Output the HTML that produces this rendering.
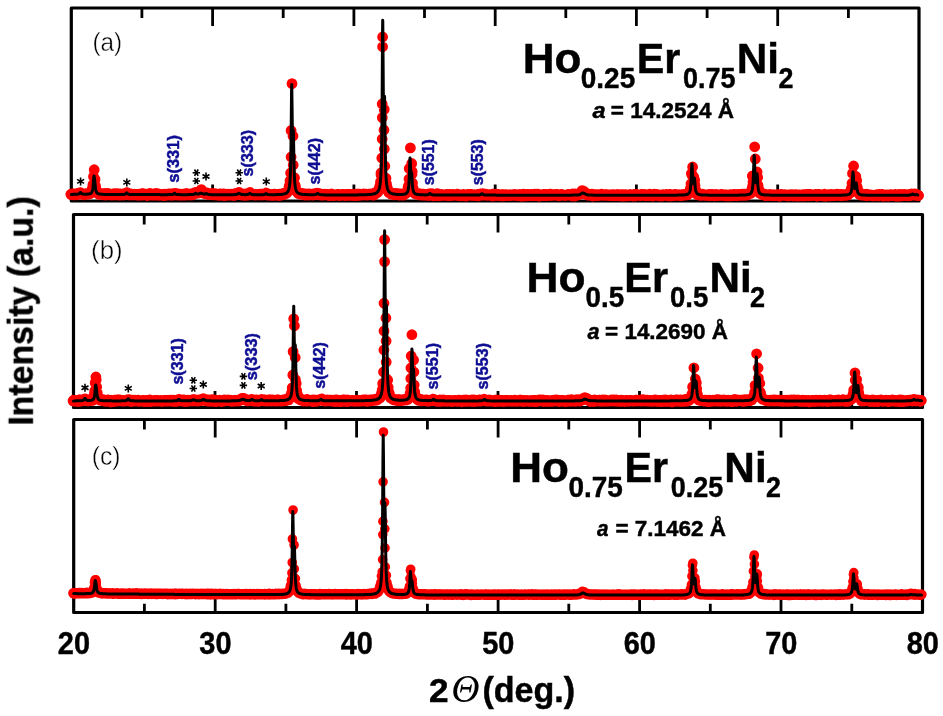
<!DOCTYPE html>
<html><head><meta charset="utf-8"><title>XRD patterns</title>
<style>html,body{margin:0;padding:0;background:#fff}svg{display:block}</style></head>
<body>
<svg width="943" height="716" viewBox="0 0 943 716">
<rect width="943" height="716" fill="#fff"/>
<path d="M141.9 9.1v9M141.9 199.9v-7.6M212.6 9.1v16.9M212.6 199.9v-15.5M283.2 9.1v9M283.2 199.9v-7.6M353.9 9.1v16.9M353.9 199.9v-15.5M424.5 9.1v9M424.5 199.9v-7.6M495.2 9.1v16.9M495.2 199.9v-15.5M565.8 9.1v9M565.8 199.9v-7.6M636.4 9.1v16.9M636.4 199.9v-15.5M707.1 9.1v9M707.1 199.9v-7.6M777.7 9.1v16.9M777.7 199.9v-15.5M848.4 9.1v9M848.4 199.9v-7.6" stroke="#000" stroke-width="2.8" fill="none"/>
<path d="M144.2 215.6v9M144.2 406.4v-7.6M215 215.6v16.9M215 406.4v-15.5M285.8 215.6v9M285.8 406.4v-7.6M356.5 215.6v16.9M356.5 406.4v-15.5M427.2 215.6v9M427.2 406.4v-7.6M498 215.6v16.9M498 406.4v-15.5M568.8 215.6v9M568.8 406.4v-7.6M639.5 215.6v16.9M639.5 406.4v-15.5M710.2 215.6v9M710.2 406.4v-7.6M781 215.6v16.9M781 406.4v-15.5M851.8 215.6v9M851.8 406.4v-7.6" stroke="#000" stroke-width="2.8" fill="none"/>
<path d="M144.4 420.6v9M144.4 611.4v-7.6M215.2 420.6v16.9M215.2 611.4v-15.5M285.9 420.6v9M285.9 611.4v-7.6M356.6 420.6v16.9M356.6 611.4v-15.5M427.4 420.6v9M427.4 611.4v-7.6M498.1 420.6v16.9M498.1 611.4v-15.5M568.8 420.6v9M568.8 611.4v-7.6M639.6 420.6v16.9M639.6 611.4v-15.5M710.3 420.6v9M710.3 611.4v-7.6M781 420.6v16.9M781 611.4v-15.5M851.8 420.6v9M851.8 611.4v-7.6" stroke="#000" stroke-width="2.8" fill="none"/>
<rect x="71.3" y="8" width="847.7" height="193" fill="none" stroke="#000" stroke-width="3.2" stroke-linejoin="round"/>
<rect x="73.5" y="214.5" width="849" height="193" fill="none" stroke="#000" stroke-width="3.2" stroke-linejoin="round"/>
<rect x="73.7" y="419.5" width="848.8" height="193" fill="none" stroke="#000" stroke-width="3.2" stroke-linejoin="round"/>
<path d="M71 194.2L71.5 194.4L72 194.2L72.5 194.1L73 193.9L73.5 194.2L74 194.6L74.5 194.4L75 194.6L75.5 194.3L76 194.4L76.5 194.3L77 193.6L77.5 194.5L78 194.3L78.5 194.2L79 193.3L79.5 193.1L80 192.9L80.5 192.8L81 193.3L81.5 193.6L82 194.1L82.5 193.8L83 194.2L83.5 194.2L84 193.9L84.5 194.7L85 194.3L85.5 194.5L86 193.8L86.5 193.8L87 193.9L87.5 193.9L88 194.1L88.5 193.9L89 193.5L89.5 193.2L90 193.2L90.5 193.5L91 192.4L91.5 192.1L92 191.1L92.5 188.3M96 189.7L96.5 191.3L97 191.7L97.5 193.1L98 193.4L98.5 193.8L99 194.2L99.5 193.9L100 193.9L100.5 193.5L101 194.2L101.5 193.9L102 194L102.5 193.7L103 193.8L103.5 194L104 194.7L104.5 193.5L105 193.7L105.5 194.4L106 194.8L106.5 194.5L107 193.6L107.5 193.4L108 194.4L108.5 194.1L109 193.9L109.5 194.7L110 194.7L110.5 194.4L111 194.4L111.5 194.5L112 194.9L112.5 194.6L113 194.6L113.5 194.6L114 193.8L114.5 194.8L115 194.7L115.5 194.6L116 193.7L116.5 194.2L117 194.7L117.5 193.8L118 194.3L118.5 194.8L119 193.9L119.5 195L120 194.6L120.5 194.3L121 194.5L121.5 194.6L122 194.4L122.5 194.8L123 194.1L123.5 194.2L124 194.7L124.5 194.3L125 193.9L125.5 194.4L126 194.3L126.5 193.2L127 192.8L127.5 193.7L128 194L128.5 194.1L129 194.8L129.5 194L130 194.8L130.5 194L131 194.1L131.5 194.6L132 194.8L132.5 194.7L133 194.6L133.5 194.5L134 194.5L134.5 194.7L135 194.4L135.5 194.6L136 194.7L136.5 194.5L137 194.7L137.5 194.7L138 195.2L138.5 194.6L139 194.3L139.5 194.4L140 194.5L140.5 194.8L141 194.4L141.5 194.6L142 195.1L142.5 193.6L143 194.1L143.5 194.6L144 194.6L144.5 194.6L145 194.4L145.5 194.7L146 194.6L146.5 194.3L147 195.4L147.5 194.6L148 194.3L148.5 194.5L149 194.4L149.5 194.5L150 193.6L150.5 194.4L151 194.9L151.5 194.1L152 194.5L152.5 194.9L153 194.8L153.5 195.1L154 193.9L154.5 194.4L155 194.4L155.5 194.8L156 194.9L156.5 193.6L157 194.9L157.5 194L158 194.8L158.5 194L159 194.6L159.5 195L160 194.5L160.5 194.6L161 194.8L161.5 194.6L162 194.5L162.5 195.1L163 194.9L163.5 194.5L164 195.5L164.5 194.2L165 194.9L165.5 194.5L166 194.6L166.5 194.8L167 194.6L167.5 194.8L168 194L168.5 194L169 194.8L169.5 194.2L170 194.2L170.5 194L171 195L171.5 194.8L172 195L172.5 194.1L173 194.3L173.5 193.7L174 194.1L174.5 194.1L175 193.5L175.5 194.7L176 194.7L176.5 194.3L177 193.8L177.5 195L178 194.5L178.5 194.3L179 194.7L179.5 194.7L180 195L180.5 194.2L181 194.9L181.5 195L182 195L182.5 194.5L183 194.3L183.5 194.9L184 194.6L184.5 194.6L185 195L185.5 194.4L186 193.7L186.5 194.4L187 193.8L187.5 194.8L188 194.6L188.5 194.2L189 194.4L189.5 194.7L190 194.4L190.5 194.9L191 194.3L191.5 194.7L192 194.8L192.5 194.8L193 193.9L193.5 194.4L194 193.3L194.5 193.3L195 192.6L195.5 193.4L196 192.7L196.5 193.2L197 193.2L197.5 193.1L198 192.7L198.5 192.6L199 192.7L199.5 191.5L200 191L200.5 190.6L201 189.9L201.5 189.8L202 190.6L202.5 191.8L203 191.5L203.5 192.4L204 193.3L204.5 193.5L205 193.4L205.5 193.7L206 193.4L206.5 192.8L207 193L207.5 193.6L208 194.4L208.5 194L209 193.9L209.5 194L210 193.8L210.5 194.4L211 194L211.5 194.6L212 193.6L212.5 194.6L213 194.3L213.5 193.8L214 194.8L214.5 194.4L215 193.8L215.5 194.3L216 194.7L216.5 194.4L217 194.9L217.5 194.9L218 194.8L218.5 194.7L219 195.1L219.5 194.8L220 194.8L220.5 193.9L221 194.9L221.5 195.1L222 194.5L222.5 194.5L223 195.3L223.5 194L224 194.8L224.5 195.5L225 194.3L225.5 194.9L226 195.3L226.5 194.6L227 194.9L227.5 195L228 194.4L228.5 194.6L229 194.8L229.5 195L230 194.7L230.5 194.6L231 194.3L231.5 194.5L232 194.9L232.5 194.6L233 194.3L233.5 194.3L234 195.5L234.5 194.9L235 194.7L235.5 193.5L236 194.6L236.5 194.4L237 194.7L237.5 194L238 193.6L238.5 193.4L239 192.4L239.5 193.6L240 193.7L240.5 193.6L241 194.6L241.5 194.9L242 193.9L242.5 194.2L243 194.6L243.5 194.6L244 194.4L244.5 194.2L245 195.3L245.5 194.9L246 194.1L246.5 194.1L247 195.1L247.5 194.8L248 195L248.5 194.4L249 193.5L249.5 193.5L250 192.6L250.5 193.5L251 194.1L251.5 194.5L252 194.2L252.5 194.5L253 194.7L253.5 194.7L254 194.8L254.5 194.7L255 194.5L255.5 194.9L256 194.7L256.5 194.4L257 194.4L257.5 194.7L258 194.6L258.5 194.7L259 194.7L259.5 194.7L260 194.6L260.5 194.2L261 194.8L261.5 195L262 194.8L262.5 194.6L263 194.8L263.5 194.3L264 193.9L264.5 194.5L265 194L265.5 194.3L266 193.5L266.5 193.1L267 194L267.5 195L268 194.4L268.5 194.1L269 194.3L269.5 194.8L270 194.8L270.5 194.7L271 195.1L271.5 194.9L272 194.6L272.5 194.8L273 195.2L273.5 194.9L274 195L274.5 194.2L275 194.5L275.5 194.8L276 194.5L276.5 194.9L277 194.7L277.5 194.8L278 194.4L278.5 195.4L279 194.9L279.5 194.3L280 194.4L280.5 195.3L281 194.2L281.5 194.6L282 194.6L282.5 194.2L283 193.7L283.5 194.1L284 194L284.5 194.2L285 193.9L285.5 193.4L286 193.5L286.5 193.1L287 192.6L287.5 192L288 191.1L288.5 190.4L289 188.1L289.5 185.5M295 185.3L295.5 188.2L296 190.3L296.5 190.8L297 191.8L297.5 191.8L298 193.1L298.5 193.5L299 192.8L299.5 193.6L300 194L300.5 193.3L301 193.4L301.5 193.7L302 194L302.5 193.7L303 194.3L303.5 194.4L304 194.6L304.5 194.7L305 195L305.5 194.9L306 194L306.5 194.4L307 194.2L307.5 194.2L308 194.6L308.5 194.6L309 194.8L309.5 194.1L310 194.2L310.5 194.6L311 194.6L311.5 194.5L312 194.6L312.5 194.4L313 194.9L313.5 194.8L314 194.6L314.5 194.4L315 194.5L315.5 193.5L316 194L316.5 194.2L317 193.3L317.5 193.6L318 193.9L318.5 193.7L319 194.3L319.5 194.4L320 194.8L320.5 194.9L321 194.7L321.5 194.4L322 194.7L322.5 194.7L323 195L323.5 194.9L324 194.5L324.5 194.3L325 194.6L325.5 194.5L326 194.4L326.5 194.7L327 194.6L327.5 194.8L328 195L328.5 194.6L329 195.6L329.5 194.7L330 195.2L330.5 194.8L331 195.2L331.5 194L332 194.5L332.5 194.9L333 195L333.5 195.6L334 194.9L334.5 195.3L335 195.1L335.5 195.1L336 195L336.5 194.8L337 195L337.5 194.4L338 195.2L338.5 194.5L339 194.9L339.5 195.6L340 194.7L340.5 194.8L341 195.2L341.5 194.8L342 194.5L342.5 194.9L343 195L343.5 195.1L344 194.5L344.5 195.4L345 195.4L345.5 194.8L346 194.9L346.5 194.7L347 195.3L347.5 194.6L348 195L348.5 194.6L349 194.6L349.5 195.1L350 195.3L350.5 194.8L351 194.6L351.5 195.1L352 194.8L352.5 194.9L353 195.3L353.5 195.2L354 194.6L354.5 195.6L355 194.8L355.5 195.1L356 194.6L356.5 194.8L357 194.2L357.5 195.4L358 195.2L358.5 194.3L359 194.2L359.5 194.2L360 195.2L360.5 194.6L361 194.7L361.5 194.6L362 194.7L362.5 194.3L363 194.7L363.5 194.2L364 194.6L364.5 194.8L365 194.8L365.5 194.5L366 194.3L366.5 194.7L367 194.4L367.5 195.1L368 194.8L368.5 194.5L369 194.3L369.5 194.2L370 194.1L370.5 194.2L371 194.4L371.5 194.5L372 194.4L372.5 194.9L373 193.8L373.5 194L374 194.9L374.5 193.1L375 193.4L375.5 193.5L376 193.3L376.5 193.1L377 192.5L377.5 192.3L378 191.6L378.5 191.1L379 189.2L379.5 188L380 185.9M387 187.1L387.5 189.4L388 190.1L388.5 191.5L389 192.6L389.5 192.2L390 192.8L390.5 193L391 193.8L391.5 193.6L392 194L392.5 193.5L393 193.9L393.5 194L394 193.4L394.5 194.6L395 194.5L395.5 193.6L396 194.5L396.5 194.2L397 194.5L397.5 194.5L398 193.8L398.5 194.3L399 194.9L399.5 194.2L400 194L400.5 193.9L401 193.9L401.5 194.4L402 194.9L402.5 194.4L403 194.2L403.5 194.9L404 193.8L404.5 193.6L405 193.9L405.5 193.7L406 192.8L406.5 192.3L407 192.2L407.5 191.1L408 188.9L408.5 186M413 188.4L413.5 190.2L414 191.8L414.5 192.9L415 193.6L415.5 193.3L416 193.7L416.5 194L417 193.6L417.5 194.2L418 194.1L418.5 194.5L419 194L419.5 193.8L420 194.6L420.5 194.7L421 194.4L421.5 195L422 194.6L422.5 194.5L423 194.9L423.5 194.2L424 194.5L424.5 194.7L425 195L425.5 194.7L426 194.9L426.5 194.5L427 194.8L427.5 195.3L428 194.4L428.5 195.4L429 194.1L429.5 194.1L430 193.9L430.5 194.4L431 193.9L431.5 193.8L432 194.9L432.5 195L433 195L433.5 195.7L434 194.9L434.5 195L435 195.2L435.5 195L436 195.5L436.5 194.5L437 194.8L437.5 193.7L438 195.2L438.5 194.8L439 195.2L439.5 195.7L440 194.9L440.5 194.8L441 194.8L441.5 194.6L442 194.7L442.5 195.2L443 195L443.5 195L444 194.9L444.5 195.3L445 195.2L445.5 194.9L446 195.2L446.5 194.9L447 194.6L447.5 195.5L448 195.2L448.5 194.7L449 195.4L449.5 195.1L450 194.4L450.5 195.6L451 195.1L451.5 195.3L452 195.1L452.5 194.9L453 194.5L453.5 195.3L454 195L454.5 194.9L455 195.1L455.5 195L456 195.2L456.5 194.9L457 195L457.5 194.3L458 194.9L458.5 195.2L459 195.5L459.5 194.9L460 195L460.5 195.6L461 194.9L461.5 195.3L462 195.6L462.5 195L463 195.4L463.5 194.8L464 195.1L464.5 195L465 195.1L465.5 195.4L466 195.9L466.5 194.8L467 194.8L467.5 195.2L468 194.6L468.5 195.2L469 195.2L469.5 194.9L470 195.2L470.5 194.5L471 195.3L471.5 194.5L472 194.8L472.5 194.8L473 194.9L473.5 195.3L474 195.1L474.5 194.9L475 195.2L475.5 195.6L476 195L476.5 195.1L477 195.4L477.5 195.1L478 194.5L478.5 195.8L479 195.7L479.5 194.2L480 194.8L480.5 194.9L481 194.9L481.5 194.5L482 194L482.5 193.9L483 194.6L483.5 195.1L484 194.5L484.5 194.6L485 194.9L485.5 194.3L486 194.9L486.5 194.8L487 195.2L487.5 194.8L488 194.7L488.5 194.9L489 195L489.5 194.8L490 195L490.5 195.3L491 195.5L491.5 195.6L492 194.8L492.5 194.9L493 194.2L493.5 195.7L494 194.8L494.5 195L495 195.2L495.5 194.6L496 195.2L496.5 195L497 194.4L497.5 195.2L498 195.5L498.5 194.4L499 195.3L499.5 195.1L500 195.2L500.5 195.2L501 195.5L501.5 195L502 195.4L502.5 194.9L503 195.3L503.5 194.8L504 195L504.5 195.7L505 195.2L505.5 195L506 194.7L506.5 194.8L507 195.1L507.5 195.4L508 195.2L508.5 195.3L509 195.1L509.5 195.5L510 194.9L510.5 194.9L511 195.4L511.5 195.1L512 195L512.5 194.9L513 195L513.5 195.3L514 195.2L514.5 194.6L515 195.2L515.5 195.1L516 194.7L516.5 195.3L517 195L517.5 195L518 195.4L518.5 195.5L519 194.8L519.5 195.2L520 194.8L520.5 195.9L521 194.9L521.5 195.5L522 194.9L522.5 195.4L523 195.9L523.5 194.2L524 194.9L524.5 195.3L525 195L525.5 194.8L526 195.8L526.5 195.1L527 194.5L527.5 195.4L528 194.5L528.5 195.5L529 194.9L529.5 195.1L530 195.5L530.5 195.1L531 194.6L531.5 194.5L532 195.5L532.5 195.3L533 194.8L533.5 195.4L534 195.3L534.5 195.3L535 194.3L535.5 195L536 195.4L536.5 195.3L537 195.4L537.5 194.2L538 195.1L538.5 195.3L539 196L539.5 194.7L540 195L540.5 195.1L541 195.4L541.5 194.9L542 195.5L542.5 194.8L543 195.2L543.5 194.9L544 195.1L544.5 194.8L545 194.5L545.5 195.5L546 195.2L546.5 194.9L547 195.2L547.5 195.4L548 194.7L548.5 195L549 195.3L549.5 195.3L550 195L550.5 194.3L551 195.5L551.5 195.2L552 195.1L552.5 195L553 195.2L553.5 194.9L554 194.7L554.5 194.8L555 194.9L555.5 194.9L556 194.7L556.5 195.3L557 194.6L557.5 195.3L558 194.7L558.5 195.2L559 195.6L559.5 195.2L560 194.8L560.5 195.1L561 195.1L561.5 194.5L562 194.9L562.5 195.1L563 194.9L563.5 195.1L564 195.3L564.5 195.3L565 195.4L565.5 195.3L566 195L566.5 195.1L567 195L567.5 194.9L568 195L568.5 194.4L569 194.9L569.5 195L570 194.7L570.5 195L571 195.2L571.5 195L572 195.7L572.5 194.1L573 194.9L573.5 194.3L574 195.3L574.5 195.9L575 194L575.5 194.9L576 195L576.5 194.7L577 195L577.5 193.9L578 194.9L578.5 194.6L579 194.4L579.5 194L580 194.1L580.5 193.3L581 193L581.5 192L582 190.7L582.5 191.1L583 191.3L583.5 191.8L584 191.6L584.5 192.2L585 193L585.5 193.3L586 194.1L586.5 194.7L587 194L587.5 193.8L588 194.9L588.5 195.2L589 195.1L589.5 195.1L590 194.6L590.5 194.6L591 195.2L591.5 194.6L592 194.3L592.5 194.6L593 195.9L593.5 195.7L594 194.8L594.5 194.8L595 195.1L595.5 194.8L596 195.5L596.5 195L597 194.7L597.5 195.5L598 194.9L598.5 195.1L599 195.1L599.5 195L600 195.2L600.5 194.8L601 194.4L601.5 194.3L602 194.6L602.5 194.8L603 195.1L603.5 195.1L604 195.3L604.5 195.1L605 194.8L605.5 194.9L606 194.4L606.5 195L607 195.3L607.5 195.3L608 195.1L608.5 195.1L609 195.4L609.5 195.1L610 195.4L610.5 195.3L611 195.2L611.5 195.6L612 194.9L612.5 195L613 194.8L613.5 194.8L614 195.7L614.5 195.7L615 195.1L615.5 195.3L616 195.5L616.5 195.4L617 195.5L617.5 194.7L618 194.9L618.5 195.3L619 195.6L619.5 195.2L620 194.8L620.5 195L621 194.9L621.5 194.8L622 195.7L622.5 194.9L623 195.1L623.5 195.9L624 195.5L624.5 195.3L625 194.9L625.5 195.3L626 195.7L626.5 195.4L627 195.6L627.5 195.2L628 195.3L628.5 195.1L629 195.3L629.5 195.6L630 194.6L630.5 195.1L631 195.2L631.5 194.9L632 195L632.5 195.4L633 195.8L633.5 195.4L634 195.2L634.5 194.6L635 195.8L635.5 195.2L636 195.1L636.5 194.7L637 195.1L637.5 194.8L638 195.2L638.5 195.3L639 195.1L639.5 195.2L640 194.8L640.5 195.6L641 194.9L641.5 194.5L642 195.1L642.5 194.9L643 194.8L643.5 195L644 195.2L644.5 194.7L645 195.1L645.5 195.6L646 195.4L646.5 195.1L647 195.2L647.5 195.1L648 195.1L648.5 195.4L649 195.1L649.5 194.3L650 195.1L650.5 194.8L651 195.4L651.5 194.9L652 195.2L652.5 195.9L653 194.8L653.5 194.7L654 194.6L654.5 194.3L655 194.5L655.5 195.3L656 194.9L656.5 194.5L657 194.6L657.5 195.4L658 194.9L658.5 195L659 195.3L659.5 195.6L660 195.8L660.5 195.5L661 195.2L661.5 195.2L662 195.8L662.5 195.6L663 195L663.5 195.3L664 195.2L664.5 195.2L665 195L665.5 194.7L666 194.9L666.5 194.6L667 195.6L667.5 195.3L668 194.7L668.5 195.6L669 195.4L669.5 194.5L670 195.8L670.5 195.4L671 195.8L671.5 194.7L672 195.3L672.5 195.3L673 195.2L673.5 195.2L674 195.5L674.5 194.6L675 194.7L675.5 194.6L676 194.9L676.5 194.9L677 195.2L677.5 195.2L678 195.1L678.5 194.8L679 194.9L679.5 195.4L680 195.3L680.5 195L681 194.9L681.5 195.5L682 194.8L682.5 195.2L683 195.3L683.5 194.8L684 195.1L684.5 194.4L685 195.1L685.5 194.8L686 194.1L686.5 194.8L687 194.1L687.5 194.7L688 193.8L688.5 193.6L689 193.3L689.5 192.4L690 191.3L690.5 188.5M691.5 173.6L692.5 176M693 183.9L693.5 184.6M694 181L694.5 180.1M695.5 189.9L696 191.3L696.5 193.4L697 193.4L697.5 194.7L698 194.1L698.5 194.6L699 194.4L699.5 194.2L700 195.1L700.5 195.1L701 195.3L701.5 195.1L702 194.7L702.5 194.3L703 194.7L703.5 194.7L704 194.7L704.5 195.2L705 195.1L705.5 194.9L706 195.1L706.5 195L707 195.1L707.5 195.3L708 195.4L708.5 194.8L709 194.5L709.5 195.6L710 195.1L710.5 195.5L711 194.5L711.5 195L712 195.1L712.5 194.6L713 194.9L713.5 195.4L714 195.5L714.5 195.7L715 194.8L715.5 194.6L716 195.3L716.5 195.4L717 195.2L717.5 194.7L718 195.4L718.5 195.4L719 195.3L719.5 195L720 195.2L720.5 195.4L721 194.9L721.5 194.5L722 195.2L722.5 195.3L723 195.1L723.5 195.4L724 194.9L724.5 195.1L725 195L725.5 195.3L726 195.7L726.5 195L727 195.8L727.5 195.7L728 195.4L728.5 195.3L729 195.7L729.5 195L730 195.1L730.5 194.7L731 195.3L731.5 195.6L732 195.3L732.5 195.2L733 195L733.5 195.2L734 194.6L734.5 195.5L735 194.9L735.5 194.7L736 194.8L736.5 194.8L737 195.4L737.5 195.4L738 194.6L738.5 195.4L739 195.3L739.5 194.8L740 194.5L740.5 194.7L741 194.8L741.5 195.1L742 194.8L742.5 194.2L743 195L743.5 194.4L744 195.2L744.5 194.4L745 194.5L745.5 194.4L746 194.5L746.5 195.1L747 194.9L747.5 194.7L748 194.5L748.5 193.7L749 193.9L749.5 193.6L750 193.2L750.5 193.3L751 192.2L751.5 191.3L752 189.6M755.5 179.1L756 180.3M756.5 174.9L757.5 177.5M758.5 188.8L759 191.5L759.5 192.6L760 192.5L760.5 193.3L761 193.3L761.5 194L762 194.4L762.5 194L763 193.8L763.5 195L764 194.8L764.5 195.2L765 194.3L765.5 195.2L766 195.6L766.5 195.6L767 194.8L767.5 195L768 194.9L768.5 195.3L769 195.4L769.5 195L770 194.5L770.5 195.3L771 194.9L771.5 195.3L772 195.2L772.5 195.6L773 195.5L773.5 194.9L774 195.2L774.5 195.7L775 194.9L775.5 195.3L776 195.5L776.5 195.6L777 195.3L777.5 194.7L778 194.7L778.5 195.2L779 195.3L779.5 196L780 194.8L780.5 195.5L781 195.4L781.5 194.6L782 194.9L782.5 195.2L783 195L783.5 195.1L784 195.3L784.5 194.9L785 195.3L785.5 194.9L786 195L786.5 195.4L787 195L787.5 195.3L788 195.7L788.5 195.2L789 195.1L789.5 195.4L790 195L790.5 195.6L791 194.7L791.5 195.4L792 195L792.5 194.9L793 195.8L793.5 194.9L794 195.8L794.5 195.4L795 195.7L795.5 194.8L796 195.6L796.5 195.7L797 195.1L797.5 195.1L798 196L798.5 195.2L799 195L799.5 195L800 195.3L800.5 195.3L801 195.2L801.5 195.8L802 195.1L802.5 195.3L803 195.7L803.5 194.8L804 195.5L804.5 195.8L805 194.7L805.5 194.8L806 194.8L806.5 194.5L807 195.3L807.5 194.5L808 195.4L808.5 195.7L809 194.6L809.5 195.1L810 194.5L810.5 195.5L811 194.9L811.5 195.1L812 195.2L812.5 195.4L813 195.1L813.5 195.2L814 195L814.5 195.2L815 194.8L815.5 195.2L816 194.5L816.5 195L817 195.9L817.5 195.2L818 194.8L818.5 195.3L819 194.9L819.5 194.6L820 194.9L820.5 195.5L821 195.3L821.5 195.2L822 194.9L822.5 194.8L823 195.7L823.5 195.3L824 194.9L824.5 194.4L825 194.7L825.5 196.1L826 194.8L826.5 195.2L827 195.3L827.5 195.1L828 195.1L828.5 194.7L829 194.8L829.5 195.8L830 194.9L830.5 195.5L831 194.6L831.5 195.1L832 195.3L832.5 195.5L833 194.8L833.5 195.4L834 195.3L834.5 194.9L835 195.3L835.5 194.8L836 194.9L836.5 195.1L837 194.2L837.5 195.1L838 194.8L838.5 194.6L839 194.9L839.5 195.4L840 194.9L840.5 195.5L841 194.6L841.5 194.6L842 195.6L842.5 195.1L843 195.3L843.5 194.7L844 195.2L844.5 195L845 195.1L845.5 194.8L846 195.2L846.5 194.5L847 194.3L847.5 194L848 194.8L848.5 193.9L849 193.6L849.5 193.2L850 192.9L850.5 191.8L851 190.8L851.5 188.2M854.5 186.1L855 186.6M856 179.5L856.5 180.7M857 186.8L857.5 189.5L858 191.7L858.5 192.8L859 193.4L859.5 194.3L860 194L860.5 194.7L861 194L861.5 194L862 195.1L862.5 194.9L863 195L863.5 194.9L864 195.1L864.5 194.5L865 195.3L865.5 194.8L866 195.4L866.5 195.1L867 194.4L867.5 194.6L868 195.5L868.5 195L869 195L869.5 195.2L870 195L870.5 194.9L871 195.2L871.5 195.2L872 195.7L872.5 195.2L873 195.8L873.5 195.8L874 195.8L874.5 195.5L875 195.2L875.5 195.2L876 195.1L876.5 194.9L877 195.2L877.5 195L878 195.8L878.5 195.4L879 195L879.5 194.5L880 195.2L880.5 195L881 194.8L881.5 194.8L882 194.4L882.5 195.4L883 195.2L883.5 196.1L884 195.2L884.5 195.1L885 195.7L885.5 195.2L886 195.3L886.5 195.1L887 195L887.5 195.7L888 195.6L888.5 195.8L889 195.1L889.5 195.2L890 194.9L890.5 195.5L891 194.7L891.5 195.4L892 195.6L892.5 195.7L893 194.9L893.5 195.6L894 195L894.5 194.9L895 194.7L895.5 195.6L896 195.8L896.5 195L897 194.9L897.5 195.1L898 196.1L898.5 195.6L899 195L899.5 194.6L900 195L900.5 195.6L901 195.9L901.5 195.1L902 195L902.5 195L903 194.5L903.5 195.5L904 194.8L904.5 195.6L905 194.6L905.5 194.8L906 195.3L906.5 194.9L907 195.5L907.5 195.2L908 194.7L908.5 195.4L909 195.4L909.5 194.4L910 195.7L910.5 195.2L911 195.1L911.5 194.1L912 194.3L912.5 194.3L913 194.9L913.5 194.2L914 194.5L914.5 194.2L915 194.8L915.5 195L916 194.2L916.5 194.6L917 195L917.5 195.5L918 195.3" stroke="#f00" stroke-width="11.0" fill="none" stroke-linecap="round" stroke-linejoin="round"/>
<path d="M93 184.5h0M93.5 176.5h0M95 179.4h0M95.5 185.7h0M290 180.7h0M294.5 177.7h0M380.5 181.7h0M381 174.6h0M386 178.2h0M386.5 183.7h0M409 179.1h0M412 174.3h0M412.5 183.1h0M691 183.8h0M695 185.4h0M752.5 186.5h0M753 181.9h0M758 185.3h0M852 183.2h0M852.5 173.4h0M854 182.2h0M855.5 183.3h0M382.6 37h0M382.6 46.8h0M382.2 104h0M384.2 109.4h0M382.3 117.6h0M384 130h0M382.2 139h0M384.3 149h0M381.8 158h0M384.8 166h0M381 173h0M292 83.6h0M291.1 130.5h0M293 136h0M291.1 157h0M293.2 165h0M290.6 173h0M410.4 147.9h0M411.7 163.5h0M409.2 168.5h0M412.2 171.5h0M94.2 169.7h0M692.6 167h0M693.8 177h0M754.7 146.8h0M755.3 159h0M757.1 172h0M752.3 176h0M853.6 166h0M855.9 176.5h0M71.3 194.7h0M918.5 195.5h0" stroke="#f00" stroke-width="10.8" fill="none" stroke-linecap="round"/>
<path d="M71.30 194.4L71.55 194.4L71.80 194.4L72.05 194.4L72.30 194.4L72.55 194.4L72.80 194.4L73.05 194.3L73.30 194.3L73.55 194.3L73.80 194.3L74.05 194.3L74.30 194.3L74.55 194.3L74.80 194.3L75.05 194.3L75.30 194.3L75.55 194.3L75.80 194.3L76.05 194.3L76.30 194.3L76.55 194.3L76.80 194.3L77.05 194.2L77.30 194.2L77.55 194.2L77.80 194.2L78.05 194.1L78.30 194.1L78.55 194L78.80 193.9L79.05 193.8L79.30 193.6L79.55 193.4L79.80 193.1L80.05 192.8L80.30 192.5L80.55 192.4L80.80 192.6L81.05 192.9L81.30 193.2L81.55 193.5L81.80 193.7L82.05 193.8L82.30 193.9L82.55 194L82.80 194.1L83.05 194.1L83.30 194.1L83.55 194.2L83.80 194.2L84.05 194.2L84.30 194.2L84.55 194.2L84.80 194.2L85.05 194.2L85.30 194.2L85.55 194.2L85.80 194.2L86.05 194.2L86.30 194.2L86.55 194.2L86.80 194.2L87.05 194.2L87.30 194.1L87.55 194.1L87.80 194.1L88.05 194.1L88.30 194.1L88.55 194L88.80 194L89.05 194L89.30 193.9L89.55 193.8L89.80 193.8L90.05 193.7L90.30 193.6L90.55 193.5L90.80 193.3L91.05 193.2L91.30 192.9L91.55 192.7L91.80 192.3L92.05 191.8L92.30 191.1L92.55 190.1L92.80 188.7L93.05 186.7L93.30 183.7L93.55 180.1L93.80 176.8L94.00 175.9L94.05 176L94.30 177.2L94.55 179L94.80 181.2L95.05 184L95.30 186.5L95.55 188.6L95.80 190L96.05 191L96.30 191.7L96.55 192.3L96.80 192.6L97.05 192.9L97.30 193.2L97.55 193.4L97.80 193.5L98.05 193.6L98.30 193.7L98.55 193.8L98.80 193.9L99.05 193.9L99.30 194L99.55 194L99.80 194.1L100.05 194.1L100.30 194.1L100.55 194.2L100.80 194.2L101.05 194.2L101.30 194.2L101.55 194.3L101.80 194.3L102.05 194.3L102.30 194.3L102.55 194.3L102.80 194.3L103.05 194.3L103.30 194.3L103.55 194.4L103.80 194.4L104.05 194.4L104.30 194.4L104.55 194.4L104.80 194.4L105.05 194.4L105.30 194.4L105.55 194.4L105.80 194.4L106.05 194.4L106.30 194.4L106.55 194.4L106.80 194.4L107.05 194.4L107.30 194.4L107.55 194.4L107.80 194.4L108.05 194.4L108.30 194.4L108.55 194.5L108.80 194.5L109.05 194.5L109.30 194.5L109.55 194.5L109.80 194.5L110.05 194.5L110.30 194.5L110.55 194.5L110.80 194.5L111.05 194.5L111.30 194.5L111.55 194.5L111.80 194.5L112.05 194.5L112.30 194.5L112.55 194.5L112.80 194.5L113.05 194.5L113.30 194.5L113.55 194.5L113.80 194.5L114.05 194.5L114.30 194.5L114.55 194.5L114.80 194.5L115.05 194.5L115.30 194.5L115.55 194.5L115.80 194.5L116.05 194.5L116.30 194.5L116.55 194.5L116.80 194.5L117.05 194.5L117.30 194.5L117.55 194.5L117.80 194.5L118.05 194.5L118.30 194.5L118.55 194.5L118.80 194.5L119.05 194.5L119.30 194.5L119.55 194.5L119.80 194.5L120.05 194.5L120.30 194.5L120.55 194.5L120.80 194.5L121.05 194.5L121.30 194.5L121.55 194.5L121.80 194.5L122.05 194.5L122.30 194.5L122.55 194.5L122.80 194.5L123.05 194.4L123.30 194.4L123.55 194.4L123.80 194.4L124.05 194.4L124.30 194.3L124.55 194.3L124.80 194.2L125.05 194.2L125.30 194.1L125.55 193.9L125.80 193.7L126.05 193.5L126.30 193.2L126.55 192.9L126.80 192.8L127.05 192.9L127.30 193.2L127.55 193.5L127.80 193.8L128.05 193.9L128.30 194.1L128.55 194.2L128.80 194.3L129.05 194.3L129.30 194.4L129.55 194.4L129.80 194.4L130.05 194.4L130.30 194.5L130.55 194.5L130.80 194.5L131.05 194.5L131.30 194.5L131.55 194.5L131.80 194.5L132.05 194.5L132.30 194.5L132.55 194.5L132.80 194.5L133.05 194.5L133.30 194.5L133.55 194.5L133.80 194.6L134.05 194.6L134.30 194.6L134.55 194.6L134.80 194.6L135.05 194.6L135.30 194.6L135.55 194.6L135.80 194.6L136.05 194.6L136.30 194.6L136.55 194.6L136.80 194.6L137.05 194.6L137.30 194.6L137.55 194.6L137.80 194.6L138.05 194.6L138.30 194.6L138.55 194.6L138.80 194.6L139.05 194.6L139.30 194.6L139.55 194.6L139.80 194.6L140.05 194.6L140.30 194.6L140.55 194.6L140.80 194.6L141.05 194.6L141.30 194.6L141.55 194.6L141.80 194.6L142.05 194.6L142.30 194.6L142.55 194.6L142.80 194.6L143.05 194.6L143.30 194.6L143.55 194.6L143.80 194.6L144.05 194.6L144.30 194.6L144.55 194.6L144.80 194.6L145.05 194.6L145.30 194.6L145.55 194.6L145.80 194.6L146.05 194.6L146.30 194.6L146.55 194.6L146.80 194.6L147.05 194.6L147.30 194.6L147.55 194.6L147.80 194.6L148.05 194.6L148.30 194.6L148.55 194.6L148.80 194.6L149.05 194.6L149.30 194.6L149.55 194.6L149.80 194.6L150.05 194.6L150.30 194.6L150.55 194.6L150.80 194.6L151.05 194.6L151.30 194.6L151.55 194.6L151.80 194.6L152.05 194.6L152.30 194.6L152.55 194.6L152.80 194.6L153.05 194.6L153.30 194.6L153.55 194.6L153.80 194.6L154.05 194.6L154.30 194.6L154.55 194.6L154.80 194.6L155.05 194.6L155.30 194.6L155.55 194.6L155.80 194.6L156.05 194.6L156.30 194.6L156.55 194.6L156.80 194.6L157.05 194.6L157.30 194.6L157.55 194.6L157.80 194.6L158.05 194.6L158.30 194.6L158.55 194.6L158.80 194.6L159.05 194.6L159.30 194.6L159.55 194.6L159.80 194.6L160.05 194.7L160.30 194.7L160.55 194.7L160.80 194.7L161.05 194.7L161.30 194.7L161.55 194.7L161.80 194.7L162.05 194.7L162.30 194.7L162.55 194.7L162.80 194.7L163.05 194.7L163.30 194.7L163.55 194.7L163.80 194.7L164.05 194.7L164.30 194.7L164.55 194.7L164.80 194.7L165.05 194.7L165.30 194.7L165.55 194.7L165.80 194.7L166.05 194.7L166.30 194.7L166.55 194.7L166.80 194.7L167.05 194.7L167.30 194.7L167.55 194.6L167.80 194.6L168.05 194.6L168.30 194.6L168.55 194.6L168.80 194.6L169.05 194.6L169.30 194.6L169.55 194.6L169.80 194.6L170.05 194.6L170.30 194.6L170.55 194.6L170.80 194.6L171.05 194.6L171.30 194.6L171.55 194.6L171.80 194.5L172.05 194.5L172.30 194.5L172.55 194.4L172.80 194.4L173.05 194.3L173.30 194.1L173.55 194L173.80 193.8L174.05 193.5L174.30 193.3L174.55 193.2L174.80 193.3L175.05 193.6L175.30 193.9L175.55 194.1L175.80 194.2L176.05 194.3L176.30 194.4L176.55 194.4L176.80 194.5L177.05 194.5L177.30 194.5L177.55 194.6L177.80 194.6L178.05 194.6L178.30 194.6L178.55 194.6L178.80 194.6L179.05 194.6L179.30 194.6L179.55 194.6L179.80 194.6L180.05 194.6L180.30 194.6L180.55 194.7L180.80 194.7L181.05 194.7L181.30 194.7L181.55 194.7L181.80 194.7L182.05 194.7L182.30 194.7L182.55 194.7L182.80 194.7L183.05 194.7L183.30 194.7L183.55 194.7L183.80 194.7L184.05 194.7L184.30 194.7L184.55 194.7L184.80 194.7L185.05 194.7L185.30 194.7L185.55 194.7L185.80 194.7L186.05 194.7L186.30 194.7L186.55 194.7L186.80 194.7L187.05 194.7L187.30 194.7L187.55 194.7L187.80 194.7L188.05 194.7L188.30 194.6L188.55 194.6L188.80 194.6L189.05 194.6L189.30 194.6L189.55 194.6L189.80 194.6L190.05 194.6L190.30 194.6L190.55 194.6L190.80 194.6L191.05 194.6L191.30 194.6L191.55 194.6L191.80 194.6L192.05 194.5L192.30 194.5L192.55 194.5L192.80 194.5L193.05 194.4L193.30 194.4L193.55 194.4L193.80 194.3L194.05 194.2L194.30 194.1L194.55 193.9L194.80 193.8L195.05 193.6L195.30 193.4L195.55 193.3L195.80 193.4L196.05 193.6L196.30 193.7L196.55 193.9L196.80 194L197.05 194L197.30 194.1L197.55 194.1L197.80 194.1L198.05 194L198.30 194L198.55 193.9L198.80 193.9L199.05 193.8L199.30 193.7L199.55 193.6L199.80 193.5L200.05 193.4L200.30 193.3L200.55 193.2L200.80 193.2L201.05 193.2L201.30 193.2L201.55 193.3L201.80 193.4L202.05 193.5L202.30 193.6L202.55 193.7L202.80 193.8L203.05 193.9L203.30 193.9L203.55 194L203.80 194.1L204.05 194.1L204.30 194.1L204.55 194.2L204.80 194.1L205.05 194.1L205.30 194.1L205.55 194L205.80 193.9L206.05 193.7L206.30 193.6L206.55 193.6L206.80 193.7L207.05 193.9L207.30 194L207.55 194.2L207.80 194.3L208.05 194.4L208.30 194.4L208.55 194.5L208.80 194.5L209.05 194.5L209.30 194.6L209.55 194.6L209.80 194.6L210.05 194.6L210.30 194.6L210.55 194.6L210.80 194.7L211.05 194.7L211.30 194.7L211.55 194.7L211.80 194.7L212.05 194.7L212.30 194.7L212.55 194.7L212.80 194.7L213.05 194.7L213.30 194.7L213.55 194.7L213.80 194.7L214.05 194.7L214.30 194.7L214.55 194.7L214.80 194.7L215.05 194.7L215.30 194.7L215.55 194.7L215.80 194.7L216.05 194.7L216.30 194.7L216.55 194.7L216.80 194.7L217.05 194.7L217.30 194.7L217.55 194.7L217.80 194.7L218.05 194.7L218.30 194.7L218.55 194.7L218.80 194.8L219.05 194.8L219.30 194.8L219.55 194.8L219.80 194.8L220.05 194.8L220.30 194.8L220.55 194.8L220.80 194.8L221.05 194.8L221.30 194.8L221.55 194.8L221.80 194.8L222.05 194.8L222.30 194.8L222.55 194.8L222.80 194.8L223.05 194.8L223.30 194.8L223.55 194.8L223.80 194.8L224.05 194.8L224.30 194.8L224.55 194.8L224.80 194.8L225.05 194.8L225.30 194.8L225.55 194.8L225.80 194.8L226.05 194.8L226.30 194.8L226.55 194.8L226.80 194.8L227.05 194.8L227.30 194.8L227.55 194.8L227.80 194.8L228.05 194.8L228.30 194.8L228.55 194.8L228.80 194.8L229.05 194.8L229.30 194.8L229.55 194.8L229.80 194.8L230.05 194.8L230.30 194.8L230.55 194.8L230.80 194.8L231.05 194.8L231.30 194.8L231.55 194.8L231.80 194.7L232.05 194.7L232.30 194.7L232.55 194.7L232.80 194.7L233.05 194.7L233.30 194.7L233.55 194.7L233.80 194.7L234.05 194.7L234.30 194.7L234.55 194.6L234.80 194.6L235.05 194.6L235.30 194.6L235.55 194.6L235.80 194.5L236.05 194.5L236.30 194.4L236.55 194.4L236.80 194.3L237.05 194.2L237.30 194.1L237.55 194L237.80 193.9L238.05 193.7L238.30 193.6L238.55 193.4L238.80 193.3L239.05 193.3L239.30 193.4L239.55 193.5L239.80 193.6L240.05 193.8L240.30 193.9L240.55 194.1L240.80 194.2L241.05 194.3L241.30 194.3L241.55 194.4L241.80 194.5L242.05 194.5L242.30 194.5L242.55 194.6L242.80 194.6L243.05 194.6L243.30 194.6L243.55 194.6L243.80 194.6L244.05 194.6L244.30 194.7L244.55 194.7L244.80 194.7L245.05 194.7L245.30 194.7L245.55 194.7L245.80 194.7L246.05 194.6L246.30 194.6L246.55 194.6L246.80 194.6L247.05 194.6L247.30 194.6L247.55 194.5L247.80 194.5L248.05 194.4L248.30 194.3L248.55 194.2L248.80 194L249.05 193.8L249.30 193.6L249.55 193.4L249.80 193.3L250.05 193.4L250.30 193.6L250.55 193.8L250.80 194L251.05 194.2L251.30 194.3L251.55 194.4L251.80 194.5L252.05 194.5L252.30 194.6L252.55 194.6L252.80 194.6L253.05 194.7L253.30 194.7L253.55 194.7L253.80 194.7L254.05 194.7L254.30 194.7L254.55 194.7L254.80 194.7L255.05 194.7L255.30 194.7L255.55 194.7L255.80 194.8L256.05 194.8L256.30 194.8L256.55 194.8L256.80 194.8L257.05 194.8L257.30 194.8L257.55 194.8L257.80 194.8L258.05 194.8L258.30 194.8L258.55 194.8L258.80 194.8L259.05 194.8L259.30 194.8L259.55 194.8L259.80 194.8L260.05 194.8L260.30 194.8L260.55 194.8L260.80 194.8L261.05 194.7L261.30 194.7L261.55 194.7L261.80 194.7L262.05 194.7L262.30 194.7L262.55 194.7L262.80 194.7L263.05 194.7L263.30 194.7L263.55 194.6L263.80 194.6L264.05 194.6L264.30 194.5L264.55 194.5L264.80 194.4L265.05 194.2L265.30 194L265.55 193.8L265.80 193.6L266.05 193.6L266.30 193.7L266.55 193.9L266.80 194.1L267.05 194.3L267.30 194.4L267.55 194.5L267.80 194.5L268.05 194.6L268.30 194.6L268.55 194.6L268.80 194.7L269.05 194.7L269.30 194.7L269.55 194.7L269.80 194.7L270.05 194.7L270.30 194.7L270.55 194.7L270.80 194.7L271.05 194.7L271.30 194.7L271.55 194.7L271.80 194.7L272.05 194.7L272.30 194.7L272.55 194.7L272.80 194.7L273.05 194.7L273.30 194.7L273.55 194.7L273.80 194.7L274.05 194.7L274.30 194.7L274.55 194.7L274.80 194.7L275.05 194.7L275.30 194.7L275.55 194.7L275.80 194.7L276.05 194.7L276.30 194.6L276.55 194.6L276.80 194.6L277.05 194.6L277.30 194.6L277.55 194.6L277.80 194.6L278.05 194.6L278.30 194.6L278.55 194.6L278.80 194.6L279.05 194.5L279.30 194.5L279.55 194.5L279.80 194.5L280.05 194.5L280.30 194.5L280.55 194.4L280.80 194.4L281.05 194.4L281.30 194.4L281.55 194.4L281.80 194.3L282.05 194.3L282.30 194.3L282.55 194.2L282.80 194.2L283.05 194.2L283.30 194.1L283.55 194.1L283.80 194L284.05 194L284.30 193.9L284.55 193.9L284.80 193.8L285.05 193.7L285.30 193.6L285.55 193.5L285.80 193.4L286.05 193.3L286.30 193.1L286.55 193L286.80 192.8L287.05 192.6L287.30 192.3L287.55 192L287.80 191.7L288.05 191.2L288.30 190.7L288.55 190.1L288.80 189.4L289.05 188.4L289.30 187.1L289.55 185.5L289.80 183.3L290.05 180.2L290.30 175.7L290.55 169L290.80 158.5L291.05 141.9L291.30 117.3L291.55 91.4L291.72 84.6L291.80 86.4L292.05 105.8L292.30 126.4L292.55 137L292.80 137.7L293.05 132.1L293.30 130L293.55 139.6L293.80 154.3L294.05 166.1L294.30 174.1L294.55 179.3L294.80 182.8L295.05 185.3L295.30 187L295.55 188.3L295.80 189.4L296.05 190.1L296.30 190.8L296.55 191.3L296.80 191.7L297.05 192.1L297.30 192.3L297.55 192.6L297.80 192.8L298.05 193L298.30 193.2L298.55 193.3L298.80 193.4L299.05 193.5L299.30 193.6L299.55 193.7L299.80 193.8L300.05 193.9L300.30 194L300.55 194L300.80 194.1L301.05 194.1L301.30 194.2L301.55 194.2L301.80 194.2L302.05 194.3L302.30 194.3L302.55 194.3L302.80 194.4L303.05 194.4L303.30 194.4L303.55 194.4L303.80 194.5L304.05 194.5L304.30 194.5L304.55 194.5L304.80 194.5L305.05 194.6L305.30 194.6L305.55 194.6L305.80 194.6L306.05 194.6L306.30 194.6L306.55 194.6L306.80 194.6L307.05 194.6L307.30 194.7L307.55 194.7L307.80 194.7L308.05 194.7L308.30 194.7L308.55 194.7L308.80 194.7L309.05 194.7L309.30 194.7L309.55 194.7L309.80 194.7L310.05 194.7L310.30 194.7L310.55 194.7L310.80 194.7L311.05 194.7L311.30 194.7L311.55 194.7L311.80 194.7L312.05 194.7L312.30 194.7L312.55 194.7L312.80 194.7L313.05 194.7L313.30 194.7L313.55 194.7L313.80 194.7L314.05 194.7L314.30 194.7L314.55 194.7L314.80 194.7L315.05 194.6L315.30 194.6L315.55 194.5L315.80 194.5L316.05 194.4L316.30 194.2L316.55 194.1L316.80 193.8L317.05 193.6L317.30 193.4L317.55 193.4L317.80 193.5L318.05 193.7L318.30 194L318.55 194.2L318.80 194.3L319.05 194.4L319.30 194.5L319.55 194.6L319.80 194.6L320.05 194.7L320.30 194.7L320.55 194.7L320.80 194.8L321.05 194.8L321.30 194.8L321.55 194.8L321.80 194.8L322.05 194.8L322.30 194.8L322.55 194.8L322.80 194.8L323.05 194.8L323.30 194.8L323.55 194.8L323.80 194.8L324.05 194.8L324.30 194.8L324.55 194.9L324.80 194.9L325.05 194.9L325.30 194.9L325.55 194.9L325.80 194.9L326.05 194.9L326.30 194.9L326.55 194.9L326.80 194.9L327.05 194.9L327.30 194.9L327.55 194.9L327.80 194.9L328.05 194.9L328.30 194.9L328.55 194.9L328.80 194.9L329.05 194.9L329.30 194.9L329.55 194.9L329.80 194.9L330.05 194.9L330.30 194.9L330.55 194.9L330.80 194.9L331.05 194.9L331.30 194.9L331.55 194.9L331.80 194.9L332.05 194.9L332.30 194.9L332.55 194.9L332.80 194.9L333.05 194.9L333.30 194.9L333.55 194.9L333.80 194.9L334.05 194.9L334.30 194.9L334.55 194.9L334.80 194.9L335.05 194.9L335.30 194.9L335.55 194.9L335.80 194.9L336.05 194.9L336.30 194.9L336.55 194.9L336.80 194.9L337.05 194.9L337.30 194.9L337.55 194.9L337.80 194.9L338.05 194.9L338.30 194.9L338.55 194.9L338.80 194.9L339.05 194.9L339.30 194.9L339.55 194.9L339.80 194.9L340.05 194.9L340.30 194.9L340.55 194.9L340.80 194.9L341.05 194.9L341.30 194.9L341.55 194.9L341.80 194.9L342.05 194.9L342.30 194.9L342.55 194.9L342.80 194.9L343.05 194.9L343.30 194.9L343.55 194.9L343.80 194.9L344.05 194.9L344.30 194.9L344.55 194.9L344.80 194.9L345.05 194.9L345.30 194.9L345.55 194.9L345.80 194.9L346.05 194.9L346.30 194.9L346.55 194.9L346.80 194.9L347.05 194.9L347.30 194.9L347.55 194.9L347.80 194.9L348.05 194.9L348.30 194.9L348.55 194.9L348.80 194.9L349.05 194.9L349.30 194.9L349.55 194.9L349.80 194.9L350.05 194.9L350.30 194.9L350.55 194.9L350.80 194.9L351.05 194.9L351.30 194.9L351.55 194.9L351.80 194.9L352.05 194.9L352.30 194.9L352.55 194.9L352.80 194.9L353.05 194.9L353.30 194.9L353.55 194.9L353.80 194.9L354.05 194.9L354.30 194.9L354.55 194.9L354.80 194.9L355.05 194.9L355.30 194.9L355.55 194.9L355.80 194.9L356.05 194.9L356.30 194.9L356.55 194.9L356.80 194.9L357.05 194.9L357.30 194.9L357.55 194.9L357.80 194.9L358.05 194.9L358.30 194.8L358.55 194.8L358.80 194.8L359.05 194.8L359.30 194.8L359.55 194.8L359.80 194.8L360.05 194.8L360.30 194.8L360.55 194.8L360.80 194.8L361.05 194.8L361.30 194.8L361.55 194.8L361.80 194.8L362.05 194.8L362.30 194.8L362.55 194.8L362.80 194.8L363.05 194.8L363.30 194.8L363.55 194.8L363.80 194.8L364.05 194.7L364.30 194.7L364.55 194.7L364.80 194.7L365.05 194.7L365.30 194.7L365.55 194.7L365.80 194.7L366.05 194.7L366.30 194.7L366.55 194.7L366.80 194.7L367.05 194.6L367.30 194.6L367.55 194.6L367.80 194.6L368.05 194.6L368.30 194.6L368.55 194.6L368.80 194.5L369.05 194.5L369.30 194.5L369.55 194.5L369.80 194.5L370.05 194.5L370.30 194.4L370.55 194.4L370.80 194.4L371.05 194.4L371.30 194.3L371.55 194.3L371.80 194.3L372.05 194.2L372.30 194.2L372.55 194.2L372.80 194.1L373.05 194.1L373.30 194L373.55 194L373.80 193.9L374.05 193.9L374.30 193.8L374.55 193.7L374.80 193.6L375.05 193.5L375.30 193.5L375.55 193.3L375.80 193.2L376.05 193.1L376.30 193L376.55 192.8L376.80 192.6L377.05 192.4L377.30 192.2L377.55 191.9L377.80 191.6L378.05 191.3L378.30 190.9L378.55 190.4L378.80 189.9L379.05 189.2L379.30 188.4L379.55 187.4L379.80 186.2L380.05 184.7L380.30 182.7L380.55 180.1L380.80 176.6L381.05 171.7L381.30 164.6L381.55 154L381.80 137.3L382.05 110.8L382.30 71.7L382.55 30.6L382.72 20.2L382.80 23.4L383.05 55.8L383.30 90.9L383.55 111.2L383.80 116.9L384.05 110.3L384.30 97.9L384.55 96.2L384.80 113.6L385.05 136L385.30 153.2L385.55 164.6L385.80 172.1L386.05 177.1L386.30 180.7L386.55 183.3L386.80 185.2L387.05 186.7L387.30 187.8L387.55 188.7L387.80 189.5L388.05 190.1L388.30 190.6L388.55 191.1L388.80 191.5L389.05 191.8L389.30 192.1L389.55 192.3L389.80 192.5L390.05 192.7L390.30 192.9L390.55 193L390.80 193.2L391.05 193.3L391.30 193.4L391.55 193.5L391.80 193.6L392.05 193.6L392.30 193.7L392.55 193.8L392.80 193.9L393.05 193.9L393.30 194L393.55 194L393.80 194.1L394.05 194.1L394.30 194.1L394.55 194.2L394.80 194.2L395.05 194.2L395.30 194.3L395.55 194.3L395.80 194.3L396.05 194.3L396.30 194.3L396.55 194.4L396.80 194.4L397.05 194.4L397.30 194.4L397.55 194.4L397.80 194.4L398.05 194.4L398.30 194.4L398.55 194.5L398.80 194.5L399.05 194.5L399.30 194.5L399.55 194.5L399.80 194.5L400.05 194.5L400.30 194.5L400.55 194.5L400.80 194.5L401.05 194.5L401.30 194.5L401.55 194.4L401.80 194.4L402.05 194.4L402.30 194.4L402.55 194.4L402.80 194.4L403.05 194.4L403.30 194.3L403.55 194.3L403.80 194.3L404.05 194.2L404.30 194.2L404.55 194.1L404.80 194.1L405.05 194L405.30 193.9L405.55 193.8L405.80 193.7L406.05 193.6L406.30 193.4L406.55 193.2L406.80 193L407.05 192.7L407.30 192.3L407.55 191.8L407.80 191.2L408.05 190.3L408.30 189.2L408.55 187.6L408.80 185.2L409.05 181.7L409.30 176.4L409.55 169L409.80 161.2L410.02 158.1L410.05 158.1L410.30 162.2L410.55 168.4L410.80 172.5L411.05 173.7L411.30 172.8L411.55 172.4L411.80 174.7L412.05 179.1L412.30 183.2L412.55 186.2L412.80 188.4L413.05 189.8L413.30 190.8L413.55 191.6L413.80 192.2L414.05 192.6L414.30 192.9L414.55 193.2L414.80 193.4L415.05 193.6L415.30 193.8L415.55 193.9L415.80 194L416.05 194.1L416.30 194.2L416.55 194.2L416.80 194.3L417.05 194.4L417.30 194.4L417.55 194.4L417.80 194.5L418.05 194.5L418.30 194.6L418.55 194.6L418.80 194.6L419.05 194.6L419.30 194.7L419.55 194.7L419.80 194.7L420.05 194.7L420.30 194.7L420.55 194.7L420.80 194.8L421.05 194.8L421.30 194.8L421.55 194.8L421.80 194.8L422.05 194.8L422.30 194.8L422.55 194.8L422.80 194.8L423.05 194.8L423.30 194.8L423.55 194.8L423.80 194.8L424.05 194.8L424.30 194.9L424.55 194.9L424.80 194.9L425.05 194.9L425.30 194.9L425.55 194.9L425.80 194.8L426.05 194.8L426.30 194.8L426.55 194.8L426.80 194.8L427.05 194.8L427.30 194.8L427.55 194.7L427.80 194.7L428.05 194.6L428.30 194.6L428.55 194.5L428.80 194.4L429.05 194.2L429.30 194L429.55 193.7L429.80 193.5L430.05 193.5L430.30 193.6L430.55 193.8L430.80 194.1L431.05 194.3L431.30 194.4L431.55 194.6L431.80 194.6L432.05 194.7L432.30 194.8L432.55 194.8L432.80 194.8L433.05 194.9L433.30 194.9L433.55 194.9L433.80 194.9L434.05 194.9L434.30 194.9L434.55 195L434.80 195L435.05 195L435.30 195L435.55 195L435.80 195L436.05 195L436.30 195L436.55 195L436.80 195L437.05 195L437.30 195L437.55 195L437.80 195L438.05 195L438.30 195L438.55 195L438.80 195L439.05 195L439.30 195L439.55 195L439.80 195L440.05 195L440.30 195L440.55 195L440.80 195L441.05 195L441.30 195L441.55 195L441.80 195L442.05 195L442.30 195L442.55 195L442.80 195.1L443.05 195.1L443.30 195.1L443.55 195.1L443.80 195.1L444.05 195.1L444.30 195.1L444.55 195.1L444.80 195.1L445.05 195.1L445.30 195.1L445.55 195.1L445.80 195.1L446.05 195.1L446.30 195.1L446.55 195.1L446.80 195.1L447.05 195.1L447.30 195.1L447.55 195.1L447.80 195.1L448.05 195.1L448.30 195.1L448.55 195.1L448.80 195.1L449.05 195.1L449.30 195.1L449.55 195.1L449.80 195.1L450.05 195.1L450.30 195.1L450.55 195.1L450.80 195.1L451.05 195.1L451.30 195.1L451.55 195.1L451.80 195.1L452.05 195.1L452.30 195.1L452.55 195.1L452.80 195.1L453.05 195.1L453.30 195.1L453.55 195.1L453.80 195.1L454.05 195.1L454.30 195.1L454.55 195.1L454.80 195.1L455.05 195.1L455.30 195.1L455.55 195.1L455.80 195.1L456.05 195.1L456.30 195.1L456.55 195.1L456.80 195.1L457.05 195.1L457.30 195.1L457.55 195.1L457.80 195.1L458.05 195.1L458.30 195.1L458.55 195.1L458.80 195.1L459.05 195.1L459.30 195.1L459.55 195.1L459.80 195.1L460.05 195.1L460.30 195.1L460.55 195.1L460.80 195.1L461.05 195.1L461.30 195.1L461.55 195.1L461.80 195.1L462.05 195.1L462.30 195.1L462.55 195.1L462.80 195.1L463.05 195.1L463.30 195.1L463.55 195.1L463.80 195.1L464.05 195.1L464.30 195.1L464.55 195.1L464.80 195.1L465.05 195.1L465.30 195.1L465.55 195.1L465.80 195.1L466.05 195.1L466.30 195.1L466.55 195.1L466.80 195.1L467.05 195.1L467.30 195.1L467.55 195.1L467.80 195.1L468.05 195.1L468.30 195.1L468.55 195.1L468.80 195.1L469.05 195.1L469.30 195.1L469.55 195.1L469.80 195.1L470.05 195.1L470.30 195.1L470.55 195.1L470.80 195.1L471.05 195.1L471.30 195.1L471.55 195.1L471.80 195.1L472.05 195.1L472.30 195.1L472.55 195.1L472.80 195.1L473.05 195.1L473.30 195.1L473.55 195.1L473.80 195.1L474.05 195.1L474.30 195.1L474.55 195.1L474.80 195.1L475.05 195.1L475.30 195.1L475.55 195.1L475.80 195.1L476.05 195.1L476.30 195.1L476.55 195.1L476.80 195.1L477.05 195.1L477.30 195.1L477.55 195.1L477.80 195.1L478.05 195.1L478.30 195L478.55 195L478.80 195L479.05 195L479.30 195L479.55 194.9L479.80 194.9L480.05 194.8L480.30 194.8L480.55 194.7L480.80 194.5L481.05 194.4L481.30 194.1L481.55 193.9L481.80 193.7L482.05 193.6L482.30 193.8L482.55 194L482.80 194.2L483.05 194.4L483.30 194.6L483.55 194.7L483.80 194.8L484.05 194.9L484.30 194.9L484.55 194.9L484.80 195L485.05 195L485.30 195L485.55 195L485.80 195.1L486.05 195.1L486.30 195.1L486.55 195.1L486.80 195.1L487.05 195.1L487.30 195.1L487.55 195.1L487.80 195.1L488.05 195.1L488.30 195.1L488.55 195.1L488.80 195.1L489.05 195.1L489.30 195.1L489.55 195.1L489.80 195.1L490.05 195.1L490.30 195.1L490.55 195.1L490.80 195.1L491.05 195.1L491.30 195.1L491.55 195.1L491.80 195.1L492.05 195.1L492.30 195.1L492.55 195.1L492.80 195.1L493.05 195.1L493.30 195.1L493.55 195.1L493.80 195.1L494.05 195.1L494.30 195.1L494.55 195.1L494.80 195.1L495.05 195.1L495.30 195.1L495.55 195.1L495.80 195.1L496.05 195.1L496.30 195.2L496.55 195.2L496.80 195.2L497.05 195.2L497.30 195.2L497.55 195.2L497.80 195.2L498.05 195.2L498.30 195.2L498.55 195.2L498.80 195.2L499.05 195.2L499.30 195.2L499.55 195.2L499.80 195.2L500.05 195.2L500.30 195.2L500.55 195.2L500.80 195.2L501.05 195.2L501.30 195.2L501.55 195.2L501.80 195.2L502.05 195.2L502.30 195.2L502.55 195.2L502.80 195.2L503.05 195.2L503.30 195.2L503.55 195.2L503.80 195.2L504.05 195.2L504.30 195.2L504.55 195.2L504.80 195.2L505.05 195.2L505.30 195.2L505.55 195.2L505.80 195.2L506.05 195.2L506.30 195.2L506.55 195.2L506.80 195.2L507.05 195.2L507.30 195.2L507.55 195.2L507.80 195.2L508.05 195.2L508.30 195.2L508.55 195.2L508.80 195.2L509.05 195.2L509.30 195.2L509.55 195.2L509.80 195.2L510.05 195.2L510.30 195.2L510.55 195.2L510.80 195.2L511.05 195.2L511.30 195.2L511.55 195.2L511.80 195.2L512.05 195.2L512.30 195.2L512.55 195.2L512.80 195.2L513.05 195.2L513.30 195.2L513.55 195.2L513.80 195.2L514.05 195.2L514.30 195.2L514.55 195.2L514.80 195.2L515.05 195.2L515.30 195.2L515.55 195.2L515.80 195.2L516.05 195.2L516.30 195.2L516.55 195.2L516.80 195.2L517.05 195.2L517.30 195.2L517.55 195.2L517.80 195.2L518.05 195.2L518.30 195.2L518.55 195.2L518.80 195.2L519.05 195.2L519.30 195.2L519.55 195.2L519.80 195.2L520.05 195.2L520.30 195.2L520.55 195.2L520.80 195.2L521.05 195.2L521.30 195.2L521.55 195.2L521.80 195.2L522.05 195.2L522.30 195.2L522.55 195.2L522.80 195.2L523.05 195.2L523.30 195.2L523.55 195.2L523.80 195.2L524.05 195.2L524.30 195.2L524.55 195.2L524.80 195.2L525.05 195.2L525.30 195.2L525.55 195.2L525.80 195.2L526.05 195.2L526.30 195.2L526.55 195.2L526.80 195.2L527.05 195.2L527.30 195.2L527.55 195.2L527.80 195.2L528.05 195.2L528.30 195.2L528.55 195.2L528.80 195.2L529.05 195.2L529.30 195.2L529.55 195.2L529.80 195.2L530.05 195.2L530.30 195.2L530.55 195.2L530.80 195.2L531.05 195.2L531.30 195.2L531.55 195.2L531.80 195.2L532.05 195.2L532.30 195.2L532.55 195.2L532.80 195.2L533.05 195.2L533.30 195.2L533.55 195.2L533.80 195.2L534.05 195.2L534.30 195.2L534.55 195.2L534.80 195.2L535.05 195.2L535.30 195.2L535.55 195.2L535.80 195.2L536.05 195.2L536.30 195.2L536.55 195.2L536.80 195.2L537.05 195.2L537.30 195.2L537.55 195.2L537.80 195.2L538.05 195.2L538.30 195.2L538.55 195.2L538.80 195.2L539.05 195.2L539.30 195.2L539.55 195.2L539.80 195.2L540.05 195.2L540.30 195.2L540.55 195.2L540.80 195.2L541.05 195.2L541.30 195.2L541.55 195.2L541.80 195.2L542.05 195.2L542.30 195.2L542.55 195.2L542.80 195.2L543.05 195.2L543.30 195.2L543.55 195.2L543.80 195.2L544.05 195.2L544.30 195.2L544.55 195.2L544.80 195.2L545.05 195.2L545.30 195.2L545.55 195.2L545.80 195.2L546.05 195.2L546.30 195.2L546.55 195.2L546.80 195.2L547.05 195.2L547.30 195.2L547.55 195.2L547.80 195.2L548.05 195.2L548.30 195.2L548.55 195.2L548.80 195.2L549.05 195.2L549.30 195.2L549.55 195.2L549.80 195.2L550.05 195.2L550.30 195.2L550.55 195.2L550.80 195.2L551.05 195.2L551.30 195.2L551.55 195.2L551.80 195.2L552.05 195.2L552.30 195.2L552.55 195.2L552.80 195.2L553.05 195.2L553.30 195.2L553.55 195.2L553.80 195.2L554.05 195.2L554.30 195.2L554.55 195.2L554.80 195.2L555.05 195.2L555.30 195.2L555.55 195.2L555.80 195.2L556.05 195.2L556.30 195.2L556.55 195.2L556.80 195.2L557.05 195.2L557.30 195.2L557.55 195.2L557.80 195.2L558.05 195.2L558.30 195.2L558.55 195.2L558.80 195.2L559.05 195.2L559.30 195.2L559.55 195.2L559.80 195.2L560.05 195.2L560.30 195.2L560.55 195.2L560.80 195.2L561.05 195.2L561.30 195.2L561.55 195.2L561.80 195.2L562.05 195.2L562.30 195.2L562.55 195.2L562.80 195.2L563.05 195.2L563.30 195.2L563.55 195.2L563.80 195.2L564.05 195.2L564.30 195.2L564.55 195.2L564.80 195.2L565.05 195.2L565.30 195.2L565.55 195.2L565.80 195.2L566.05 195.2L566.30 195.2L566.55 195.2L566.80 195.2L567.05 195.2L567.30 195.2L567.55 195.2L567.80 195.2L568.05 195.2L568.30 195.2L568.55 195.2L568.80 195.2L569.05 195.2L569.30 195.2L569.55 195.2L569.80 195.2L570.05 195.2L570.30 195.2L570.55 195.2L570.80 195.2L571.05 195.2L571.30 195.2L571.55 195.2L571.80 195.2L572.05 195.1L572.30 195.1L572.55 195.1L572.80 195.1L573.05 195.1L573.30 195.1L573.55 195.1L573.80 195.1L574.05 195.1L574.30 195.1L574.55 195.1L574.80 195.1L575.05 195.1L575.30 195.1L575.55 195.1L575.80 195.1L576.05 195.1L576.30 195.1L576.55 195L576.80 195L577.05 195L577.30 195L577.55 195L577.80 195L578.05 194.9L578.30 194.9L578.55 194.9L578.80 194.8L579.05 194.8L579.30 194.7L579.55 194.7L579.80 194.6L580.05 194.5L580.30 194.4L580.55 194.2L580.80 194.1L581.05 193.9L581.30 193.7L581.55 193.5L581.80 193.3L582.05 193.1L582.30 192.9L582.55 192.9L582.58 192.9L582.80 192.9L583.05 193L583.30 193.1L583.55 193.2L583.80 193.3L584.05 193.4L584.30 193.5L584.55 193.6L584.80 193.7L585.05 193.9L585.30 194L585.55 194.2L585.80 194.3L586.05 194.4L586.30 194.5L586.55 194.6L586.80 194.7L587.05 194.7L587.30 194.8L587.55 194.8L587.80 194.9L588.05 194.9L588.30 194.9L588.55 195L588.80 195L589.05 195L589.30 195L589.55 195L589.80 195.1L590.05 195.1L590.30 195.1L590.55 195.1L590.80 195.1L591.05 195.1L591.30 195.1L591.55 195.1L591.80 195.1L592.05 195.1L592.30 195.1L592.55 195.1L592.80 195.1L593.05 195.1L593.30 195.2L593.55 195.2L593.80 195.2L594.05 195.2L594.30 195.2L594.55 195.2L594.80 195.2L595.05 195.2L595.30 195.2L595.55 195.2L595.80 195.2L596.05 195.2L596.30 195.2L596.55 195.2L596.80 195.2L597.05 195.2L597.30 195.2L597.55 195.2L597.80 195.2L598.05 195.2L598.30 195.2L598.55 195.2L598.80 195.2L599.05 195.2L599.30 195.2L599.55 195.2L599.80 195.2L600.05 195.2L600.30 195.2L600.55 195.2L600.80 195.2L601.05 195.2L601.30 195.2L601.55 195.2L601.80 195.2L602.05 195.2L602.30 195.2L602.55 195.2L602.80 195.2L603.05 195.2L603.30 195.2L603.55 195.2L603.80 195.2L604.05 195.2L604.30 195.2L604.55 195.2L604.80 195.2L605.05 195.2L605.30 195.2L605.55 195.2L605.80 195.2L606.05 195.2L606.30 195.2L606.55 195.2L606.80 195.2L607.05 195.2L607.30 195.2L607.55 195.2L607.80 195.2L608.05 195.2L608.30 195.2L608.55 195.2L608.80 195.2L609.05 195.2L609.30 195.2L609.55 195.2L609.80 195.2L610.05 195.2L610.30 195.2L610.55 195.2L610.80 195.2L611.05 195.2L611.30 195.2L611.55 195.2L611.80 195.2L612.05 195.2L612.30 195.2L612.55 195.2L612.80 195.2L613.05 195.2L613.30 195.2L613.55 195.2L613.80 195.2L614.05 195.2L614.30 195.2L614.55 195.2L614.80 195.2L615.05 195.2L615.30 195.2L615.55 195.2L615.80 195.2L616.05 195.2L616.30 195.2L616.55 195.2L616.80 195.2L617.05 195.2L617.30 195.2L617.55 195.2L617.80 195.2L618.05 195.2L618.30 195.2L618.55 195.2L618.80 195.2L619.05 195.2L619.30 195.2L619.55 195.2L619.80 195.2L620.05 195.2L620.30 195.2L620.55 195.2L620.80 195.2L621.05 195.2L621.30 195.2L621.55 195.2L621.80 195.2L622.05 195.2L622.30 195.2L622.55 195.2L622.80 195.2L623.05 195.2L623.30 195.2L623.55 195.2L623.80 195.2L624.05 195.2L624.30 195.2L624.55 195.2L624.80 195.2L625.05 195.2L625.30 195.2L625.55 195.2L625.80 195.2L626.05 195.2L626.30 195.2L626.55 195.2L626.80 195.2L627.05 195.2L627.30 195.2L627.55 195.2L627.80 195.2L628.05 195.2L628.30 195.2L628.55 195.2L628.80 195.2L629.05 195.2L629.30 195.2L629.55 195.2L629.80 195.2L630.05 195.2L630.30 195.2L630.55 195.2L630.80 195.2L631.05 195.2L631.30 195.2L631.55 195.2L631.80 195.2L632.05 195.2L632.30 195.2L632.55 195.2L632.80 195.2L633.05 195.2L633.30 195.2L633.55 195.2L633.80 195.2L634.05 195.2L634.30 195.2L634.55 195.2L634.80 195.2L635.05 195.2L635.30 195.2L635.55 195.2L635.80 195.2L636.05 195.2L636.30 195.2L636.55 195.2L636.80 195.2L637.05 195.2L637.30 195.2L637.55 195.2L637.80 195.2L638.05 195.2L638.30 195.2L638.55 195.2L638.80 195.2L639.05 195.2L639.30 195.2L639.55 195.2L639.80 195.2L640.05 195.2L640.30 195.2L640.55 195.2L640.80 195.2L641.05 195.2L641.30 195.2L641.55 195.2L641.80 195.2L642.05 195.2L642.30 195.2L642.55 195.2L642.80 195.2L643.05 195.2L643.30 195.2L643.55 195.2L643.80 195.2L644.05 195.2L644.30 195.2L644.55 195.2L644.80 195.2L645.05 195.2L645.30 195.2L645.55 195.2L645.80 195.2L646.05 195.2L646.30 195.2L646.55 195.2L646.80 195.2L647.05 195.2L647.30 195.2L647.55 195.2L647.80 195.2L648.05 195.2L648.30 195.2L648.55 195.2L648.80 195.2L649.05 195.2L649.30 195.2L649.55 195.2L649.80 195.2L650.05 195.2L650.30 195.2L650.55 195.2L650.80 195.2L651.05 195.2L651.30 195.2L651.55 195.2L651.80 195.2L652.05 195.2L652.30 195.2L652.55 195.2L652.80 195.2L653.05 195.2L653.30 195.2L653.55 195.2L653.80 195.2L654.05 195.2L654.30 195.2L654.55 195.2L654.80 195.2L655.05 195.2L655.30 195.2L655.55 195.2L655.80 195.2L656.05 195.2L656.30 195.2L656.55 195.2L656.80 195.2L657.05 195.2L657.30 195.2L657.55 195.2L657.80 195.2L658.05 195.2L658.30 195.2L658.55 195.2L658.80 195.2L659.05 195.2L659.30 195.2L659.55 195.2L659.80 195.2L660.05 195.2L660.30 195.2L660.55 195.2L660.80 195.2L661.05 195.2L661.30 195.2L661.55 195.2L661.80 195.2L662.05 195.2L662.30 195.2L662.55 195.2L662.80 195.2L663.05 195.2L663.30 195.2L663.55 195.2L663.80 195.2L664.05 195.2L664.30 195.2L664.55 195.2L664.80 195.2L665.05 195.2L665.30 195.2L665.55 195.2L665.80 195.2L666.05 195.2L666.30 195.2L666.55 195.2L666.80 195.2L667.05 195.2L667.30 195.2L667.55 195.2L667.80 195.2L668.05 195.2L668.30 195.2L668.55 195.2L668.80 195.2L669.05 195.2L669.30 195.2L669.55 195.2L669.80 195.2L670.05 195.2L670.30 195.2L670.55 195.2L670.80 195.2L671.05 195.2L671.30 195.2L671.55 195.2L671.80 195.2L672.05 195.2L672.30 195.2L672.55 195.2L672.80 195.2L673.05 195.2L673.30 195.2L673.55 195.2L673.80 195.2L674.05 195.2L674.30 195.2L674.55 195.2L674.80 195.2L675.05 195.2L675.30 195.2L675.55 195.2L675.80 195.2L676.05 195.2L676.30 195.2L676.55 195.2L676.80 195.2L677.05 195.2L677.30 195.2L677.55 195.2L677.80 195.1L678.05 195.1L678.30 195.1L678.55 195.1L678.80 195.1L679.05 195.1L679.30 195.1L679.55 195.1L679.80 195.1L680.05 195.1L680.30 195.1L680.55 195.1L680.80 195.1L681.05 195.1L681.30 195.1L681.55 195.1L681.80 195L682.05 195L682.30 195L682.55 195L682.80 195L683.05 195L683.30 195L683.55 195L683.80 194.9L684.05 194.9L684.30 194.9L684.55 194.9L684.80 194.8L685.05 194.8L685.30 194.8L685.55 194.7L685.80 194.7L686.05 194.7L686.30 194.6L686.55 194.5L686.80 194.5L687.05 194.4L687.30 194.3L687.55 194.2L687.80 194.1L688.05 194L688.30 193.8L688.55 193.6L688.80 193.3L689.05 193L689.30 192.6L689.55 192.1L689.80 191.5L690.05 190.6L690.30 189.3L690.55 187.6L690.80 185.1L691.05 181.4L691.30 176.1L691.55 169.6L691.80 164.6L691.90 164L692.05 165L692.30 170.1L692.55 175.9L692.80 180.1L693.05 182.5L693.30 183.5L693.55 183.2L693.80 181.8L694.05 179.5L694.30 177.9L694.55 178.6L694.80 181.5L695.05 184.8L695.30 187.4L695.55 189.3L695.80 190.6L696.05 191.5L696.30 192.2L696.55 192.7L696.80 193.1L697.05 193.4L697.30 193.7L697.55 193.9L697.80 194L698.05 194.2L698.30 194.3L698.55 194.4L698.80 194.5L699.05 194.5L699.30 194.6L699.55 194.6L699.80 194.7L700.05 194.7L700.30 194.8L700.55 194.8L700.80 194.8L701.05 194.9L701.30 194.9L701.55 194.9L701.80 194.9L702.05 194.9L702.30 195L702.55 195L702.80 195L703.05 195L703.30 195L703.55 195L703.80 195L704.05 195.1L704.30 195.1L704.55 195.1L704.80 195.1L705.05 195.1L705.30 195.1L705.55 195.1L705.80 195.1L706.05 195.1L706.30 195.1L706.55 195.1L706.80 195.1L707.05 195.1L707.30 195.1L707.55 195.1L707.80 195.1L708.05 195.2L708.30 195.2L708.55 195.2L708.80 195.2L709.05 195.2L709.30 195.2L709.55 195.2L709.80 195.2L710.05 195.2L710.30 195.2L710.55 195.2L710.80 195.2L711.05 195.2L711.30 195.2L711.55 195.2L711.80 195.2L712.05 195.2L712.30 195.2L712.55 195.2L712.80 195.2L713.05 195.2L713.30 195.2L713.55 195.2L713.80 195.2L714.05 195.2L714.30 195.2L714.55 195.2L714.80 195.2L715.05 195.2L715.30 195.2L715.55 195.2L715.80 195.2L716.05 195.2L716.30 195.2L716.55 195.2L716.80 195.2L717.05 195.2L717.30 195.2L717.55 195.2L717.80 195.2L718.05 195.2L718.30 195.2L718.55 195.2L718.80 195.2L719.05 195.2L719.30 195.2L719.55 195.2L719.80 195.2L720.05 195.2L720.30 195.2L720.55 195.2L720.80 195.2L721.05 195.2L721.30 195.2L721.55 195.2L721.80 195.2L722.05 195.2L722.30 195.2L722.55 195.2L722.80 195.2L723.05 195.2L723.30 195.2L723.55 195.2L723.80 195.2L724.05 195.2L724.30 195.2L724.55 195.2L724.80 195.2L725.05 195.2L725.30 195.2L725.55 195.2L725.80 195.2L726.05 195.2L726.30 195.2L726.55 195.2L726.80 195.2L727.05 195.2L727.30 195.2L727.55 195.2L727.80 195.2L728.05 195.2L728.30 195.2L728.55 195.2L728.80 195.2L729.05 195.2L729.30 195.2L729.55 195.2L729.80 195.2L730.05 195.2L730.30 195.2L730.55 195.2L730.80 195.2L731.05 195.2L731.30 195.2L731.55 195.2L731.80 195.2L732.05 195.2L732.30 195.2L732.55 195.2L732.80 195.2L733.05 195.2L733.30 195.2L733.55 195.2L733.80 195.2L734.05 195.2L734.30 195.2L734.55 195.2L734.80 195.2L735.05 195.2L735.30 195.2L735.55 195.2L735.80 195.2L736.05 195.2L736.30 195.2L736.55 195.2L736.80 195.2L737.05 195.2L737.30 195.2L737.55 195.2L737.80 195.2L738.05 195.2L738.30 195.2L738.55 195.2L738.80 195.2L739.05 195.1L739.30 195.1L739.55 195.1L739.80 195.1L740.05 195.1L740.30 195.1L740.55 195.1L740.80 195.1L741.05 195.1L741.30 195.1L741.55 195.1L741.80 195.1L742.05 195.1L742.30 195.1L742.55 195.1L742.80 195.1L743.05 195L743.30 195L743.55 195L743.80 195L744.05 195L744.30 195L744.55 195L744.80 195L745.05 194.9L745.30 194.9L745.55 194.9L745.80 194.9L746.05 194.9L746.30 194.8L746.55 194.8L746.80 194.8L747.05 194.7L747.30 194.7L747.55 194.7L747.80 194.6L748.05 194.6L748.30 194.5L748.55 194.5L748.80 194.4L749.05 194.3L749.30 194.2L749.55 194.1L749.80 194L750.05 193.8L750.30 193.7L750.55 193.5L750.80 193.2L751.05 192.9L751.30 192.5L751.55 192L751.80 191.4L752.05 190.7L752.30 189.6L752.55 188.1L752.80 186.1L753.05 183.1L753.30 178.7L753.55 172.4L753.80 164.3L754.05 157.1L754.20 155.5L754.30 156.1L754.55 162L754.80 169.7L755.05 175.8L755.30 179.7L755.55 181.9L755.80 182.6L756.05 182.1L756.30 180.2L756.55 177.3L756.80 174.3L757.05 173.7L757.30 176.4L757.55 180.6L757.80 184.3L758.05 187L758.30 188.9L758.55 190.3L758.80 191.2L759.05 191.9L759.30 192.5L759.55 192.9L759.80 193.2L760.05 193.5L760.30 193.7L760.55 193.9L760.80 194L761.05 194.1L761.30 194.3L761.55 194.3L761.80 194.4L762.05 194.5L762.30 194.6L762.55 194.6L762.80 194.7L763.05 194.7L763.30 194.7L763.55 194.8L763.80 194.8L764.05 194.8L764.30 194.9L764.55 194.9L764.80 194.9L765.05 194.9L765.30 195L765.55 195L765.80 195L766.05 195L766.30 195L766.55 195L766.80 195L767.05 195.1L767.30 195.1L767.55 195.1L767.80 195.1L768.05 195.1L768.30 195.1L768.55 195.1L768.80 195.1L769.05 195.1L769.30 195.1L769.55 195.1L769.80 195.1L770.05 195.1L770.30 195.2L770.55 195.2L770.80 195.2L771.05 195.2L771.30 195.2L771.55 195.2L771.80 195.2L772.05 195.2L772.30 195.2L772.55 195.2L772.80 195.2L773.05 195.2L773.30 195.2L773.55 195.2L773.80 195.2L774.05 195.2L774.30 195.2L774.55 195.2L774.80 195.2L775.05 195.2L775.30 195.2L775.55 195.2L775.80 195.2L776.05 195.2L776.30 195.2L776.55 195.2L776.80 195.2L777.05 195.2L777.30 195.2L777.55 195.2L777.80 195.2L778.05 195.2L778.30 195.2L778.55 195.2L778.80 195.2L779.05 195.2L779.30 195.2L779.55 195.2L779.80 195.2L780.05 195.3L780.30 195.3L780.55 195.3L780.80 195.3L781.05 195.3L781.30 195.3L781.55 195.3L781.80 195.3L782.05 195.3L782.30 195.3L782.55 195.3L782.80 195.3L783.05 195.3L783.30 195.3L783.55 195.3L783.80 195.3L784.05 195.3L784.30 195.3L784.55 195.3L784.80 195.3L785.05 195.3L785.30 195.3L785.55 195.3L785.80 195.3L786.05 195.3L786.30 195.3L786.55 195.3L786.80 195.3L787.05 195.3L787.30 195.3L787.55 195.3L787.80 195.3L788.05 195.3L788.30 195.3L788.55 195.3L788.80 195.3L789.05 195.3L789.30 195.3L789.55 195.3L789.80 195.3L790.05 195.3L790.30 195.3L790.55 195.3L790.80 195.3L791.05 195.3L791.30 195.3L791.55 195.3L791.80 195.3L792.05 195.3L792.30 195.3L792.55 195.3L792.80 195.3L793.05 195.3L793.30 195.3L793.55 195.3L793.80 195.3L794.05 195.3L794.30 195.3L794.55 195.3L794.80 195.3L795.05 195.3L795.30 195.3L795.55 195.3L795.80 195.3L796.05 195.3L796.30 195.3L796.55 195.3L796.80 195.3L797.05 195.3L797.30 195.3L797.55 195.3L797.80 195.3L798.05 195.3L798.30 195.3L798.55 195.3L798.80 195.3L799.05 195.3L799.30 195.3L799.55 195.3L799.80 195.3L800.05 195.3L800.30 195.3L800.55 195.3L800.80 195.3L801.05 195.3L801.30 195.3L801.55 195.3L801.80 195.3L802.05 195.3L802.30 195.3L802.55 195.3L802.80 195.3L803.05 195.3L803.30 195.3L803.55 195.3L803.80 195.3L804.05 195.3L804.30 195.3L804.55 195.3L804.80 195.3L805.05 195.3L805.30 195.3L805.55 195.3L805.80 195.3L806.05 195.3L806.30 195.3L806.55 195.3L806.80 195.3L807.05 195.3L807.30 195.3L807.55 195.3L807.80 195.3L808.05 195.3L808.30 195.3L808.55 195.3L808.80 195.3L809.05 195.3L809.30 195.3L809.55 195.3L809.80 195.3L810.05 195.3L810.30 195.3L810.55 195.3L810.80 195.3L811.05 195.3L811.30 195.3L811.55 195.3L811.80 195.3L812.05 195.3L812.30 195.3L812.55 195.3L812.80 195.3L813.05 195.3L813.30 195.3L813.55 195.3L813.80 195.3L814.05 195.3L814.30 195.3L814.55 195.3L814.80 195.3L815.05 195.3L815.30 195.3L815.55 195.3L815.80 195.3L816.05 195.3L816.30 195.3L816.55 195.3L816.80 195.3L817.05 195.3L817.30 195.3L817.55 195.3L817.80 195.3L818.05 195.3L818.30 195.3L818.55 195.3L818.80 195.3L819.05 195.3L819.30 195.3L819.55 195.3L819.80 195.3L820.05 195.3L820.30 195.3L820.55 195.3L820.80 195.3L821.05 195.3L821.30 195.3L821.55 195.3L821.80 195.3L822.05 195.3L822.30 195.3L822.55 195.3L822.80 195.3L823.05 195.3L823.30 195.3L823.55 195.3L823.80 195.3L824.05 195.3L824.30 195.3L824.55 195.3L824.80 195.3L825.05 195.3L825.30 195.3L825.55 195.3L825.80 195.3L826.05 195.3L826.30 195.3L826.55 195.3L826.80 195.3L827.05 195.3L827.30 195.3L827.55 195.3L827.80 195.3L828.05 195.3L828.30 195.3L828.55 195.3L828.80 195.3L829.05 195.3L829.30 195.3L829.55 195.3L829.80 195.3L830.05 195.3L830.30 195.3L830.55 195.3L830.80 195.3L831.05 195.3L831.30 195.3L831.55 195.3L831.80 195.3L832.05 195.3L832.30 195.3L832.55 195.3L832.80 195.3L833.05 195.3L833.30 195.3L833.55 195.3L833.80 195.3L834.05 195.3L834.30 195.3L834.55 195.3L834.80 195.3L835.05 195.3L835.30 195.3L835.55 195.3L835.80 195.3L836.05 195.3L836.30 195.3L836.55 195.2L836.80 195.2L837.05 195.2L837.30 195.2L837.55 195.2L837.80 195.2L838.05 195.2L838.30 195.2L838.55 195.2L838.80 195.2L839.05 195.2L839.30 195.2L839.55 195.2L839.80 195.2L840.05 195.2L840.30 195.2L840.55 195.2L840.80 195.2L841.05 195.2L841.30 195.2L841.55 195.2L841.80 195.2L842.05 195.2L842.30 195.2L842.55 195.1L842.80 195.1L843.05 195.1L843.30 195.1L843.55 195.1L843.80 195.1L844.05 195.1L844.30 195.1L844.55 195.1L844.80 195.1L845.05 195L845.30 195L845.55 195L845.80 195L846.05 195L846.30 194.9L846.55 194.9L846.80 194.9L847.05 194.8L847.30 194.8L847.55 194.7L847.80 194.7L848.05 194.6L848.30 194.6L848.55 194.5L848.80 194.4L849.05 194.3L849.30 194.2L849.55 194L849.80 193.8L850.05 193.6L850.30 193.3L850.55 192.9L850.80 192.4L851.05 191.8L851.30 190.9L851.55 189.7L851.80 188L852.05 185.5L852.30 182L852.55 177.6L852.80 173.4L853.00 172L853.05 172.1L853.30 174.7L853.55 179L853.80 182.8L854.05 185.5L854.30 187.3L854.55 188.3L854.80 188.6L855.05 188.4L855.30 187.6L855.55 186.2L855.80 184.4L856.05 182.9L856.30 182.9L856.55 184.6L856.80 186.9L857.05 188.9L857.30 190.4L857.55 191.5L857.80 192.3L858.05 192.8L858.30 193.3L858.55 193.6L858.80 193.8L859.05 194L859.30 194.2L859.55 194.3L859.80 194.4L860.05 194.5L860.30 194.6L860.55 194.7L860.80 194.7L861.05 194.8L861.30 194.8L861.55 194.9L861.80 194.9L862.05 194.9L862.30 195L862.55 195L862.80 195L863.05 195L863.30 195L863.55 195.1L863.80 195.1L864.05 195.1L864.30 195.1L864.55 195.1L864.80 195.1L865.05 195.1L865.30 195.1L865.55 195.1L865.80 195.2L866.05 195.2L866.30 195.2L866.55 195.2L866.80 195.2L867.05 195.2L867.30 195.2L867.55 195.2L867.80 195.2L868.05 195.2L868.30 195.2L868.55 195.2L868.80 195.2L869.05 195.2L869.30 195.2L869.55 195.2L869.80 195.2L870.05 195.2L870.30 195.2L870.55 195.2L870.80 195.2L871.05 195.2L871.30 195.3L871.55 195.3L871.80 195.3L872.05 195.3L872.30 195.3L872.55 195.3L872.80 195.3L873.05 195.3L873.30 195.3L873.55 195.3L873.80 195.3L874.05 195.3L874.30 195.3L874.55 195.3L874.80 195.3L875.05 195.3L875.30 195.3L875.55 195.3L875.80 195.3L876.05 195.3L876.30 195.3L876.55 195.3L876.80 195.3L877.05 195.3L877.30 195.3L877.55 195.3L877.80 195.3L878.05 195.3L878.30 195.3L878.55 195.3L878.80 195.3L879.05 195.3L879.30 195.3L879.55 195.3L879.80 195.3L880.05 195.3L880.30 195.3L880.55 195.3L880.80 195.3L881.05 195.3L881.30 195.3L881.55 195.3L881.80 195.3L882.05 195.3L882.30 195.3L882.55 195.3L882.80 195.3L883.05 195.3L883.30 195.3L883.55 195.3L883.80 195.3L884.05 195.3L884.30 195.3L884.55 195.3L884.80 195.3L885.05 195.3L885.30 195.3L885.55 195.3L885.80 195.3L886.05 195.3L886.30 195.3L886.55 195.3L886.80 195.3L887.05 195.3L887.30 195.3L887.55 195.3L887.80 195.3L888.05 195.3L888.30 195.3L888.55 195.3L888.80 195.3L889.05 195.3L889.30 195.3L889.55 195.3L889.80 195.3L890.05 195.3L890.30 195.3L890.55 195.3L890.80 195.3L891.05 195.3L891.30 195.3L891.55 195.3L891.80 195.3L892.05 195.3L892.30 195.3L892.55 195.3L892.80 195.3L893.05 195.3L893.30 195.3L893.55 195.3L893.80 195.3L894.05 195.3L894.30 195.3L894.55 195.3L894.80 195.3L895.05 195.3L895.30 195.3L895.55 195.3L895.80 195.3L896.05 195.3L896.30 195.3L896.55 195.3L896.80 195.3L897.05 195.3L897.30 195.3L897.55 195.3L897.80 195.3L898.05 195.3L898.30 195.3L898.55 195.3L898.80 195.3L899.05 195.3L899.30 195.3L899.55 195.3L899.80 195.3L900.05 195.3L900.30 195.3L900.55 195.3L900.80 195.3L901.05 195.3L901.30 195.3L901.55 195.3L901.80 195.3L902.05 195.3L902.30 195.3L902.55 195.3L902.80 195.3L903.05 195.3L903.30 195.3L903.55 195.3L903.80 195.3L904.05 195.3L904.30 195.3L904.55 195.3L904.80 195.3L905.05 195.3L905.30 195.3L905.55 195.3L905.80 195.3L906.05 195.3L906.30 195.3L906.55 195.3L906.80 195.3L907.05 195.3L907.30 195.2L907.55 195.2L907.80 195.2L908.05 195.2L908.30 195.2L908.55 195.2L908.80 195.2L909.05 195.2L909.30 195.1L909.55 195.1L909.80 195.1L910.05 195L910.30 195L910.55 194.9L910.80 194.8L911.05 194.7L911.30 194.6L911.55 194.5L911.80 194.3L912.05 194.2L912.30 194.1L912.52 194L912.55 194L912.80 194.1L913.05 194.2L913.30 194.3L913.55 194.5L913.80 194.6L914.05 194.7L914.30 194.7L914.55 194.8L914.80 194.8L915.05 194.8L915.30 194.8L915.55 194.7L915.80 194.7L916.05 194.6L916.30 194.6L916.55 194.6L916.80 194.6L917.05 194.7L917.30 194.8L917.55 194.9L917.80 194.9" stroke="#000" stroke-width="3.0" fill="none" stroke-linejoin="round" stroke-linecap="round"/>
<path d="M73.2 400.7L73.7 400.3L74.2 400.4L74.7 400.5L75.2 400.8L75.7 400.7L76.2 401.3L76.7 400.8L77.2 400.4L77.7 401.3L78.2 401.1L78.7 400.7L79.2 400.5L79.7 400L80.2 400.3L80.7 401L81.2 400.4L81.7 400.2L82.2 400.6L82.7 400.6L83.2 400.6L83.7 400.4L84.2 400.3L84.7 399L85.2 399.6L85.7 399.4L86.2 400.3L86.7 400.3L87.2 400.4L87.7 400.7L88.2 400.4L88.7 400.8L89.2 400.7L89.7 400.4L90.2 400L90.7 399.9L91.2 399.8L91.7 399.8L92.2 399.6L92.7 400.2L93.2 398.8L93.7 397.7L94.2 395.1M97.7 396.4L98.2 397L98.7 398.7L99.2 399.4L99.7 399.7L100.2 400.1L100.7 400.2L101.2 400.3L101.7 399.6L102.2 400.1L102.7 399.6L103.2 400.7L103.7 400.6L104.2 400.5L104.7 400.3L105.2 400.4L105.7 401.3L106.2 401.2L106.7 400.6L107.2 401.1L107.7 400.1L108.2 400L108.7 400.5L109.2 400.4L109.7 400.5L110.2 400.8L110.7 401.8L111.2 400.5L111.7 400.7L112.2 400.8L112.7 400.7L113.2 401.1L113.7 401.4L114.2 400.3L114.7 400.8L115.2 400.7L115.7 400.9L116.2 400.2L116.7 400.1L117.2 399.9L117.7 400.9L118.2 400.8L118.7 400.8L119.2 399.9L119.7 400.6L120.2 400.5L120.7 400.3L121.2 400.4L121.7 401L122.2 400.9L122.7 400.7L123.2 400.9L123.7 400.5L124.2 400.7L124.7 400.7L125.2 400.9L125.7 400.6L126.2 400.5L126.7 400.4L127.2 400L127.7 400.7L128.2 399.7L128.7 399.8L129.2 400.9L129.7 400.9L130.2 400L130.7 400.9L131.2 401L131.7 401.4L132.2 401.2L132.7 401L133.2 400.3L133.7 400.4L134.2 400.9L134.7 400.9L135.2 400.4L135.7 400.6L136.2 400.6L136.7 400.8L137.2 400.9L137.7 400.7L138.2 400.3L138.7 401.2L139.2 401.3L139.7 400.7L140.2 401.1L140.7 400.9L141.2 401L141.7 401L142.2 400.5L142.7 401L143.2 401.1L143.7 400.5L144.2 401.5L144.7 401.5L145.2 401.4L145.7 401.5L146.2 401L146.7 400.7L147.2 400.6L147.7 400.5L148.2 400.8L148.7 400.8L149.2 401L149.7 400.1L150.2 401.6L150.7 401.6L151.2 400.8L151.7 401L152.2 401L152.7 400.9L153.2 400.7L153.7 400.8L154.2 400.5L154.7 400.9L155.2 400.8L155.7 400.9L156.2 400.5L156.7 400.8L157.2 400.8L157.7 401L158.2 400.4L158.7 400.9L159.2 401.1L159.7 401L160.2 400.7L160.7 400.6L161.2 400.7L161.7 401.1L162.2 401.3L162.7 400.7L163.2 400.6L163.7 400.9L164.2 400.9L164.7 400.5L165.2 400.5L165.7 400.8L166.2 401L166.7 400.4L167.2 400.4L167.7 401L168.2 400.4L168.7 400.8L169.2 400.9L169.7 400.7L170.2 400.4L170.7 400.8L171.2 400.7L171.7 400.9L172.2 400.5L172.7 401.2L173.2 400.2L173.7 400.7L174.2 400.8L174.7 401.1L175.2 400.5L175.7 400.9L176.2 400.5L176.7 400.9L177.2 401.2L177.7 400.3L178.2 400.3L178.7 399.5L179.2 400.3L179.7 400.7L180.2 400.5L180.7 400.2L181.2 400.8L181.7 401.1L182.2 401.1L182.7 401L183.2 400.1L183.7 400.5L184.2 401.2L184.7 400.3L185.2 401.1L185.7 401.4L186.2 401L186.7 401.1L187.2 400.6L187.7 400.3L188.2 400.7L188.7 400.6L189.2 400.7L189.7 400.9L190.2 400.6L190.7 400.7L191.2 400.7L191.7 400.4L192.2 400.9L192.7 400.1L193.2 399.7L193.7 399.5L194.2 399.7L194.7 400.6L195.2 400.4L195.7 400.1L196.2 400.4L196.7 400.5L197.2 400.5L197.7 401L198.2 400.2L198.7 400.8L199.2 400.7L199.7 400.2L200.2 400.6L200.7 400.5L201.2 400.6L201.7 400.1L202.2 400.1L202.7 399.1L203.2 398.9L203.7 399.5L204.2 399.8L204.7 399.8L205.2 399.9L205.7 400.7L206.2 399.7L206.7 400.3L207.2 400.8L207.7 400.9L208.2 400.3L208.7 400L209.2 401.2L209.7 400.8L210.2 400.4L210.7 400.8L211.2 401.1L211.7 399.8L212.2 401.1L212.7 401L213.2 400L213.7 401L214.2 400.1L214.7 401.2L215.2 400.9L215.7 401.6L216.2 400.6L216.7 400.8L217.2 401.1L217.7 400.6L218.2 400.5L218.7 400.6L219.2 400.7L219.7 400.4L220.2 400.9L220.7 401L221.2 400.8L221.7 401.4L222.2 400.7L222.7 401.2L223.2 400.6L223.7 401L224.2 400.1L224.7 400.8L225.2 400.7L225.7 400.6L226.2 400.5L226.7 400.6L227.2 400.5L227.7 400L228.2 400.5L228.7 400.6L229.2 400.6L229.7 400.4L230.2 400.7L230.7 401L231.2 400.6L231.7 400.6L232.2 401.2L232.7 401.1L233.2 401L233.7 401.1L234.2 400.6L234.7 400.6L235.2 401L235.7 400.4L236.2 400.6L236.7 400.7L237.2 400.7L237.7 400.4L238.2 400.8L238.7 400.3L239.2 400.5L239.7 400.5L240.2 400.2L240.7 400L241.2 399L241.7 398.6L242.2 398.5L242.7 398.7L243.2 399.2L243.7 398.5L244.2 399.4L244.7 399.3L245.2 399.6L245.7 399.9L246.2 400.4L246.7 400.4L247.2 400.8L247.7 400.1L248.2 400.8L248.7 400.8L249.2 400.5L249.7 400.6L250.2 400.2L250.7 399.9L251.2 399.9L251.7 399.5L252.2 400.7L252.7 399.8L253.2 400.9L253.7 400.5L254.2 400.6L254.7 400.8L255.2 400.3L255.7 401L256.2 400.8L256.7 400.1L257.2 400.9L257.7 400.8L258.2 400.8L258.7 401.2L259.2 400.5L259.7 400.7L260.2 400.7L260.7 400L261.2 400.4L261.7 399.5L262.2 399.8L262.7 400.6L263.2 400.2L263.7 400.6L264.2 400.1L264.7 400.7L265.2 400.3L265.7 400.8L266.2 400.2L266.7 400.9L267.2 400.6L267.7 400.7L268.2 400.7L268.7 400.8L269.2 400.3L269.7 399.8L270.2 400.7L270.7 400.4L271.2 400.5L271.7 400.9L272.2 400L272.7 400.4L273.2 400.5L273.7 400.3L274.2 400.8L274.7 400.6L275.2 400.4L275.7 400.3L276.2 400.9L276.7 400.4L277.2 400.8L277.7 400.8L278.2 400L278.7 400.2L279.2 400.6L279.7 400.7L280.2 400.8L280.7 400.8L281.2 400.9L281.7 400.4L282.2 400.4L282.7 400.7L283.2 400.3L283.7 400.8L284.2 399.8L284.7 400.5L285.2 400.2L285.7 399.5L286.2 400.4L286.7 400.1L287.2 399.9L287.7 399.3L288.2 399.4L288.7 399.8L289.2 398.7L289.7 397.3L290.2 397.6L290.7 396.5L291.2 395.4L291.7 392.7M297.2 394.7L297.7 395.7L298.2 397.2L298.7 398.7L299.2 398.7L299.7 398.7L300.2 399.6L300.7 400L301.2 399.8L301.7 399.3L302.2 399.9L302.7 400.3L303.2 400.5L303.7 400.9L304.2 400.2L304.7 400.2L305.2 400.4L305.7 400.9L306.2 400.1L306.7 401L307.2 399.6L307.7 400.8L308.2 400.3L308.7 400.7L309.2 400.8L309.7 400.2L310.2 400.6L310.7 400.7L311.2 400.8L311.7 400.3L312.2 400.3L312.7 400L313.2 401.5L313.7 400.6L314.2 400.6L314.7 400.1L315.2 401L315.7 400.5L316.2 401.2L316.7 401L317.2 400.7L317.7 400.9L318.2 400.2L318.7 400.5L319.2 400.3L319.7 399.9L320.2 400.1L320.7 399.8L321.2 400.3L321.7 398.9L322.2 400.1L322.7 400.2L323.2 400.4L323.7 400.8L324.2 400.8L324.7 400.7L325.2 400.5L325.7 400.9L326.2 400.8L326.7 400.1L327.2 400.6L327.7 400.2L328.2 400.3L328.7 400.8L329.2 400.7L329.7 400.8L330.2 400.4L330.7 400.7L331.2 400.4L331.7 400.9L332.2 401L332.7 401.3L333.2 401.2L333.7 400.4L334.2 400.6L334.7 400.4L335.2 400.8L335.7 401.4L336.2 401L336.7 400L337.2 400.3L337.7 400.3L338.2 400.9L338.7 400.7L339.2 400.8L339.7 401.4L340.2 400.4L340.7 400.4L341.2 401.4L341.7 400.8L342.2 400.5L342.7 400L343.2 400.2L343.7 399.9L344.2 400.7L344.7 400.7L345.2 401.1L345.7 400.7L346.2 400.5L346.7 400.5L347.2 401.4L347.7 400.1L348.2 400.8L348.7 400.7L349.2 400.9L349.7 400.6L350.2 400.9L350.7 401L351.2 400.7L351.7 400.5L352.2 400.6L352.7 400.4L353.2 400.6L353.7 400.6L354.2 400.8L354.7 401.2L355.2 401.1L355.7 400.5L356.2 400.9L356.7 400.8L357.2 400.9L357.7 400.7L358.2 400.8L358.7 400.5L359.2 400.4L359.7 401L360.2 401.1L360.7 400.9L361.2 400.8L361.7 400.7L362.2 400.5L362.7 400L363.2 400.8L363.7 400.7L364.2 400.4L364.7 400.2L365.2 401L365.7 399.9L366.2 401.1L366.7 400.7L367.2 401.3L367.7 400.2L368.2 400.5L368.7 400.3L369.2 400.5L369.7 400.3L370.2 400.1L370.7 400.7L371.2 400L371.7 400.1L372.2 400.4L372.7 400L373.2 400L373.7 400.2L374.2 399.9L374.7 399.5L375.2 399.8L375.7 399.7L376.2 400.2L376.7 399.1L377.2 399.7L377.7 398.9L378.2 398.8L378.7 398.5L379.2 398.3L379.7 398L380.2 397.6L380.7 395.8L381.2 395.2L381.7 393M388.7 392.2L389.2 393.6L389.7 395.9L390.2 396.9L390.7 398L391.2 398.1L391.7 398.3L392.2 398.5L392.7 398.6L393.2 399.5L393.7 399.3L394.2 399.3L394.7 399.8L395.2 399.5L395.7 399.7L396.2 399.7L396.7 400.5L397.2 400.5L397.7 400L398.2 399.5L398.7 400.2L399.2 400.2L399.7 400.3L400.2 400.4L400.7 400.1L401.2 400.5L401.7 400.5L402.2 400.2L402.7 400L403.2 399.9L403.7 400.3L404.2 399.7L404.7 399.9L405.2 399.6L405.7 399.3L406.2 399.9L406.7 399.5L407.2 399.3L407.7 399.4L408.2 398.1L408.7 398L409.2 397.3L409.7 396M415.2 394.9L415.7 397L416.2 397.3L416.7 398.6L417.2 399.2L417.7 399.7L418.2 399.5L418.7 400.3L419.2 399.7L419.7 400L420.2 399.5L420.7 399.9L421.2 400L421.7 400.8L422.2 400.5L422.7 400L423.2 400.6L423.7 400.6L424.2 400.4L424.7 400.5L425.2 400.4L425.7 400.3L426.2 399.9L426.7 400.5L427.2 401L427.7 401.1L428.2 400.5L428.7 400.3L429.2 400.5L429.7 400.9L430.2 400.7L430.7 400.3L431.2 400.6L431.7 400.4L432.2 400.5L432.7 400L433.2 399.3L433.7 399.7L434.2 400.2L434.7 399.9L435.2 400.4L435.7 400.8L436.2 400.4L436.7 400.4L437.2 401.3L437.7 400.9L438.2 401L438.7 400.4L439.2 401.2L439.7 400.1L440.2 400.5L440.7 401L441.2 401.2L441.7 400.4L442.2 400.5L442.7 400.8L443.2 400.1L443.7 400.9L444.2 400.9L444.7 400.6L445.2 400.9L445.7 401L446.2 400.9L446.7 400.9L447.2 401.3L447.7 400.6L448.2 400.8L448.7 400.6L449.2 401.1L449.7 400.6L450.2 400.9L450.7 400.8L451.2 400.8L451.7 401.4L452.2 400.7L452.7 401.3L453.2 401.1L453.7 401.2L454.2 400.7L454.7 401.1L455.2 401L455.7 400.6L456.2 400.9L456.7 400.7L457.2 400.8L457.7 401.2L458.2 400.5L458.7 400.2L459.2 400.2L459.7 400.6L460.2 400.6L460.7 400.8L461.2 401L461.7 401.4L462.2 400.9L462.7 400.9L463.2 400.5L463.7 401L464.2 401.2L464.7 401.2L465.2 400.1L465.7 401.1L466.2 401.3L466.7 401.1L467.2 400.3L467.7 400.7L468.2 401L468.7 400.9L469.2 400.5L469.7 400.5L470.2 401.1L470.7 400.3L471.2 401.3L471.7 400.8L472.2 400.9L472.7 400.3L473.2 400.6L473.7 401L474.2 400.3L474.7 401.5L475.2 400.3L475.7 400.4L476.2 400.8L476.7 400.9L477.2 401L477.7 400.7L478.2 400.7L478.7 400.7L479.2 400.6L479.7 399.9L480.2 401.1L480.7 400.8L481.2 400.8L481.7 400.5L482.2 400.7L482.7 400.6L483.2 400.4L483.7 400.6L484.2 399.3L484.7 399.9L485.2 399.8L485.7 400.3L486.2 401L486.7 400.3L487.2 400.6L487.7 400.5L488.2 401.1L488.7 400.4L489.2 400.2L489.7 400.9L490.2 400.7L490.7 400.7L491.2 401.1L491.7 400.5L492.2 400.7L492.7 400.8L493.2 400.9L493.7 400.6L494.2 401.1L494.7 401.5L495.2 400.7L495.7 401.4L496.2 400.1L496.7 401.3L497.2 400.7L497.7 400.8L498.2 400.7L498.7 400.6L499.2 400.4L499.7 400.7L500.2 401.2L500.7 401.2L501.2 400.7L501.7 400.6L502.2 400.6L502.7 400.4L503.2 401.4L503.7 401L504.2 400.8L504.7 400.6L505.2 400.5L505.7 401.2L506.2 401.1L506.7 400.5L507.2 401.1L507.7 400.4L508.2 401L508.7 400.5L509.2 400.7L509.7 401L510.2 400.9L510.7 401.1L511.2 400.5L511.7 401.3L512.2 401.3L512.7 400.8L513.2 401L513.7 400.5L514.2 400.7L514.7 400.4L515.2 400.8L515.7 400.9L516.2 401.3L516.7 401.1L517.2 401.1L517.7 400.7L518.2 400.7L518.7 400.7L519.2 400.9L519.7 400.2L520.2 401.1L520.7 400.3L521.2 400.6L521.7 400.8L522.2 400.6L522.7 401.4L523.2 400.8L523.7 401.3L524.2 401.2L524.7 400.6L525.2 400.9L525.7 401.2L526.2 400.7L526.7 400.8L527.2 400.6L527.7 400.8L528.2 400.7L528.7 400.8L529.2 401.1L529.7 401.3L530.2 400.8L530.7 400.9L531.2 401.1L531.7 400.7L532.2 400.4L532.7 401.2L533.2 400.5L533.7 401.1L534.2 400.5L534.7 401.4L535.2 400.4L535.7 401.1L536.2 401.3L536.7 400.5L537.2 401.3L537.7 400.5L538.2 400.2L538.7 401L539.2 401L539.7 400.7L540.2 399.9L540.7 400.8L541.2 400.7L541.7 400.7L542.2 400.7L542.7 400.2L543.2 400.6L543.7 401.4L544.2 401.3L544.7 400.7L545.2 400.6L545.7 400.9L546.2 401.2L546.7 401L547.2 400.4L547.7 400.8L548.2 400.8L548.7 401.3L549.2 401.2L549.7 401L550.2 401.2L550.7 400.7L551.2 401.3L551.7 400.6L552.2 400.9L552.7 401.1L553.2 400.5L553.7 400.6L554.2 400.2L554.7 400.8L555.2 400.8L555.7 400.7L556.2 401L556.7 400.1L557.2 400.8L557.7 400.8L558.2 400.7L558.7 401.1L559.2 401.4L559.7 400.6L560.2 400.5L560.7 400.6L561.2 400.8L561.7 401L562.2 400.5L562.7 401.1L563.2 400.4L563.7 401.1L564.2 400.9L564.7 400.9L565.2 401.5L565.7 400.7L566.2 400.7L566.7 400.9L567.2 401.1L567.7 400.3L568.2 400.9L568.7 400.5L569.2 401L569.7 401.2L570.2 400.8L570.7 400.7L571.2 400.8L571.7 399.8L572.2 401L572.7 400.9L573.2 400.8L573.7 400.6L574.2 400.5L574.7 400.7L575.2 401.1L575.7 400.7L576.2 401.1L576.7 399.8L577.2 400.5L577.7 400.7L578.2 400.6L578.7 400L579.2 400.3L579.7 400.9L580.2 400L580.7 400L581.2 399.9L581.7 399.9L582.2 400.1L582.7 399.8L583.2 398.5L583.7 399.1L584.2 398L584.7 397.8L585.2 398.7L585.7 398.3L586.2 398.2L586.7 398.6L587.2 399L587.7 399.2L588.2 399.7L588.7 400.4L589.2 400.4L589.7 399.9L590.2 401.4L590.7 400.2L591.2 400.6L591.7 400.6L592.2 400.9L592.7 400.5L593.2 400.8L593.7 401.4L594.2 400.7L594.7 400.3L595.2 400.8L595.7 400.4L596.2 400.6L596.7 400.8L597.2 400.8L597.7 400.6L598.2 401L598.7 400.7L599.2 400.3L599.7 401.1L600.2 400.6L600.7 401.2L601.2 400.5L601.7 401L602.2 400.9L602.7 399.9L603.2 400.3L603.7 400.4L604.2 401.2L604.7 400.1L605.2 401.1L605.7 401.1L606.2 400.9L606.7 401L607.2 400.6L607.7 400.8L608.2 400.9L608.7 400.9L609.2 401L609.7 400.7L610.2 400.5L610.7 400.6L611.2 400.9L611.7 400.2L612.2 400.4L612.7 400.6L613.2 400.6L613.7 400.7L614.2 399.9L614.7 400.7L615.2 400.7L615.7 401.1L616.2 400.1L616.7 400.7L617.2 401L617.7 401L618.2 401.2L618.7 401.1L619.2 400.4L619.7 401L620.2 400.7L620.7 400.5L621.2 401.3L621.7 400.6L622.2 400.5L622.7 400.7L623.2 400.5L623.7 401.1L624.2 400.9L624.7 401.3L625.2 400.9L625.7 400.6L626.2 401.1L626.7 400.6L627.2 400.6L627.7 400.7L628.2 400.8L628.7 401.2L629.2 400.6L629.7 400.9L630.2 400.8L630.7 400.4L631.2 400.4L631.7 400.7L632.2 400.9L632.7 400.9L633.2 401L633.7 400.8L634.2 400.6L634.7 400.9L635.2 400.5L635.7 400.3L636.2 400.7L636.7 400.3L637.2 400.6L637.7 400.5L638.2 400.6L638.7 400.8L639.2 400.5L639.7 400.6L640.2 400.2L640.7 400.8L641.2 400.5L641.7 400.9L642.2 399.8L642.7 400.5L643.2 400.9L643.7 400L644.2 400.7L644.7 400.8L645.2 400.8L645.7 400.3L646.2 400.9L646.7 400.8L647.2 400.5L647.7 401L648.2 400.8L648.7 400.8L649.2 400.6L649.7 401L650.2 400.8L650.7 401.2L651.2 400.9L651.7 400.6L652.2 400.7L652.7 401.1L653.2 400.7L653.7 400.9L654.2 401L654.7 400.7L655.2 400L655.7 400.8L656.2 400.9L656.7 400.8L657.2 400.5L657.7 401.2L658.2 400.7L658.7 400.6L659.2 400.5L659.7 400.9L660.2 400.4L660.7 400.4L661.2 401.5L661.7 401.2L662.2 401.1L662.7 401.2L663.2 401L663.7 400.2L664.2 401.2L664.7 401.2L665.2 400.9L665.7 400.1L666.2 401.2L666.7 401.2L667.2 400.6L667.7 400.8L668.2 401L668.7 400.7L669.2 401.1L669.7 400.8L670.2 401L670.7 400.8L671.2 400.2L671.7 400.4L672.2 401.8L672.7 400.8L673.2 401.2L673.7 401.1L674.2 401.3L674.7 400.9L675.2 400.5L675.7 400.7L676.2 400.1L676.7 400.6L677.2 401L677.7 400L678.2 400.8L678.7 401L679.2 401.1L679.7 400.4L680.2 400.4L680.7 400L681.2 400.3L681.7 400.8L682.2 401.3L682.7 400.2L683.2 401L683.7 400.7L684.2 400.4L684.7 401.2L685.2 399.6L685.7 400.4L686.2 400.5L686.7 401L687.2 400.9L687.7 400.9L688.2 400.1L688.7 400.2L689.2 400.2L689.7 399.6L690.2 399.2L690.7 398.4L691.2 397.5L691.7 395.6L692.2 393.8M692.7 386.9L694.7 387L695.2 388.9M695.7 384.6L696.2 382.7M697.2 394.1L697.7 396.5L698.2 398.1L698.7 399.9L699.2 399.4L699.7 399.3L700.2 400.5L700.7 400.3L701.2 400.4L701.7 400.5L702.2 400.6L702.7 400.6L703.2 400.9L703.7 400.8L704.2 400.9L704.7 400.3L705.2 400.5L705.7 400.3L706.2 400.9L706.7 400.9L707.2 400.5L707.7 400.8L708.2 401.5L708.7 401.1L709.2 400.3L709.7 400.6L710.2 400.9L710.7 400.7L711.2 400.8L711.7 401.1L712.2 400.8L712.7 400.3L713.2 400.9L713.7 400.7L714.2 400.7L714.7 400.5L715.2 400.2L715.7 400.3L716.2 400.6L716.7 400.4L717.2 399.8L717.7 401.1L718.2 400.3L718.7 400.5L719.2 400.9L719.7 399.9L720.2 401.2L720.7 400.5L721.2 401L721.7 400.6L722.2 400.8L722.7 400.8L723.2 400.7L723.7 400.1L724.2 400.2L724.7 400.7L725.2 401.2L725.7 400.5L726.2 400.9L726.7 400.8L727.2 400.9L727.7 401.1L728.2 400.2L728.7 400.8L729.2 400.7L729.7 400.6L730.2 400.4L730.7 400.5L731.2 400.4L731.7 400.3L732.2 401.6L732.7 401.3L733.2 400.7L733.7 401L734.2 400.4L734.7 399.8L735.2 400.1L735.7 400.7L736.2 401.2L736.7 400.7L737.2 400.3L737.7 400.6L738.2 400.3L738.7 400.2L739.2 400.6L739.7 400.5L740.2 400.4L740.7 400.3L741.2 400.3L741.7 400.7L742.2 401.1L742.7 400.5L743.2 401.3L743.7 400L744.2 400.6L744.7 400.1L745.2 400.5L745.7 400.5L746.2 400.6L746.7 400.8L747.2 400.2L747.7 399.9L748.2 400.2L748.7 400.3L749.2 399.9L749.7 400.4L750.2 400.5L750.7 399.3L751.2 399.7L751.7 399.7L752.2 398.4L752.7 398.6L753.2 397.8L753.7 396.4L754.2 395.5M755.2 385.4L757.7 385.4L758.2 384.5L759.7 383.4M760.2 392.2L760.7 395L761.2 396.6L761.7 397.4L762.2 398.8L762.7 399.2L763.2 399.3L763.7 399.6L764.2 399.6L764.7 399.7L765.2 400.1L765.7 400L766.2 400.5L766.7 400.3L767.2 400.4L767.7 400.6L768.2 400.9L768.7 400.7L769.2 400.6L769.7 400.5L770.2 400.3L770.7 400.5L771.2 400.8L771.7 400.7L772.2 400.5L772.7 400.2L773.2 400.1L773.7 400.8L774.2 401L774.7 400.8L775.2 400.2L775.7 400.6L776.2 400.8L776.7 400.4L777.2 400.8L777.7 400.6L778.2 400.4L778.7 400.3L779.2 401L779.7 400.8L780.2 400.4L780.7 400.4L781.2 401L781.7 400.9L782.2 400.6L782.7 401.3L783.2 400.6L783.7 400.4L784.2 401.1L784.7 400.7L785.2 400.9L785.7 400.8L786.2 400.4L786.7 400.3L787.2 400.7L787.7 401.2L788.2 400.4L788.7 401.2L789.2 400.8L789.7 400.4L790.2 400.9L790.7 401L791.2 400.5L791.7 400L792.2 400.9L792.7 400.4L793.2 400.9L793.7 400.1L794.2 400.7L794.7 400.5L795.2 400.3L795.7 400.7L796.2 400.8L796.7 400.6L797.2 400.4L797.7 400.8L798.2 400.2L798.7 401L799.2 400.9L799.7 401.3L800.2 401.1L800.7 400.9L801.2 400.9L801.7 400.8L802.2 400.3L802.7 401.3L803.2 401L803.7 400.7L804.2 400.4L804.7 401.3L805.2 401L805.7 400.4L806.2 401L806.7 401.4L807.2 400.8L807.7 400.9L808.2 400.6L808.7 400.6L809.2 401.1L809.7 401.8L810.2 400.8L810.7 400.7L811.2 401L811.7 400.7L812.2 401L812.7 401.1L813.2 400.4L813.7 400.4L814.2 400.7L814.7 401.1L815.2 400.9L815.7 401.2L816.2 400.3L816.7 400.9L817.2 400.6L817.7 400.8L818.2 400.9L818.7 400.5L819.2 400.7L819.7 400.4L820.2 400.9L820.7 400.5L821.2 400.6L821.7 400.9L822.2 400.6L822.7 401.2L823.2 400.6L823.7 401.1L824.2 400.9L824.7 400.4L825.2 400.7L825.7 400.5L826.2 400.6L826.7 400.7L827.2 401.4L827.7 400.6L828.2 401.3L828.7 400.9L829.2 400.3L829.7 400L830.2 401L830.7 400.1L831.2 401L831.7 401.1L832.2 400.9L832.7 400.7L833.2 400.7L833.7 400.8L834.2 400.6L834.7 400.6L835.2 400.6L835.7 401.1L836.2 400.5L836.7 400.9L837.2 400.3L837.7 400.5L838.2 400.2L838.7 400.6L839.2 400.9L839.7 400.8L840.2 400.5L840.7 400.9L841.2 400.6L841.7 400.8L842.2 400.7L842.7 400.8L843.2 399.8L843.7 400.2L844.2 400.9L844.7 400.5L845.2 401.3L845.7 400.4L846.2 400.3L846.7 401L847.2 400.6L847.7 401L848.2 400.5L848.7 400.1L849.2 400.4L849.7 399.7L850.2 399.7L850.7 399.4L851.2 399.2L851.7 399L852.2 397.8L852.7 396.8L853.2 394.2M856.2 392.5L856.7 392.7L857.2 390.7M857.7 386.5L858.2 387.7M859.2 395.6L859.7 397.6L860.2 398.5L860.7 399.3L861.2 399.4L861.7 400.9L862.2 399.5L862.7 400.5L863.2 400.1L863.7 400.2L864.2 400.7L864.7 400.4L865.2 400.1L865.7 400.6L866.2 400.5L866.7 399.9L867.2 400.6L867.7 400.2L868.2 400.4L868.7 400.8L869.2 400.7L869.7 400.6L870.2 401.4L870.7 400.8L871.2 400.5L871.7 400.8L872.2 400.7L872.7 400L873.2 400.2L873.7 400.2L874.2 401.4L874.7 400.7L875.2 400.6L875.7 400.5L876.2 401.1L876.7 400.7L877.2 401.3L877.7 401L878.2 401.3L878.7 400.7L879.2 400.9L879.7 400.6L880.2 400.7L880.7 400.2L881.2 400.6L881.7 400.4L882.2 400.5L882.7 401.2L883.2 400.9L883.7 401.2L884.2 401.1L884.7 401.1L885.2 401.1L885.7 400.6L886.2 401L886.7 400.7L887.2 400.6L887.7 401.2L888.2 401.5L888.7 400.4L889.2 401.4L889.7 401.1L890.2 400.5L890.7 400.9L891.2 400.9L891.7 400.9L892.2 400.7L892.7 400.3L893.2 400.8L893.7 401.1L894.2 401L894.7 401L895.2 401.1L895.7 400.4L896.2 400.8L896.7 400.9L897.2 401.1L897.7 400.8L898.2 401L898.7 400.8L899.2 401.5L899.7 400L900.2 400.8L900.7 401.6L901.2 400.9L901.7 400.2L902.2 400.8L902.7 400.3L903.2 400.5L903.7 400.8L904.2 401.3L904.7 400.9L905.2 401L905.7 401.1L906.2 400.8L906.7 400.5L907.2 400.7L907.7 400.9L908.2 400.6L908.7 400.5L909.2 400.6L909.7 400.2L910.2 400.3L910.7 400.6L911.2 400.5L911.7 400.6L912.2 400.9L912.7 400.4L913.2 400.1L913.7 399.5L914.2 399.5L914.7 400.2L915.2 400L915.7 400.5L916.2 400.1L916.7 400.5L917.2 400.3L917.7 400.6L918.2 400.2L918.7 400.3L919.2 400.6L919.7 400.6L920.2 401.2L920.7 400.6L921.2 400.5" stroke="#f00" stroke-width="11.0" fill="none" stroke-linecap="round" stroke-linejoin="round"/>
<path d="M94.7 391h0M95.2 382.9h0M96.2 379.8h0M96.7 387h0M97.2 392.5h0M292.2 387.7h0M296.2 383.4h0M296.7 390.5h0M382.2 389.7h0M382.7 383.5h0M387.7 380.1h0M388.2 387.2h0M410.2 392.7h0M410.7 388.1h0M414.2 385h0M414.7 391.8h0M696.7 388.8h0M754.7 392h0M853.7 390h0M855.2 380.2h0M855.7 388.2h0M858.7 392.6h0M384.6 239.6h0M384.6 261.6h0M384 303.2h0M385.9 318h0M384 331h0M386.1 341h0M383.9 350h0M386.2 362h0M383.5 372h0M386.8 379h0M293.7 318.8h0M294.4 325.8h0M293.1 351.6h0M295.2 357.5h0M292.8 375h0M295.4 379.5h0M411.9 334.7h0M411.2 356h0M413.6 360h0M410.9 368h0M413.9 372h0M410.8 378.5h0M95.9 377h0M693.9 367.8h0M695.3 379h0M756.6 353.8h0M758.1 368h0M758.4 378h0M855 372.9h0M856.7 379.5h0M73.5 401h0M920.5 400.5h0" stroke="#f00" stroke-width="10.8" fill="none" stroke-linecap="round"/>
<path d="M73.50 400.9L73.75 400.9L74.00 400.9L74.25 400.9L74.50 400.9L74.75 400.9L75.00 400.9L75.25 400.9L75.50 400.9L75.75 400.8L76.00 400.8L76.25 400.8L76.50 400.8L76.75 400.8L77.00 400.8L77.25 400.8L77.50 400.8L77.75 400.8L78.00 400.8L78.25 400.8L78.50 400.8L78.75 400.8L79.00 400.8L79.25 400.8L79.50 400.8L79.75 400.8L80.00 400.8L80.25 400.8L80.50 400.8L80.75 400.7L81.00 400.7L81.25 400.7L81.50 400.7L81.75 400.7L82.00 400.6L82.25 400.6L82.50 400.6L82.75 400.5L83.00 400.4L83.25 400.3L83.50 400.2L83.75 400L84.00 399.7L84.25 399.3L84.50 398.9L84.75 398.5L85.00 398.3L85.25 398.5L85.50 398.9L85.75 399.3L86.00 399.7L86.25 399.9L86.50 400.1L86.75 400.2L87.00 400.3L87.25 400.4L87.50 400.5L87.75 400.5L88.00 400.5L88.25 400.5L88.50 400.5L88.75 400.5L89.00 400.5L89.25 400.5L89.50 400.5L89.75 400.5L90.00 400.5L90.25 400.5L90.50 400.5L90.75 400.4L91.00 400.4L91.25 400.3L91.50 400.3L91.75 400.2L92.00 400.1L92.25 400L92.50 399.9L92.75 399.8L93.00 399.6L93.25 399.3L93.50 399L93.75 398.6L94.00 398L94.25 397.1L94.50 395.9L94.75 394.2L95.00 391.6L95.25 388.4L95.50 385.7L95.70 384.9L95.75 384.9L96.00 386L96.25 387.5L96.50 389.4L96.75 391.8L97.00 394L97.25 395.8L97.50 397L97.75 397.9L98.00 398.5L98.25 399L98.50 399.3L98.75 399.6L99.00 399.8L99.25 399.9L99.50 400.1L99.75 400.2L100.00 400.2L100.25 400.3L100.50 400.4L100.75 400.4L101.00 400.5L101.25 400.5L101.50 400.5L101.75 400.6L102.00 400.6L102.25 400.6L102.50 400.6L102.75 400.7L103.00 400.7L103.25 400.7L103.50 400.7L103.75 400.7L104.00 400.7L104.25 400.7L104.50 400.7L104.75 400.8L105.00 400.8L105.25 400.8L105.50 400.8L105.75 400.8L106.00 400.8L106.25 400.8L106.50 400.8L106.75 400.8L107.00 400.8L107.25 400.8L107.50 400.8L107.75 400.8L108.00 400.8L108.25 400.8L108.50 400.8L108.75 400.8L109.00 400.8L109.25 400.8L109.50 400.8L109.75 400.8L110.00 400.8L110.25 400.8L110.50 400.8L110.75 400.8L111.00 400.8L111.25 400.8L111.50 400.8L111.75 400.8L112.00 400.9L112.25 400.9L112.50 400.9L112.75 400.9L113.00 400.9L113.25 400.9L113.50 400.9L113.75 400.9L114.00 400.9L114.25 400.9L114.50 400.9L114.75 400.9L115.00 400.9L115.25 400.9L115.50 400.9L115.75 400.9L116.00 400.9L116.25 400.9L116.50 400.9L116.75 400.9L117.00 400.9L117.25 400.9L117.50 400.9L117.75 400.9L118.00 400.9L118.25 400.9L118.50 400.9L118.75 400.9L119.00 400.9L119.25 400.9L119.50 400.9L119.75 400.9L120.00 400.9L120.25 400.9L120.50 400.9L120.75 400.9L121.00 400.8L121.25 400.8L121.50 400.8L121.75 400.8L122.00 400.8L122.25 400.8L122.50 400.8L122.75 400.8L123.00 400.8L123.25 400.8L123.50 400.8L123.75 400.8L124.00 400.8L124.25 400.8L124.50 400.8L124.75 400.8L125.00 400.7L125.25 400.7L125.50 400.7L125.75 400.6L126.00 400.6L126.25 400.5L126.50 400.4L126.75 400.3L127.00 400.2L127.25 400L127.50 399.7L127.75 399.3L128.00 398.9L128.25 398.7L128.50 398.8L128.75 399.1L129.00 399.5L129.25 399.8L129.50 400.1L129.75 400.3L130.00 400.4L130.25 400.5L130.50 400.6L130.75 400.6L131.00 400.7L131.25 400.7L131.50 400.7L131.75 400.8L132.00 400.8L132.25 400.8L132.50 400.8L132.75 400.8L133.00 400.8L133.25 400.8L133.50 400.8L133.75 400.8L134.00 400.8L134.25 400.8L134.50 400.8L134.75 400.9L135.00 400.9L135.25 400.9L135.50 400.9L135.75 400.9L136.00 400.9L136.25 400.9L136.50 400.9L136.75 400.9L137.00 400.9L137.25 400.9L137.50 400.9L137.75 400.9L138.00 400.9L138.25 400.9L138.50 400.9L138.75 400.9L139.00 400.9L139.25 400.9L139.50 400.9L139.75 400.9L140.00 400.9L140.25 400.9L140.50 400.9L140.75 400.9L141.00 400.9L141.25 400.9L141.50 400.9L141.75 400.9L142.00 400.9L142.25 400.9L142.50 400.9L142.75 400.9L143.00 400.9L143.25 400.9L143.50 400.9L143.75 400.9L144.00 400.9L144.25 400.9L144.50 400.9L144.75 400.9L145.00 400.9L145.25 400.9L145.50 400.9L145.75 400.9L146.00 400.9L146.25 400.9L146.50 400.9L146.75 400.9L147.00 400.9L147.25 400.9L147.50 400.9L147.75 400.9L148.00 400.9L148.25 400.9L148.50 400.9L148.75 400.9L149.00 400.9L149.25 400.9L149.50 400.9L149.75 400.9L150.00 400.9L150.25 400.9L150.50 400.9L150.75 400.9L151.00 400.9L151.25 400.9L151.50 400.9L151.75 400.9L152.00 400.9L152.25 400.9L152.50 400.9L152.75 400.9L153.00 400.9L153.25 400.9L153.50 400.9L153.75 400.9L154.00 400.9L154.25 400.9L154.50 400.9L154.75 400.9L155.00 400.9L155.25 400.9L155.50 400.9L155.75 400.9L156.00 400.9L156.25 400.9L156.50 400.9L156.75 400.9L157.00 400.9L157.25 400.9L157.50 400.9L157.75 400.9L158.00 400.9L158.25 400.9L158.50 400.9L158.75 400.9L159.00 400.9L159.25 400.9L159.50 400.9L159.75 400.9L160.00 400.9L160.25 400.9L160.50 400.9L160.75 400.9L161.00 400.9L161.25 400.9L161.50 400.9L161.75 400.9L162.00 400.9L162.25 400.9L162.50 400.9L162.75 400.9L163.00 400.9L163.25 400.9L163.50 400.9L163.75 400.9L164.00 400.9L164.25 400.9L164.50 400.9L164.75 400.9L165.00 400.9L165.25 400.9L165.50 400.9L165.75 400.9L166.00 400.9L166.25 400.9L166.50 400.9L166.75 400.9L167.00 400.9L167.25 400.9L167.50 400.9L167.75 400.9L168.00 400.9L168.25 400.9L168.50 400.9L168.75 400.9L169.00 400.9L169.25 400.9L169.50 400.9L169.75 400.9L170.00 400.9L170.25 400.9L170.50 400.9L170.75 400.9L171.00 400.9L171.25 400.9L171.50 400.9L171.75 400.9L172.00 400.9L172.25 400.9L172.50 400.9L172.75 400.9L173.00 400.9L173.25 400.9L173.50 400.9L173.75 400.8L174.00 400.8L174.25 400.8L174.50 400.8L174.75 400.8L175.00 400.8L175.25 400.8L175.50 400.8L175.75 400.8L176.00 400.8L176.25 400.7L176.50 400.7L176.75 400.7L177.00 400.6L177.25 400.5L177.50 400.4L177.75 400.3L178.00 400.1L178.25 399.8L178.50 399.5L178.75 399.4L179.00 399.5L179.25 399.7L179.50 400L179.75 400.2L180.00 400.3L180.25 400.5L180.50 400.6L180.75 400.6L181.00 400.7L181.25 400.7L181.50 400.7L181.75 400.8L182.00 400.8L182.25 400.8L182.50 400.8L182.75 400.8L183.00 400.8L183.25 400.8L183.50 400.8L183.75 400.8L184.00 400.8L184.25 400.8L184.50 400.8L184.75 400.8L185.00 400.8L185.25 400.8L185.50 400.8L185.75 400.8L186.00 400.8L186.25 400.8L186.50 400.8L186.75 400.8L187.00 400.8L187.25 400.8L187.50 400.8L187.75 400.8L188.00 400.8L188.25 400.8L188.50 400.8L188.75 400.8L189.00 400.8L189.25 400.8L189.50 400.8L189.75 400.8L190.00 400.7L190.25 400.7L190.50 400.7L190.75 400.7L191.00 400.7L191.25 400.6L191.50 400.6L191.75 400.5L192.00 400.4L192.25 400.3L192.50 400.2L192.75 400L193.00 399.8L193.25 399.7L193.50 399.7L193.75 399.7L194.00 399.8L194.25 400L194.50 400.2L194.75 400.3L195.00 400.4L195.25 400.5L195.50 400.5L195.75 400.6L196.00 400.6L196.25 400.7L196.50 400.7L196.75 400.7L197.00 400.7L197.25 400.7L197.50 400.7L197.75 400.7L198.00 400.7L198.25 400.7L198.50 400.7L198.75 400.7L199.00 400.7L199.25 400.7L199.50 400.7L199.75 400.7L200.00 400.7L200.25 400.7L200.50 400.6L200.75 400.6L201.00 400.5L201.25 400.5L201.50 400.4L201.75 400.3L202.00 400.2L202.25 400.1L202.50 399.9L202.75 399.8L203.00 399.6L203.25 399.4L203.50 399.3L203.75 399.3L204.00 399.4L204.25 399.6L204.50 399.8L204.75 400L205.00 400.1L205.25 400.3L205.50 400.4L205.75 400.5L206.00 400.5L206.25 400.6L206.50 400.6L206.75 400.7L207.00 400.7L207.25 400.7L207.50 400.7L207.75 400.7L208.00 400.8L208.25 400.8L208.50 400.8L208.75 400.8L209.00 400.8L209.25 400.8L209.50 400.8L209.75 400.8L210.00 400.8L210.25 400.8L210.50 400.8L210.75 400.8L211.00 400.8L211.25 400.8L211.50 400.9L211.75 400.9L212.00 400.9L212.25 400.9L212.50 400.9L212.75 400.9L213.00 400.9L213.25 400.9L213.50 400.9L213.75 400.9L214.00 400.9L214.25 400.9L214.50 400.9L214.75 400.9L215.00 400.9L215.25 400.9L215.50 400.9L215.75 400.9L216.00 400.9L216.25 400.9L216.50 400.9L216.75 400.9L217.00 400.9L217.25 400.9L217.50 400.9L217.75 400.9L218.00 400.9L218.25 400.9L218.50 400.9L218.75 400.9L219.00 400.9L219.25 400.9L219.50 400.9L219.75 400.9L220.00 400.9L220.25 400.9L220.50 400.9L220.75 400.9L221.00 400.9L221.25 400.9L221.50 400.9L221.75 400.9L222.00 400.9L222.25 400.9L222.50 400.9L222.75 400.9L223.00 400.9L223.25 400.9L223.50 400.9L223.75 400.9L224.00 400.9L224.25 400.9L224.50 400.9L224.75 400.9L225.00 400.9L225.25 400.9L225.50 400.9L225.75 400.9L226.00 400.9L226.25 400.9L226.50 400.9L226.75 400.9L227.00 400.9L227.25 400.9L227.50 400.9L227.75 400.9L228.00 400.9L228.25 400.9L228.50 400.9L228.75 400.9L229.00 400.9L229.25 400.9L229.50 400.9L229.75 400.9L230.00 400.9L230.25 400.9L230.50 400.9L230.75 400.9L231.00 400.9L231.25 400.8L231.50 400.8L231.75 400.8L232.00 400.8L232.25 400.8L232.50 400.8L232.75 400.8L233.00 400.8L233.25 400.8L233.50 400.8L233.75 400.8L234.00 400.8L234.25 400.8L234.50 400.8L234.75 400.8L235.00 400.8L235.25 400.8L235.50 400.8L235.75 400.8L236.00 400.8L236.25 400.7L236.50 400.7L236.75 400.7L237.00 400.7L237.25 400.7L237.50 400.7L237.75 400.7L238.00 400.6L238.25 400.6L238.50 400.6L238.75 400.6L239.00 400.5L239.25 400.5L239.50 400.4L239.75 400.4L240.00 400.3L240.25 400.3L240.50 400.2L240.75 400.1L241.00 400L241.25 399.9L241.50 399.7L241.75 399.6L242.00 399.5L242.25 399.4L242.50 399.3L242.75 399.3L243.00 399.3L243.25 399.3L243.50 399.4L243.75 399.5L244.00 399.7L244.25 399.8L244.50 399.9L244.75 400L245.00 400.1L245.25 400.2L245.50 400.3L245.75 400.3L246.00 400.4L246.25 400.4L246.50 400.5L246.75 400.5L247.00 400.5L247.25 400.5L247.50 400.6L247.75 400.6L248.00 400.6L248.25 400.6L248.50 400.6L248.75 400.6L249.00 400.6L249.25 400.6L249.50 400.5L249.75 400.5L250.00 400.5L250.25 400.4L250.50 400.3L250.75 400.2L251.00 400L251.25 399.8L251.50 399.6L251.75 399.4L252.00 399.3L252.25 399.4L252.50 399.6L252.75 399.8L253.00 400L253.25 400.2L253.50 400.3L253.75 400.4L254.00 400.5L254.25 400.6L254.50 400.6L254.75 400.6L255.00 400.7L255.25 400.7L255.50 400.7L255.75 400.7L256.00 400.7L256.25 400.7L256.50 400.7L256.75 400.7L257.00 400.7L257.25 400.7L257.50 400.7L257.75 400.7L258.00 400.7L258.25 400.7L258.50 400.7L258.75 400.7L259.00 400.7L259.25 400.6L259.50 400.6L259.75 400.6L260.00 400.5L260.25 400.4L260.50 400.3L260.75 400.1L261.00 399.9L261.25 399.7L261.50 399.6L261.75 399.7L262.00 399.9L262.25 400.1L262.50 400.3L262.75 400.4L263.00 400.5L263.25 400.6L263.50 400.6L263.75 400.7L264.00 400.7L264.25 400.7L264.50 400.7L264.75 400.7L265.00 400.7L265.25 400.8L265.50 400.8L265.75 400.8L266.00 400.8L266.25 400.8L266.50 400.8L266.75 400.8L267.00 400.8L267.25 400.8L267.50 400.8L267.75 400.8L268.00 400.8L268.25 400.8L268.50 400.8L268.75 400.8L269.00 400.8L269.25 400.8L269.50 400.8L269.75 400.8L270.00 400.8L270.25 400.8L270.50 400.8L270.75 400.8L271.00 400.8L271.25 400.8L271.50 400.8L271.75 400.8L272.00 400.8L272.25 400.8L272.50 400.8L272.75 400.8L273.00 400.8L273.25 400.8L273.50 400.8L273.75 400.8L274.00 400.8L274.25 400.8L274.50 400.8L274.75 400.8L275.00 400.7L275.25 400.7L275.50 400.7L275.75 400.7L276.00 400.7L276.25 400.7L276.50 400.7L276.75 400.7L277.00 400.7L277.25 400.7L277.50 400.7L277.75 400.7L278.00 400.7L278.25 400.7L278.50 400.7L278.75 400.7L279.00 400.7L279.25 400.7L279.50 400.7L279.75 400.6L280.00 400.6L280.25 400.6L280.50 400.6L280.75 400.6L281.00 400.6L281.25 400.6L281.50 400.6L281.75 400.6L282.00 400.5L282.25 400.5L282.50 400.5L282.75 400.5L283.00 400.5L283.25 400.5L283.50 400.4L283.75 400.4L284.00 400.4L284.25 400.4L284.50 400.3L284.75 400.3L285.00 400.3L285.25 400.2L285.50 400.2L285.75 400.2L286.00 400.1L286.25 400.1L286.50 400L286.75 399.9L287.00 399.9L287.25 399.8L287.50 399.7L287.75 399.6L288.00 399.5L288.25 399.4L288.50 399.3L288.75 399.1L289.00 398.9L289.25 398.7L289.50 398.5L289.75 398.2L290.00 397.8L290.25 397.4L290.50 396.9L290.75 396.3L291.00 395.5L291.25 394.5L291.50 393.1L291.75 391.4L292.00 388.9L292.25 385.3L292.50 380L292.75 371.8L293.00 358.8L293.25 339L293.50 315.8L293.72 306.3L293.75 306.5L294.00 320.5L294.25 339.2L294.50 350.2L294.75 352.3L295.00 348.1L295.25 344.8L295.50 351.2L295.75 363.6L296.00 374.4L296.25 381.9L296.50 386.7L296.75 390L297.00 392.2L297.25 393.9L297.50 395.1L297.75 396L298.00 396.7L298.25 397.2L298.50 397.7L298.75 398.1L299.00 398.4L299.25 398.6L299.50 398.9L299.75 399.1L300.00 399.2L300.25 399.4L300.50 399.5L300.75 399.6L301.00 399.7L301.25 399.8L301.50 399.9L301.75 399.9L302.00 400L302.25 400L302.50 400.1L302.75 400.1L303.00 400.2L303.25 400.2L303.50 400.3L303.75 400.3L304.00 400.3L304.25 400.4L304.50 400.4L304.75 400.4L305.00 400.4L305.25 400.5L305.50 400.5L305.75 400.5L306.00 400.5L306.25 400.5L306.50 400.5L306.75 400.6L307.00 400.6L307.25 400.6L307.50 400.6L307.75 400.6L308.00 400.6L308.25 400.6L308.50 400.6L308.75 400.6L309.00 400.6L309.25 400.7L309.50 400.7L309.75 400.7L310.00 400.7L310.25 400.7L310.50 400.7L310.75 400.7L311.00 400.7L311.25 400.7L311.50 400.7L311.75 400.7L312.00 400.7L312.25 400.7L312.50 400.7L312.75 400.7L313.00 400.7L313.25 400.7L313.50 400.7L313.75 400.7L314.00 400.7L314.25 400.7L314.50 400.7L314.75 400.7L315.00 400.7L315.25 400.7L315.50 400.7L315.75 400.7L316.00 400.7L316.25 400.7L316.50 400.7L316.75 400.7L317.00 400.7L317.25 400.7L317.50 400.7L317.75 400.7L318.00 400.7L318.25 400.6L318.50 400.6L318.75 400.6L319.00 400.5L319.25 400.4L319.50 400.4L319.75 400.2L320.00 400.1L320.25 399.9L320.50 399.6L320.75 399.4L321.00 399.3L321.25 399.4L321.50 399.6L321.75 399.9L322.00 400.1L322.25 400.2L322.50 400.4L322.75 400.5L323.00 400.5L323.25 400.6L323.50 400.6L323.75 400.7L324.00 400.7L324.25 400.7L324.50 400.7L324.75 400.7L325.00 400.7L325.25 400.7L325.50 400.7L325.75 400.8L326.00 400.8L326.25 400.8L326.50 400.8L326.75 400.8L327.00 400.8L327.25 400.8L327.50 400.8L327.75 400.8L328.00 400.8L328.25 400.8L328.50 400.8L328.75 400.8L329.00 400.8L329.25 400.8L329.50 400.8L329.75 400.8L330.00 400.8L330.25 400.8L330.50 400.8L330.75 400.8L331.00 400.8L331.25 400.8L331.50 400.8L331.75 400.8L332.00 400.8L332.25 400.8L332.50 400.8L332.75 400.8L333.00 400.8L333.25 400.8L333.50 400.8L333.75 400.8L334.00 400.8L334.25 400.8L334.50 400.8L334.75 400.8L335.00 400.8L335.25 400.8L335.50 400.8L335.75 400.8L336.00 400.8L336.25 400.8L336.50 400.8L336.75 400.8L337.00 400.8L337.25 400.8L337.50 400.8L337.75 400.8L338.00 400.8L338.25 400.8L338.50 400.8L338.75 400.8L339.00 400.8L339.25 400.8L339.50 400.8L339.75 400.8L340.00 400.8L340.25 400.8L340.50 400.8L340.75 400.8L341.00 400.8L341.25 400.8L341.50 400.8L341.75 400.8L342.00 400.8L342.25 400.8L342.50 400.8L342.75 400.8L343.00 400.8L343.25 400.8L343.50 400.8L343.75 400.8L344.00 400.8L344.25 400.8L344.50 400.8L344.75 400.8L345.00 400.8L345.25 400.8L345.50 400.8L345.75 400.8L346.00 400.8L346.25 400.8L346.50 400.8L346.75 400.8L347.00 400.8L347.25 400.8L347.50 400.8L347.75 400.8L348.00 400.8L348.25 400.8L348.50 400.8L348.75 400.8L349.00 400.8L349.25 400.8L349.50 400.8L349.75 400.8L350.00 400.8L350.25 400.8L350.50 400.8L350.75 400.8L351.00 400.8L351.25 400.8L351.50 400.8L351.75 400.8L352.00 400.8L352.25 400.8L352.50 400.8L352.75 400.8L353.00 400.8L353.25 400.8L353.50 400.8L353.75 400.8L354.00 400.8L354.25 400.8L354.50 400.8L354.75 400.8L355.00 400.8L355.25 400.8L355.50 400.8L355.75 400.8L356.00 400.8L356.25 400.8L356.50 400.8L356.75 400.8L357.00 400.8L357.25 400.8L357.50 400.8L357.75 400.8L358.00 400.8L358.25 400.8L358.50 400.8L358.75 400.8L359.00 400.7L359.25 400.7L359.50 400.7L359.75 400.7L360.00 400.7L360.25 400.7L360.50 400.7L360.75 400.7L361.00 400.7L361.25 400.7L361.50 400.7L361.75 400.7L362.00 400.7L362.25 400.7L362.50 400.7L362.75 400.7L363.00 400.7L363.25 400.7L363.50 400.7L363.75 400.7L364.00 400.7L364.25 400.7L364.50 400.7L364.75 400.7L365.00 400.6L365.25 400.6L365.50 400.6L365.75 400.6L366.00 400.6L366.25 400.6L366.50 400.6L366.75 400.6L367.00 400.6L367.25 400.6L367.50 400.6L367.75 400.6L368.00 400.6L368.25 400.5L368.50 400.5L368.75 400.5L369.00 400.5L369.25 400.5L369.50 400.5L369.75 400.5L370.00 400.5L370.25 400.4L370.50 400.4L370.75 400.4L371.00 400.4L371.25 400.4L371.50 400.4L371.75 400.3L372.00 400.3L372.25 400.3L372.50 400.3L372.75 400.3L373.00 400.2L373.25 400.2L373.50 400.2L373.75 400.1L374.00 400.1L374.25 400.1L374.50 400L374.75 400L375.00 399.9L375.25 399.9L375.50 399.8L375.75 399.8L376.00 399.7L376.25 399.7L376.50 399.6L376.75 399.5L377.00 399.4L377.25 399.3L377.50 399.2L377.75 399.1L378.00 399L378.25 398.8L378.50 398.7L378.75 398.5L379.00 398.3L379.25 398.1L379.50 397.8L379.75 397.5L380.00 397.2L380.25 396.8L380.50 396.3L380.75 395.7L381.00 395.1L381.25 394.3L381.50 393.3L381.75 392.1L382.00 390.5L382.25 388.5L382.50 385.8L382.75 382.2L383.00 377L383.25 369.6L383.50 358.3L383.75 340.5L384.00 312.4L384.25 272.2L384.50 235.8L384.62 230.8L384.75 238.2L385.00 273.1L385.25 304.8L385.50 321.5L385.75 324.4L386.00 316.2L386.25 304.7L386.50 306.9L386.75 326.2L387.00 347.3L387.25 362.8L387.50 373L387.75 379.7L388.00 384.3L388.25 387.5L388.50 389.8L388.75 391.6L389.00 393L389.25 394L389.50 394.9L389.75 395.6L390.00 396.2L390.25 396.7L390.50 397.1L390.75 397.4L391.00 397.7L391.25 398L391.50 398.2L391.75 398.4L392.00 398.6L392.25 398.8L392.50 398.9L392.75 399L393.00 399.2L393.25 399.3L393.50 399.4L393.75 399.4L394.00 399.5L394.25 399.6L394.50 399.6L394.75 399.7L395.00 399.8L395.25 399.8L395.50 399.8L395.75 399.9L396.00 399.9L396.25 400L396.50 400L396.75 400L397.00 400L397.25 400.1L397.50 400.1L397.75 400.1L398.00 400.1L398.25 400.1L398.50 400.2L398.75 400.2L399.00 400.2L399.25 400.2L399.50 400.2L399.75 400.2L400.00 400.2L400.25 400.2L400.50 400.2L400.75 400.2L401.00 400.2L401.25 400.2L401.50 400.2L401.75 400.2L402.00 400.2L402.25 400.2L402.50 400.2L402.75 400.2L403.00 400.2L403.25 400.2L403.50 400.2L403.75 400.1L404.00 400.1L404.25 400.1L404.50 400.1L404.75 400L405.00 400L405.25 399.9L405.50 399.9L405.75 399.8L406.00 399.8L406.25 399.7L406.50 399.6L406.75 399.5L407.00 399.4L407.25 399.3L407.50 399.2L407.75 399L408.00 398.8L408.25 398.6L408.50 398.3L408.75 397.9L409.00 397.5L409.25 396.9L409.50 396.2L409.75 395.3L410.00 394L410.25 392.3L410.50 389.9L410.75 386.3L411.00 380.9L411.25 372.9L411.50 362L411.75 351.6L411.92 348.9L412.00 349.5L412.25 356.5L412.50 364.9L412.75 369.8L413.00 370.8L413.25 369.3L413.50 369.3L413.75 373.5L414.00 379.7L414.25 385.2L414.50 389.2L414.75 392L415.00 393.9L415.25 395.2L415.50 396.2L415.75 397L416.00 397.5L416.25 398L416.50 398.4L416.75 398.7L417.00 398.9L417.25 399.1L417.50 399.3L417.75 399.4L418.00 399.6L418.25 399.7L418.50 399.8L418.75 399.9L419.00 399.9L419.25 400L419.50 400.1L419.75 400.1L420.00 400.2L420.25 400.2L420.50 400.2L420.75 400.3L421.00 400.3L421.25 400.3L421.50 400.4L421.75 400.4L422.00 400.4L422.25 400.4L422.50 400.5L422.75 400.5L423.00 400.5L423.25 400.5L423.50 400.5L423.75 400.5L424.00 400.5L424.25 400.6L424.50 400.6L424.75 400.6L425.00 400.6L425.25 400.6L425.50 400.6L425.75 400.6L426.00 400.6L426.25 400.6L426.50 400.6L426.75 400.6L427.00 400.6L427.25 400.6L427.50 400.6L427.75 400.6L428.00 400.7L428.25 400.7L428.50 400.7L428.75 400.7L429.00 400.6L429.25 400.6L429.50 400.6L429.75 400.6L430.00 400.6L430.25 400.6L430.50 400.6L430.75 400.6L431.00 400.6L431.25 400.5L431.50 400.5L431.75 400.4L432.00 400.3L432.25 400.2L432.50 400.1L432.75 399.9L433.00 399.7L433.25 399.4L433.50 399.3L433.75 399.3L434.00 399.5L434.25 399.7L434.50 400L434.75 400.1L435.00 400.3L435.25 400.4L435.50 400.5L435.75 400.5L436.00 400.6L436.25 400.6L436.50 400.6L436.75 400.7L437.00 400.7L437.25 400.7L437.50 400.7L437.75 400.7L438.00 400.7L438.25 400.7L438.50 400.8L438.75 400.8L439.00 400.8L439.25 400.8L439.50 400.8L439.75 400.8L440.00 400.8L440.25 400.8L440.50 400.8L440.75 400.8L441.00 400.8L441.25 400.8L441.50 400.8L441.75 400.8L442.00 400.8L442.25 400.8L442.50 400.8L442.75 400.8L443.00 400.8L443.25 400.8L443.50 400.8L443.75 400.8L444.00 400.8L444.25 400.8L444.50 400.8L444.75 400.9L445.00 400.9L445.25 400.9L445.50 400.9L445.75 400.9L446.00 400.9L446.25 400.9L446.50 400.9L446.75 400.9L447.00 400.9L447.25 400.9L447.50 400.9L447.75 400.9L448.00 400.9L448.25 400.9L448.50 400.9L448.75 400.9L449.00 400.9L449.25 400.9L449.50 400.9L449.75 400.9L450.00 400.9L450.25 400.9L450.50 400.9L450.75 400.9L451.00 400.9L451.25 400.9L451.50 400.9L451.75 400.9L452.00 400.9L452.25 400.9L452.50 400.9L452.75 400.9L453.00 400.9L453.25 400.9L453.50 400.9L453.75 400.9L454.00 400.9L454.25 400.9L454.50 400.9L454.75 400.9L455.00 400.9L455.25 400.9L455.50 400.9L455.75 400.9L456.00 400.9L456.25 400.9L456.50 400.9L456.75 400.9L457.00 400.9L457.25 400.9L457.50 400.9L457.75 400.9L458.00 400.9L458.25 400.9L458.50 400.9L458.75 400.9L459.00 400.9L459.25 400.9L459.50 400.9L459.75 400.9L460.00 400.9L460.25 400.9L460.50 400.9L460.75 400.9L461.00 400.9L461.25 400.9L461.50 400.9L461.75 400.9L462.00 400.9L462.25 400.9L462.50 400.9L462.75 400.9L463.00 400.9L463.25 400.9L463.50 400.9L463.75 400.9L464.00 400.9L464.25 400.9L464.50 400.9L464.75 400.9L465.00 400.9L465.25 400.9L465.50 400.9L465.75 400.9L466.00 400.9L466.25 400.9L466.50 400.9L466.75 400.9L467.00 400.9L467.25 400.9L467.50 400.9L467.75 400.9L468.00 400.9L468.25 400.9L468.50 400.9L468.75 400.9L469.00 400.9L469.25 400.9L469.50 400.9L469.75 400.9L470.00 400.9L470.25 400.9L470.50 400.9L470.75 400.9L471.00 400.9L471.25 400.9L471.50 400.9L471.75 400.9L472.00 400.9L472.25 400.9L472.50 400.9L472.75 400.9L473.00 400.9L473.25 400.9L473.50 400.9L473.75 400.9L474.00 400.9L474.25 400.9L474.50 400.9L474.75 400.9L475.00 400.9L475.25 400.9L475.50 400.9L475.75 400.9L476.00 400.9L476.25 400.9L476.50 400.9L476.75 400.9L477.00 400.9L477.25 400.9L477.50 400.9L477.75 400.9L478.00 400.9L478.25 400.9L478.50 400.9L478.75 400.9L479.00 400.9L479.25 400.8L479.50 400.8L479.75 400.8L480.00 400.8L480.25 400.8L480.50 400.8L480.75 400.8L481.00 400.8L481.25 400.8L481.50 400.8L481.75 400.7L482.00 400.7L482.25 400.7L482.50 400.6L482.75 400.5L483.00 400.4L483.25 400.3L483.50 400.2L483.75 399.9L484.00 399.7L484.25 399.5L484.50 399.4L484.75 399.5L485.00 399.7L485.25 399.9L485.50 400.2L485.75 400.3L486.00 400.4L486.25 400.5L486.50 400.6L486.75 400.7L487.00 400.7L487.25 400.7L487.50 400.8L487.75 400.8L488.00 400.8L488.25 400.8L488.50 400.8L488.75 400.8L489.00 400.8L489.25 400.8L489.50 400.8L489.75 400.8L490.00 400.9L490.25 400.9L490.50 400.9L490.75 400.9L491.00 400.9L491.25 400.9L491.50 400.9L491.75 400.9L492.00 400.9L492.25 400.9L492.50 400.9L492.75 400.9L493.00 400.9L493.25 400.9L493.50 400.9L493.75 400.9L494.00 400.9L494.25 400.9L494.50 400.9L494.75 400.9L495.00 400.9L495.25 400.9L495.50 400.9L495.75 400.9L496.00 400.9L496.25 400.9L496.50 400.9L496.75 400.9L497.00 400.9L497.25 400.9L497.50 400.9L497.75 400.9L498.00 400.9L498.25 400.9L498.50 400.9L498.75 400.9L499.00 400.9L499.25 400.9L499.50 400.9L499.75 400.9L500.00 400.9L500.25 400.9L500.50 400.9L500.75 400.9L501.00 400.9L501.25 400.9L501.50 400.9L501.75 400.9L502.00 400.9L502.25 400.9L502.50 400.9L502.75 400.9L503.00 400.9L503.25 400.9L503.50 400.9L503.75 400.9L504.00 400.9L504.25 400.9L504.50 400.9L504.75 400.9L505.00 400.9L505.25 400.9L505.50 400.9L505.75 400.9L506.00 400.9L506.25 400.9L506.50 400.9L506.75 400.9L507.00 400.9L507.25 400.9L507.50 400.9L507.75 400.9L508.00 400.9L508.25 400.9L508.50 400.9L508.75 400.9L509.00 400.9L509.25 400.9L509.50 400.9L509.75 400.9L510.00 400.9L510.25 400.9L510.50 400.9L510.75 400.9L511.00 400.9L511.25 400.9L511.50 400.9L511.75 400.9L512.00 400.9L512.25 400.9L512.50 400.9L512.75 400.9L513.00 400.9L513.25 400.9L513.50 400.9L513.75 400.9L514.00 400.9L514.25 400.9L514.50 400.9L514.75 400.9L515.00 400.9L515.25 400.9L515.50 400.9L515.75 400.9L516.00 400.9L516.25 400.9L516.50 400.9L516.75 400.9L517.00 400.9L517.25 400.9L517.50 400.9L517.75 400.9L518.00 400.9L518.25 400.9L518.50 400.9L518.75 400.9L519.00 400.9L519.25 400.9L519.50 400.9L519.75 400.9L520.00 400.9L520.25 400.9L520.50 400.9L520.75 400.9L521.00 400.9L521.25 400.9L521.50 400.9L521.75 400.9L522.00 400.9L522.25 400.9L522.50 400.9L522.75 400.9L523.00 400.9L523.25 400.9L523.50 400.9L523.75 400.9L524.00 400.9L524.25 400.9L524.50 400.9L524.75 400.9L525.00 400.9L525.25 400.9L525.50 400.9L525.75 400.9L526.00 400.9L526.25 400.9L526.50 400.9L526.75 400.9L527.00 400.9L527.25 400.9L527.50 400.9L527.75 400.9L528.00 400.9L528.25 400.9L528.50 400.9L528.75 400.9L529.00 400.9L529.25 400.9L529.50 400.9L529.75 400.9L530.00 400.9L530.25 400.9L530.50 400.9L530.75 400.9L531.00 400.9L531.25 400.9L531.50 400.9L531.75 400.9L532.00 400.9L532.25 400.9L532.50 400.9L532.75 400.9L533.00 400.9L533.25 400.9L533.50 400.9L533.75 400.9L534.00 400.9L534.25 400.9L534.50 400.9L534.75 400.9L535.00 400.9L535.25 400.9L535.50 400.9L535.75 400.9L536.00 400.9L536.25 400.9L536.50 400.9L536.75 400.9L537.00 400.9L537.25 400.9L537.50 400.9L537.75 400.9L538.00 400.9L538.25 400.9L538.50 400.9L538.75 400.9L539.00 400.9L539.25 400.9L539.50 400.9L539.75 400.9L540.00 400.9L540.25 400.9L540.50 400.9L540.75 400.9L541.00 400.9L541.25 400.9L541.50 400.9L541.75 400.9L542.00 400.9L542.25 400.9L542.50 400.9L542.75 400.9L543.00 400.9L543.25 400.9L543.50 400.9L543.75 400.9L544.00 400.9L544.25 400.9L544.50 400.9L544.75 400.9L545.00 400.9L545.25 400.9L545.50 400.9L545.75 400.9L546.00 400.9L546.25 400.9L546.50 400.9L546.75 400.9L547.00 400.9L547.25 400.9L547.50 400.9L547.75 400.9L548.00 400.9L548.25 400.9L548.50 400.9L548.75 400.9L549.00 400.9L549.25 400.9L549.50 400.9L549.75 400.9L550.00 400.9L550.25 400.9L550.50 400.9L550.75 400.9L551.00 400.9L551.25 400.9L551.50 400.9L551.75 400.9L552.00 400.9L552.25 400.9L552.50 400.9L552.75 400.9L553.00 400.9L553.25 400.9L553.50 400.9L553.75 400.9L554.00 400.9L554.25 400.9L554.50 400.9L554.75 400.9L555.00 400.9L555.25 400.9L555.50 400.9L555.75 400.9L556.00 400.9L556.25 400.9L556.50 400.9L556.75 400.9L557.00 400.9L557.25 400.9L557.50 400.9L557.75 400.9L558.00 400.9L558.25 400.9L558.50 400.9L558.75 400.9L559.00 400.9L559.25 400.9L559.50 400.9L559.75 400.9L560.00 400.9L560.25 400.9L560.50 400.9L560.75 400.9L561.00 400.9L561.25 400.9L561.50 400.9L561.75 400.9L562.00 400.9L562.25 400.9L562.50 400.9L562.75 400.9L563.00 400.9L563.25 400.9L563.50 400.9L563.75 400.9L564.00 400.9L564.25 400.9L564.50 400.9L564.75 400.9L565.00 400.9L565.25 400.9L565.50 400.9L565.75 400.9L566.00 400.9L566.25 400.9L566.50 400.9L566.75 400.9L567.00 400.9L567.25 400.9L567.50 400.9L567.75 400.9L568.00 400.9L568.25 400.9L568.50 400.9L568.75 400.9L569.00 400.9L569.25 400.9L569.50 400.9L569.75 400.9L570.00 400.9L570.25 400.9L570.50 400.9L570.75 400.9L571.00 400.9L571.25 400.9L571.50 400.9L571.75 400.9L572.00 400.9L572.25 400.9L572.50 400.9L572.75 400.9L573.00 400.9L573.25 400.9L573.50 400.9L573.75 400.9L574.00 400.9L574.25 400.9L574.50 400.8L574.75 400.8L575.00 400.8L575.25 400.8L575.50 400.8L575.75 400.8L576.00 400.8L576.25 400.8L576.50 400.8L576.75 400.8L577.00 400.8L577.25 400.8L577.50 400.8L577.75 400.8L578.00 400.8L578.25 400.8L578.50 400.8L578.75 400.8L579.00 400.7L579.25 400.7L579.50 400.7L579.75 400.7L580.00 400.7L580.25 400.7L580.50 400.6L580.75 400.6L581.00 400.6L581.25 400.5L581.50 400.5L581.75 400.4L582.00 400.4L582.25 400.3L582.50 400.2L582.75 400.1L583.00 400L583.25 399.8L583.50 399.6L583.75 399.5L584.00 399.3L584.25 399.2L584.50 399.1L584.68 399.1L584.75 399.1L585.00 399.1L585.25 399.2L585.50 399.3L585.75 399.4L586.00 399.4L586.25 399.5L586.50 399.6L586.75 399.7L587.00 399.8L587.25 399.9L587.50 400L587.75 400.1L588.00 400.2L588.25 400.3L588.50 400.4L588.75 400.4L589.00 400.5L589.25 400.5L589.50 400.6L589.75 400.6L590.00 400.6L590.25 400.7L590.50 400.7L590.75 400.7L591.00 400.7L591.25 400.7L591.50 400.8L591.75 400.8L592.00 400.8L592.25 400.8L592.50 400.8L592.75 400.8L593.00 400.8L593.25 400.8L593.50 400.8L593.75 400.8L594.00 400.8L594.25 400.8L594.50 400.8L594.75 400.8L595.00 400.8L595.25 400.8L595.50 400.8L595.75 400.8L596.00 400.8L596.25 400.9L596.50 400.9L596.75 400.9L597.00 400.9L597.25 400.9L597.50 400.9L597.75 400.9L598.00 400.9L598.25 400.9L598.50 400.9L598.75 400.9L599.00 400.9L599.25 400.9L599.50 400.9L599.75 400.9L600.00 400.9L600.25 400.9L600.50 400.9L600.75 400.9L601.00 400.9L601.25 400.9L601.50 400.9L601.75 400.9L602.00 400.9L602.25 400.9L602.50 400.9L602.75 400.9L603.00 400.9L603.25 400.9L603.50 400.9L603.75 400.9L604.00 400.9L604.25 400.9L604.50 400.9L604.75 400.9L605.00 400.9L605.25 400.9L605.50 400.9L605.75 400.9L606.00 400.9L606.25 400.9L606.50 400.9L606.75 400.9L607.00 400.9L607.25 400.9L607.50 400.9L607.75 400.9L608.00 400.9L608.25 400.9L608.50 400.9L608.75 400.9L609.00 400.9L609.25 400.9L609.50 400.9L609.75 400.9L610.00 400.9L610.25 400.9L610.50 400.9L610.75 400.9L611.00 400.9L611.25 400.9L611.50 400.9L611.75 400.9L612.00 400.9L612.25 400.9L612.50 400.9L612.75 400.9L613.00 400.9L613.25 400.9L613.50 400.9L613.75 400.9L614.00 400.9L614.25 400.9L614.50 400.9L614.75 400.9L615.00 400.9L615.25 400.9L615.50 400.9L615.75 400.9L616.00 400.9L616.25 400.9L616.50 400.9L616.75 400.9L617.00 400.9L617.25 400.9L617.50 400.9L617.75 400.9L618.00 400.9L618.25 400.9L618.50 400.9L618.75 400.9L619.00 400.9L619.25 400.9L619.50 400.9L619.75 400.9L620.00 400.9L620.25 400.9L620.50 400.9L620.75 400.9L621.00 400.9L621.25 400.9L621.50 400.9L621.75 400.9L622.00 400.9L622.25 400.9L622.50 400.9L622.75 400.9L623.00 400.9L623.25 400.9L623.50 400.9L623.75 400.9L624.00 400.9L624.25 400.9L624.50 400.9L624.75 400.9L625.00 400.9L625.25 400.9L625.50 400.9L625.75 400.9L626.00 400.9L626.25 400.9L626.50 400.9L626.75 400.9L627.00 400.9L627.25 400.9L627.50 400.9L627.75 400.9L628.00 400.9L628.25 400.9L628.50 400.9L628.75 400.9L629.00 400.9L629.25 400.9L629.50 400.9L629.75 400.9L630.00 400.9L630.25 400.9L630.50 400.9L630.75 400.9L631.00 400.9L631.25 400.9L631.50 400.9L631.75 400.9L632.00 400.9L632.25 400.9L632.50 400.9L632.75 400.9L633.00 400.9L633.25 400.9L633.50 400.9L633.75 400.9L634.00 400.9L634.25 400.9L634.50 400.9L634.75 400.9L635.00 400.9L635.25 400.9L635.50 400.9L635.75 400.9L636.00 400.9L636.25 400.9L636.50 400.9L636.75 400.9L637.00 400.9L637.25 400.9L637.50 400.9L637.75 400.9L638.00 400.9L638.25 400.9L638.50 400.9L638.75 400.9L639.00 400.9L639.25 400.9L639.50 400.9L639.75 400.9L640.00 400.9L640.25 400.9L640.50 400.9L640.75 400.9L641.00 400.9L641.25 400.9L641.50 400.9L641.75 400.9L642.00 400.9L642.25 400.9L642.50 400.9L642.75 400.9L643.00 400.9L643.25 400.9L643.50 400.9L643.75 400.9L644.00 400.9L644.25 400.9L644.50 400.9L644.75 400.9L645.00 400.9L645.25 400.9L645.50 400.9L645.75 400.9L646.00 400.9L646.25 400.9L646.50 400.9L646.75 400.9L647.00 400.9L647.25 400.9L647.50 400.9L647.75 400.9L648.00 400.9L648.25 400.9L648.50 400.9L648.75 400.9L649.00 400.9L649.25 400.9L649.50 400.9L649.75 400.9L650.00 400.9L650.25 400.9L650.50 400.9L650.75 400.9L651.00 400.9L651.25 400.9L651.50 400.9L651.75 400.9L652.00 400.9L652.25 400.9L652.50 400.9L652.75 400.9L653.00 400.9L653.25 400.9L653.50 400.9L653.75 400.9L654.00 400.9L654.25 400.9L654.50 400.9L654.75 400.9L655.00 400.9L655.25 400.9L655.50 400.9L655.75 400.9L656.00 400.9L656.25 400.9L656.50 400.9L656.75 400.9L657.00 400.9L657.25 400.9L657.50 400.9L657.75 400.9L658.00 400.9L658.25 400.9L658.50 400.9L658.75 400.9L659.00 400.9L659.25 400.9L659.50 400.9L659.75 400.9L660.00 400.9L660.25 400.9L660.50 400.9L660.75 400.9L661.00 400.9L661.25 400.9L661.50 400.9L661.75 400.9L662.00 400.9L662.25 400.9L662.50 400.9L662.75 400.9L663.00 400.9L663.25 400.9L663.50 400.9L663.75 400.9L664.00 400.9L664.25 400.9L664.50 400.9L664.75 400.9L665.00 400.9L665.25 400.9L665.50 400.9L665.75 400.9L666.00 400.9L666.25 400.9L666.50 400.9L666.75 400.9L667.00 400.9L667.25 400.9L667.50 400.9L667.75 400.9L668.00 400.9L668.25 400.9L668.50 400.9L668.75 400.9L669.00 400.9L669.25 400.9L669.50 400.9L669.75 400.9L670.00 400.9L670.25 400.8L670.50 400.8L670.75 400.8L671.00 400.8L671.25 400.8L671.50 400.8L671.75 400.8L672.00 400.8L672.25 400.8L672.50 400.8L672.75 400.8L673.00 400.8L673.25 400.8L673.50 400.8L673.75 400.8L674.00 400.8L674.25 400.8L674.50 400.8L674.75 400.8L675.00 400.8L675.25 400.8L675.50 400.8L675.75 400.8L676.00 400.8L676.25 400.8L676.50 400.8L676.75 400.8L677.00 400.8L677.25 400.8L677.50 400.8L677.75 400.8L678.00 400.8L678.25 400.8L678.50 400.8L678.75 400.8L679.00 400.8L679.25 400.8L679.50 400.8L679.75 400.8L680.00 400.8L680.25 400.8L680.50 400.7L680.75 400.7L681.00 400.7L681.25 400.7L681.50 400.7L681.75 400.7L682.00 400.7L682.25 400.7L682.50 400.7L682.75 400.7L683.00 400.7L683.25 400.7L683.50 400.6L683.75 400.6L684.00 400.6L684.25 400.6L684.50 400.6L684.75 400.6L685.00 400.6L685.25 400.5L685.50 400.5L685.75 400.5L686.00 400.5L686.25 400.4L686.50 400.4L686.75 400.4L687.00 400.3L687.25 400.3L687.50 400.3L687.75 400.2L688.00 400.1L688.25 400.1L688.50 400L688.75 399.9L689.00 399.8L689.25 399.7L689.50 399.6L689.75 399.4L690.00 399.2L690.25 399L690.50 398.7L690.75 398.4L691.00 397.9L691.25 397.3L691.50 396.6L691.75 395.6L692.00 394.2L692.25 392.3L692.50 389.4L692.75 385.2L693.00 379.3L693.25 372L693.50 366.3L693.60 365.6L693.75 366.7L694.00 372.5L694.25 379L694.50 383.8L694.75 386.5L695.00 387.6L695.25 387.3L695.50 385.7L695.75 383.1L696.00 381.3L696.25 382.1L696.50 385.3L696.75 389L697.00 392L697.25 394.1L697.50 395.6L697.75 396.7L698.00 397.5L698.25 398L698.50 398.5L698.75 398.8L699.00 399.1L699.25 399.3L699.50 399.5L699.75 399.6L700.00 399.8L700.25 399.9L700.50 400L700.75 400.1L701.00 400.1L701.25 400.2L701.50 400.2L701.75 400.3L702.00 400.3L702.25 400.4L702.50 400.4L702.75 400.4L703.00 400.5L703.25 400.5L703.50 400.5L703.75 400.5L704.00 400.5L704.25 400.6L704.50 400.6L704.75 400.6L705.00 400.6L705.25 400.6L705.50 400.6L705.75 400.6L706.00 400.7L706.25 400.7L706.50 400.7L706.75 400.7L707.00 400.7L707.25 400.7L707.50 400.7L707.75 400.7L708.00 400.7L708.25 400.7L708.50 400.7L708.75 400.7L709.00 400.7L709.25 400.7L709.50 400.8L709.75 400.8L710.00 400.8L710.25 400.8L710.50 400.8L710.75 400.8L711.00 400.8L711.25 400.8L711.50 400.8L711.75 400.8L712.00 400.8L712.25 400.8L712.50 400.8L712.75 400.8L713.00 400.8L713.25 400.8L713.50 400.8L713.75 400.8L714.00 400.8L714.25 400.8L714.50 400.8L714.75 400.8L715.00 400.8L715.25 400.8L715.50 400.8L715.75 400.8L716.00 400.8L716.25 400.8L716.50 400.8L716.75 400.8L717.00 400.8L717.25 400.8L717.50 400.8L717.75 400.8L718.00 400.8L718.25 400.8L718.50 400.8L718.75 400.8L719.00 400.8L719.25 400.8L719.50 400.8L719.75 400.8L720.00 400.8L720.25 400.8L720.50 400.8L720.75 400.8L721.00 400.8L721.25 400.8L721.50 400.8L721.75 400.8L722.00 400.8L722.25 400.8L722.50 400.8L722.75 400.8L723.00 400.8L723.25 400.8L723.50 400.8L723.75 400.8L724.00 400.8L724.25 400.8L724.50 400.8L724.75 400.8L725.00 400.8L725.25 400.8L725.50 400.8L725.75 400.8L726.00 400.8L726.25 400.8L726.50 400.8L726.75 400.8L727.00 400.8L727.25 400.8L727.50 400.8L727.75 400.8L728.00 400.8L728.25 400.8L728.50 400.8L728.75 400.8L729.00 400.8L729.25 400.8L729.50 400.8L729.75 400.8L730.00 400.8L730.25 400.8L730.50 400.8L730.75 400.8L731.00 400.8L731.25 400.8L731.50 400.8L731.75 400.8L732.00 400.8L732.25 400.8L732.50 400.8L732.75 400.8L733.00 400.8L733.25 400.8L733.50 400.8L733.75 400.8L734.00 400.8L734.25 400.8L734.50 400.8L734.75 400.8L735.00 400.8L735.25 400.8L735.50 400.8L735.75 400.8L736.00 400.8L736.25 400.8L736.50 400.8L736.75 400.8L737.00 400.8L737.25 400.8L737.50 400.8L737.75 400.8L738.00 400.8L738.25 400.8L738.50 400.8L738.75 400.8L739.00 400.8L739.25 400.8L739.50 400.8L739.75 400.8L740.00 400.8L740.25 400.8L740.50 400.8L740.75 400.7L741.00 400.7L741.25 400.7L741.50 400.7L741.75 400.7L742.00 400.7L742.25 400.7L742.50 400.7L742.75 400.7L743.00 400.7L743.25 400.7L743.50 400.7L743.75 400.7L744.00 400.7L744.25 400.7L744.50 400.7L744.75 400.6L745.00 400.6L745.25 400.6L745.50 400.6L745.75 400.6L746.00 400.6L746.25 400.6L746.50 400.6L746.75 400.5L747.00 400.5L747.25 400.5L747.50 400.5L747.75 400.5L748.00 400.4L748.25 400.4L748.50 400.4L748.75 400.4L749.00 400.3L749.25 400.3L749.50 400.2L749.75 400.2L750.00 400.1L750.25 400.1L750.50 400L750.75 399.9L751.00 399.9L751.25 399.8L751.50 399.7L751.75 399.5L752.00 399.4L752.25 399.2L752.50 399L752.75 398.8L753.00 398.5L753.25 398.1L753.50 397.7L753.75 397.1L754.00 396.3L754.25 395.4L754.50 394L754.75 392.2L755.00 389.6L755.25 385.8L755.50 380.2L755.75 372.3L756.00 363.2L756.25 357.3L756.30 357.1L756.50 359.7L756.75 367.7L757.00 375.7L757.25 381.4L757.50 384.9L757.75 386.6L758.00 386.9L758.25 385.7L758.50 383.1L758.75 379.6L759.00 377.1L759.25 377.9L759.50 381.9L759.75 386.4L760.00 390.1L760.25 392.7L760.50 394.5L760.75 395.8L761.00 396.8L761.25 397.5L761.50 398L761.75 398.4L762.00 398.7L762.25 399L762.50 399.2L762.75 399.4L763.00 399.5L763.25 399.7L763.50 399.8L763.75 399.9L764.00 400L764.25 400L764.50 400.1L764.75 400.2L765.00 400.2L765.25 400.3L765.50 400.3L765.75 400.3L766.00 400.4L766.25 400.4L766.50 400.4L766.75 400.5L767.00 400.5L767.25 400.5L767.50 400.5L767.75 400.5L768.00 400.6L768.25 400.6L768.50 400.6L768.75 400.6L769.00 400.6L769.25 400.6L769.50 400.6L769.75 400.7L770.00 400.7L770.25 400.7L770.50 400.7L770.75 400.7L771.00 400.7L771.25 400.7L771.50 400.7L771.75 400.7L772.00 400.7L772.25 400.7L772.50 400.7L772.75 400.7L773.00 400.7L773.25 400.8L773.50 400.8L773.75 400.8L774.00 400.8L774.25 400.8L774.50 400.8L774.75 400.8L775.00 400.8L775.25 400.8L775.50 400.8L775.75 400.8L776.00 400.8L776.25 400.8L776.50 400.8L776.75 400.8L777.00 400.8L777.25 400.8L777.50 400.8L777.75 400.8L778.00 400.8L778.25 400.8L778.50 400.8L778.75 400.8L779.00 400.8L779.25 400.8L779.50 400.8L779.75 400.8L780.00 400.8L780.25 400.8L780.50 400.8L780.75 400.8L781.00 400.8L781.25 400.8L781.50 400.8L781.75 400.8L782.00 400.8L782.25 400.8L782.50 400.8L782.75 400.8L783.00 400.8L783.25 400.8L783.50 400.8L783.75 400.8L784.00 400.8L784.25 400.8L784.50 400.8L784.75 400.9L785.00 400.9L785.25 400.9L785.50 400.9L785.75 400.9L786.00 400.9L786.25 400.9L786.50 400.9L786.75 400.9L787.00 400.9L787.25 400.9L787.50 400.9L787.75 400.9L788.00 400.9L788.25 400.9L788.50 400.9L788.75 400.9L789.00 400.9L789.25 400.9L789.50 400.9L789.75 400.9L790.00 400.9L790.25 400.9L790.50 400.9L790.75 400.9L791.00 400.9L791.25 400.9L791.50 400.9L791.75 400.9L792.00 400.9L792.25 400.9L792.50 400.9L792.75 400.9L793.00 400.9L793.25 400.9L793.50 400.9L793.75 400.9L794.00 400.9L794.25 400.9L794.50 400.9L794.75 400.9L795.00 400.9L795.25 400.9L795.50 400.9L795.75 400.9L796.00 400.9L796.25 400.9L796.50 400.9L796.75 400.9L797.00 400.9L797.25 400.9L797.50 400.9L797.75 400.9L798.00 400.9L798.25 400.9L798.50 400.9L798.75 400.9L799.00 400.9L799.25 400.9L799.50 400.9L799.75 400.9L800.00 400.9L800.25 400.9L800.50 400.9L800.75 400.9L801.00 400.9L801.25 400.9L801.50 400.9L801.75 400.9L802.00 400.9L802.25 400.9L802.50 400.9L802.75 400.9L803.00 400.9L803.25 400.9L803.50 400.9L803.75 400.9L804.00 400.9L804.25 400.9L804.50 400.9L804.75 400.9L805.00 400.9L805.25 400.9L805.50 400.9L805.75 400.9L806.00 400.9L806.25 400.9L806.50 400.9L806.75 400.9L807.00 400.9L807.25 400.9L807.50 400.9L807.75 400.9L808.00 400.9L808.25 400.9L808.50 400.9L808.75 400.9L809.00 400.9L809.25 400.9L809.50 400.9L809.75 400.9L810.00 400.9L810.25 400.9L810.50 400.9L810.75 400.9L811.00 400.9L811.25 400.9L811.50 400.9L811.75 400.9L812.00 400.9L812.25 400.9L812.50 400.9L812.75 400.9L813.00 400.9L813.25 400.9L813.50 400.9L813.75 400.9L814.00 400.9L814.25 400.9L814.50 400.9L814.75 400.9L815.00 400.9L815.25 400.9L815.50 400.9L815.75 400.9L816.00 400.9L816.25 400.9L816.50 400.9L816.75 400.9L817.00 400.9L817.25 400.9L817.50 400.9L817.75 400.9L818.00 400.9L818.25 400.9L818.50 400.9L818.75 400.9L819.00 400.9L819.25 400.9L819.50 400.9L819.75 400.9L820.00 400.9L820.25 400.9L820.50 400.9L820.75 400.9L821.00 400.9L821.25 400.9L821.50 400.9L821.75 400.9L822.00 400.9L822.25 400.9L822.50 400.9L822.75 400.9L823.00 400.9L823.25 400.9L823.50 400.9L823.75 400.9L824.00 400.9L824.25 400.9L824.50 400.9L824.75 400.9L825.00 400.9L825.25 400.9L825.50 400.9L825.75 400.9L826.00 400.9L826.25 400.9L826.50 400.9L826.75 400.9L827.00 400.9L827.25 400.9L827.50 400.9L827.75 400.9L828.00 400.9L828.25 400.9L828.50 400.9L828.75 400.9L829.00 400.9L829.25 400.9L829.50 400.9L829.75 400.9L830.00 400.9L830.25 400.9L830.50 400.9L830.75 400.9L831.00 400.9L831.25 400.9L831.50 400.9L831.75 400.9L832.00 400.9L832.25 400.8L832.50 400.8L832.75 400.8L833.00 400.8L833.25 400.8L833.50 400.8L833.75 400.8L834.00 400.8L834.25 400.8L834.50 400.8L834.75 400.8L835.00 400.8L835.25 400.8L835.50 400.8L835.75 400.8L836.00 400.8L836.25 400.8L836.50 400.8L836.75 400.8L837.00 400.8L837.25 400.8L837.50 400.8L837.75 400.8L838.00 400.8L838.25 400.8L838.50 400.8L838.75 400.8L839.00 400.8L839.25 400.8L839.50 400.8L839.75 400.8L840.00 400.8L840.25 400.8L840.50 400.8L840.75 400.8L841.00 400.8L841.25 400.8L841.50 400.8L841.75 400.8L842.00 400.8L842.25 400.7L842.50 400.7L842.75 400.7L843.00 400.7L843.25 400.7L843.50 400.7L843.75 400.7L844.00 400.7L844.25 400.7L844.50 400.7L844.75 400.7L845.00 400.7L845.25 400.6L845.50 400.6L845.75 400.6L846.00 400.6L846.25 400.6L846.50 400.6L846.75 400.5L847.00 400.5L847.25 400.5L847.50 400.5L847.75 400.4L848.00 400.4L848.25 400.4L848.50 400.3L848.75 400.3L849.00 400.2L849.25 400.2L849.50 400.1L849.75 400L850.00 400L850.25 399.9L850.50 399.7L850.75 399.6L851.00 399.5L851.25 399.3L851.50 399L851.75 398.7L852.00 398.4L852.25 397.9L852.50 397.3L852.75 396.5L853.00 395.4L853.25 393.9L853.50 391.8L853.75 388.8L854.00 384.5L854.25 379L854.50 373.8L854.70 372.1L854.75 372.2L855.00 375.4L855.25 380.7L855.50 385.4L855.75 388.8L856.00 391L856.25 392.2L856.50 392.6L856.75 392.4L857.00 391.4L857.25 389.7L857.50 387.4L857.75 385.6L858.00 385.6L858.25 387.7L858.50 390.5L858.75 393L859.00 394.8L859.25 396.2L859.50 397.1L859.75 397.8L860.00 398.4L860.25 398.8L860.50 399.1L860.75 399.3L861.00 399.5L861.25 399.7L861.50 399.8L861.75 399.9L862.00 400L862.25 400.1L862.50 400.2L862.75 400.2L863.00 400.3L863.25 400.3L863.50 400.4L863.75 400.4L864.00 400.4L864.25 400.5L864.50 400.5L864.75 400.5L865.00 400.5L865.25 400.6L865.50 400.6L865.75 400.6L866.00 400.6L866.25 400.6L866.50 400.6L866.75 400.7L867.00 400.7L867.25 400.7L867.50 400.7L867.75 400.7L868.00 400.7L868.25 400.7L868.50 400.7L868.75 400.7L869.00 400.7L869.25 400.7L869.50 400.7L869.75 400.7L870.00 400.8L870.25 400.8L870.50 400.8L870.75 400.8L871.00 400.8L871.25 400.8L871.50 400.8L871.75 400.8L872.00 400.8L872.25 400.8L872.50 400.8L872.75 400.8L873.00 400.8L873.25 400.8L873.50 400.8L873.75 400.8L874.00 400.8L874.25 400.8L874.50 400.8L874.75 400.8L875.00 400.8L875.25 400.8L875.50 400.8L875.75 400.8L876.00 400.8L876.25 400.8L876.50 400.8L876.75 400.8L877.00 400.8L877.25 400.8L877.50 400.8L877.75 400.8L878.00 400.8L878.25 400.8L878.50 400.8L878.75 400.8L879.00 400.8L879.25 400.8L879.50 400.8L879.75 400.8L880.00 400.8L880.25 400.9L880.50 400.9L880.75 400.9L881.00 400.9L881.25 400.9L881.50 400.9L881.75 400.9L882.00 400.9L882.25 400.9L882.50 400.9L882.75 400.9L883.00 400.9L883.25 400.9L883.50 400.9L883.75 400.9L884.00 400.9L884.25 400.9L884.50 400.9L884.75 400.9L885.00 400.9L885.25 400.9L885.50 400.9L885.75 400.9L886.00 400.9L886.25 400.9L886.50 400.9L886.75 400.9L887.00 400.9L887.25 400.9L887.50 400.9L887.75 400.9L888.00 400.9L888.25 400.9L888.50 400.9L888.75 400.9L889.00 400.9L889.25 400.9L889.50 400.9L889.75 400.9L890.00 400.9L890.25 400.9L890.50 400.9L890.75 400.9L891.00 400.9L891.25 400.9L891.50 400.9L891.75 400.9L892.00 400.9L892.25 400.9L892.50 400.9L892.75 400.9L893.00 400.9L893.25 400.9L893.50 400.9L893.75 400.9L894.00 400.9L894.25 400.9L894.50 400.9L894.75 400.9L895.00 400.9L895.25 400.9L895.50 400.9L895.75 400.9L896.00 400.9L896.25 400.9L896.50 400.9L896.75 400.9L897.00 400.9L897.25 400.9L897.50 400.9L897.75 400.9L898.00 400.9L898.25 400.9L898.50 400.9L898.75 400.9L899.00 400.9L899.25 400.9L899.50 400.9L899.75 400.9L900.00 400.9L900.25 400.9L900.50 400.9L900.75 400.9L901.00 400.9L901.25 400.9L901.50 400.9L901.75 400.9L902.00 400.9L902.25 400.9L902.50 400.9L902.75 400.9L903.00 400.9L903.25 400.9L903.50 400.9L903.75 400.9L904.00 400.9L904.25 400.9L904.50 400.9L904.75 400.9L905.00 400.9L905.25 400.9L905.50 400.9L905.75 400.8L906.00 400.8L906.25 400.8L906.50 400.8L906.75 400.8L907.00 400.8L907.25 400.8L907.50 400.8L907.75 400.8L908.00 400.8L908.25 400.8L908.50 400.8L908.75 400.8L909.00 400.8L909.25 400.8L909.50 400.8L909.75 400.8L910.00 400.7L910.25 400.7L910.50 400.7L910.75 400.7L911.00 400.7L911.25 400.6L911.50 400.6L911.75 400.5L912.00 400.5L912.25 400.4L912.50 400.3L912.75 400.2L913.00 400L913.25 399.8L913.50 399.7L913.75 399.5L914.00 399.5L914.02 399.5L914.25 399.5L914.50 399.6L914.75 399.8L915.00 399.9L915.25 400.1L915.50 400.2L915.75 400.2L916.00 400.3L916.25 400.3L916.50 400.3L916.75 400.3L917.00 400.3L917.25 400.2L917.50 400.2L917.75 400.1L918.00 400.1L918.25 400.1L918.50 400.2L918.75 400.3L919.00 400.4L919.25 400.5L919.50 400.5L919.75 400.6L920.00 400.6L920.25 400.7L920.50 400.7L920.75 400.7L921.00 400.7L921.25 400.8L921.50 400.8" stroke="#000" stroke-width="3.0" fill="none" stroke-linejoin="round" stroke-linecap="round"/>
<path d="M73.4 593.1L73.9 593.2L74.4 593.2L74.9 593.3L75.4 593L75.9 593.5L76.4 593.4L76.9 593.2L77.4 593.1L77.9 593.2L78.4 593.3L78.9 593L79.4 593.2L79.9 593L80.4 593.3L80.9 593.4L81.4 593.3L81.9 593L82.4 593.4L82.9 593.3L83.4 593.2L83.9 593.3L84.4 593.4L84.9 593.2L85.4 593.2L85.9 593.1L86.4 593.3L86.9 592.9L87.4 593.3L87.9 593L88.4 593.2L88.9 592.9L89.4 593L89.9 592.9L90.4 593L90.9 592.7L91.4 592.8L91.9 592.5L92.4 592.4L92.9 591.8L93.4 591.2L93.9 589.8L94.4 587.2M94.9 582.2L95.4 580.1L95.9 582.5M96.9 589.2L97.4 590.7L97.9 591.7L98.4 592L98.9 592.6L99.4 592.7L99.9 592.7L100.4 592.8L100.9 593.2L101.4 593.2L101.9 593L102.4 593.4L102.9 593.2L103.4 593.2L103.9 593.3L104.4 593.2L104.9 593.2L105.4 593.3L105.9 593.5L106.4 593.5L106.9 593.2L107.4 593.6L107.9 593.4L108.4 593.5L108.9 593.4L109.4 593.5L109.9 593.3L110.4 593.4L110.9 593.4L111.4 593.4L111.9 593.6L112.4 593.3L112.9 593.7L113.4 593.4L113.9 593.4L114.4 593.6L114.9 593.6L115.4 593.5L115.9 593.4L116.4 593.4L116.9 593.3L117.4 593.7L117.9 593.7L118.4 593.8L118.9 593.6L119.4 593.6L119.9 593.6L120.4 593.7L120.9 593.5L121.4 593.6L121.9 593.8L122.4 593.4L122.9 593.4L123.4 593.5L123.9 593.7L124.4 593.7L124.9 593.6L125.4 593.7L125.9 593.6L126.4 593.6L126.9 593.6L127.4 593.6L127.9 593.6L128.4 593.8L128.9 593.9L129.4 593.4L129.9 593.7L130.4 593.6L130.9 593.8L131.4 593.8L131.9 593.7L132.4 593.7L132.9 593.5L133.4 593.5L133.9 593.9L134.4 593.8L134.9 593.6L135.4 593.8L135.9 593.8L136.4 593.4L136.9 593.8L137.4 593.6L137.9 593.8L138.4 593.6L138.9 593.6L139.4 593.5L139.9 593.7L140.4 593.8L140.9 593.6L141.4 593.5L141.9 594L142.4 593.9L142.9 593.8L143.4 593.7L143.9 593.6L144.4 593.5L144.9 593.8L145.4 593.9L145.9 593.6L146.4 593.7L146.9 593.7L147.4 593.7L147.9 593.8L148.4 594L148.9 593.7L149.4 593.9L149.9 593.9L150.4 593.7L150.9 593.8L151.4 593.6L151.9 593.9L152.4 593.7L152.9 593.7L153.4 593.8L153.9 593.7L154.4 593.7L154.9 593.8L155.4 594L155.9 593.8L156.4 593.9L156.9 593.6L157.4 593.6L157.9 594L158.4 593.8L158.9 593.6L159.4 593.8L159.9 593.9L160.4 593.6L160.9 593.7L161.4 593.9L161.9 593.7L162.4 593.9L162.9 594L163.4 593.9L163.9 593.8L164.4 593.8L164.9 593.8L165.4 593.8L165.9 593.9L166.4 593.8L166.9 594L167.4 594.2L167.9 593.8L168.4 593.9L168.9 594L169.4 593.9L169.9 593.9L170.4 593.8L170.9 594L171.4 594L171.9 593.9L172.4 593.8L172.9 594L173.4 594L173.9 593.9L174.4 594L174.9 594.2L175.4 593.7L175.9 594L176.4 593.8L176.9 593.8L177.4 593.9L177.9 594L178.4 593.9L178.9 593.8L179.4 593.8L179.9 593.9L180.4 593.9L180.9 593.8L181.4 593.8L181.9 594.1L182.4 593.8L182.9 593.9L183.4 593.9L183.9 593.9L184.4 594L184.9 593.9L185.4 594L185.9 593.8L186.4 593.8L186.9 594.2L187.4 594L187.9 594.1L188.4 594.1L188.9 594L189.4 594L189.9 593.8L190.4 593.8L190.9 594.1L191.4 594.1L191.9 594L192.4 593.8L192.9 593.7L193.4 593.9L193.9 593.9L194.4 594L194.9 593.9L195.4 594.2L195.9 593.9L196.4 593.9L196.9 594.1L197.4 594L197.9 593.9L198.4 594.1L198.9 594.2L199.4 593.9L199.9 594L200.4 593.9L200.9 593.8L201.4 594.1L201.9 594.1L202.4 594.1L202.9 594.1L203.4 593.8L203.9 594L204.4 594L204.9 593.9L205.4 593.9L205.9 594.1L206.4 594L206.9 594.3L207.4 594.1L207.9 593.8L208.4 594.2L208.9 594.2L209.4 594.1L209.9 593.9L210.4 594.3L210.9 593.9L211.4 594.1L211.9 593.8L212.4 593.9L212.9 593.9L213.4 594.2L213.9 594.2L214.4 594L214.9 593.9L215.4 594.1L215.9 594.1L216.4 593.9L216.9 594L217.4 594.1L217.9 594.2L218.4 594.1L218.9 594.1L219.4 594L219.9 593.8L220.4 594.1L220.9 594L221.4 594.1L221.9 594.1L222.4 594.2L222.9 594L223.4 594.3L223.9 594.1L224.4 594.2L224.9 594.2L225.4 594.2L225.9 594.2L226.4 593.9L226.9 594.1L227.4 594.3L227.9 594.2L228.4 594.2L228.9 594.2L229.4 594.1L229.9 594.1L230.4 594.1L230.9 594.3L231.4 594.2L231.9 594.4L232.4 594.2L232.9 594.4L233.4 594.2L233.9 594L234.4 594.3L234.9 594.2L235.4 594.3L235.9 594.2L236.4 594.1L236.9 594.2L237.4 594L237.9 594L238.4 594L238.9 594.1L239.4 594L239.9 594.1L240.4 594.2L240.9 594.4L241.4 594.4L241.9 594.2L242.4 594.3L242.9 594.1L243.4 594.2L243.9 594.2L244.4 594.1L244.9 594.2L245.4 594L245.9 594.2L246.4 594.1L246.9 594L247.4 594.1L247.9 594.2L248.4 594.1L248.9 594.2L249.4 594.2L249.9 594.4L250.4 594L250.9 594.2L251.4 594.2L251.9 594.4L252.4 594.2L252.9 594.3L253.4 594L253.9 594.1L254.4 594.4L254.9 594.2L255.4 594.4L255.9 594.1L256.4 594.2L256.9 594L257.4 594.3L257.9 594.2L258.4 594.4L258.9 594.2L259.4 594.2L259.9 594L260.4 594.2L260.9 594.3L261.4 594.3L261.9 594.3L262.4 594.3L262.9 594.2L263.4 594.3L263.9 594.2L264.4 594L264.9 594.4L265.4 594.2L265.9 594.1L266.4 594.2L266.9 594.2L267.4 594.3L267.9 594.4L268.4 593.8L268.9 594.2L269.4 594.4L269.9 594.1L270.4 594L270.9 594.2L271.4 594.2L271.9 594.2L272.4 594L272.9 594.1L273.4 594.2L273.9 594.2L274.4 594.4L274.9 594.2L275.4 594.1L275.9 593.8L276.4 594.2L276.9 594.1L277.4 594.1L277.9 594L278.4 594.2L278.9 593.8L279.4 594.1L279.9 594L280.4 594L280.9 594.1L281.4 594L281.9 593.9L282.4 594L282.9 593.7L283.4 593.8L283.9 593.8L284.4 593.8L284.9 593.5L285.4 593.7L285.9 593.5L286.4 593.1L286.9 593L287.4 592.8L287.9 592.7L288.4 592.4L288.9 591.9L289.4 591.3L289.9 590.1L290.4 588.6L290.9 585.6M296.4 588.2L296.9 590.1L297.4 591.1L297.9 591.7L298.4 592.4L298.9 592.9L299.4 593L299.9 593.1L300.4 593.5L300.9 593.7L301.4 593.6L301.9 593.7L302.4 593.8L302.9 594.2L303.4 593.9L303.9 594L304.4 594L304.9 593.8L305.4 593.9L305.9 593.9L306.4 594.1L306.9 594.1L307.4 594.3L307.9 594.1L308.4 594.2L308.9 594.2L309.4 594.2L309.9 594.5L310.4 594.2L310.9 594.4L311.4 594.4L311.9 594.2L312.4 594.3L312.9 594.2L313.4 594.3L313.9 594.3L314.4 594.3L314.9 594.2L315.4 594.5L315.9 594.2L316.4 594.4L316.9 594.5L317.4 594.4L317.9 594.4L318.4 594.5L318.9 594.4L319.4 594.5L319.9 594.1L320.4 594.5L320.9 594.3L321.4 594.1L321.9 594.2L322.4 594.2L322.9 594.3L323.4 594.1L323.9 594.2L324.4 594.3L324.9 594.3L325.4 594.2L325.9 594.3L326.4 594.3L326.9 594.3L327.4 594.3L327.9 594.3L328.4 594.4L328.9 594.1L329.4 594.3L329.9 594.3L330.4 594.3L330.9 594.3L331.4 594.3L331.9 594.4L332.4 594.5L332.9 594.3L333.4 594.3L333.9 594.4L334.4 594.3L334.9 594.1L335.4 594.4L335.9 594.3L336.4 594.3L336.9 594.4L337.4 594.4L337.9 594.3L338.4 594.1L338.9 594.1L339.4 594.3L339.9 594.3L340.4 594.4L340.9 594.4L341.4 594.3L341.9 594.2L342.4 594.2L342.9 594.3L343.4 594.2L343.9 594.4L344.4 594.2L344.9 594.1L345.4 594.3L345.9 594.1L346.4 594.5L346.9 594.2L347.4 594.3L347.9 594.3L348.4 594.2L348.9 594.1L349.4 594.1L349.9 594.4L350.4 594.5L350.9 594.6L351.4 594.2L351.9 594.4L352.4 594.3L352.9 594.4L353.4 594.3L353.9 594.4L354.4 594.4L354.9 594.4L355.4 594.5L355.9 594.3L356.4 594.5L356.9 594.2L357.4 594.5L357.9 594L358.4 594.3L358.9 594.2L359.4 594.3L359.9 594.4L360.4 594.4L360.9 594.3L361.4 594.5L361.9 594.1L362.4 594.1L362.9 594.4L363.4 594.3L363.9 594L364.4 594.2L364.9 594.1L365.4 594.4L365.9 594.3L366.4 594.1L366.9 594.3L367.4 594L367.9 594.2L368.4 594.1L368.9 594L369.4 593.8L369.9 593.9L370.4 593.7L370.9 593.8L371.4 593.6L371.9 594L372.4 593.6L372.9 593.4L373.4 593.7L373.9 593.6L374.4 593.4L374.9 593.6L375.4 593.2L375.9 593L376.4 592.7L376.9 592.2L377.4 592.2L377.9 591.9L378.4 591.2L378.9 590.3L379.4 589.5L379.9 587.8L380.4 585.8M387.4 586L387.9 588.2L388.4 589.6L388.9 590.7L389.4 591.4L389.9 591.9L390.4 592.4L390.9 592.5L391.4 592.8L391.9 593.2L392.4 593.2L392.9 593.4L393.4 593.4L393.9 593.6L394.4 593.6L394.9 593.6L395.4 593.7L395.9 593.7L396.4 593.9L396.9 593.8L397.4 593.9L397.9 593.9L398.4 594L398.9 593.9L399.4 594.1L399.9 593.8L400.4 594L400.9 593.9L401.4 594.1L401.9 594L402.4 594.1L402.9 594L403.4 593.9L403.9 593.8L404.4 593.9L404.9 593.8L405.4 593.8L405.9 593.7L406.4 593.6L406.9 593.3L407.4 592.8L407.9 592.3L408.4 591.5L408.9 589.9M411.4 580.4L411.9 579.8M412.9 588.6L413.4 590.9L413.9 592.2L414.4 592.8L414.9 593.2L415.4 593.5L415.9 593.9L416.4 593.8L416.9 594.1L417.4 594L417.9 594L418.4 594.2L418.9 594.3L419.4 594.1L419.9 594.3L420.4 594.2L420.9 594.2L421.4 594.3L421.9 594.3L422.4 594.2L422.9 594.2L423.4 594.4L423.9 594.4L424.4 594.3L424.9 594.4L425.4 594.2L425.9 594.5L426.4 594.5L426.9 594.5L427.4 594.4L427.9 594.4L428.4 594.5L428.9 594.6L429.4 594.5L429.9 594.5L430.4 594.4L430.9 594.6L431.4 594.6L431.9 594.4L432.4 594.5L432.9 594.5L433.4 594.5L433.9 594.3L434.4 594.7L434.9 594.3L435.4 594.5L435.9 594.4L436.4 594.6L436.9 594.4L437.4 594.5L437.9 594.6L438.4 594.5L438.9 594.4L439.4 594.6L439.9 594.5L440.4 594.6L440.9 594.4L441.4 594.5L441.9 594.5L442.4 594.4L442.9 594.5L443.4 594.6L443.9 594.7L444.4 594.5L444.9 594.6L445.4 594.7L445.9 594.5L446.4 594.5L446.9 594.6L447.4 594.5L447.9 594.4L448.4 594.7L448.9 594.6L449.4 594.5L449.9 594.4L450.4 594.6L450.9 594.7L451.4 594.4L451.9 594.4L452.4 594.7L452.9 594.7L453.4 594.7L453.9 594.5L454.4 594.6L454.9 594.5L455.4 594.6L455.9 594.5L456.4 594.6L456.9 594.7L457.4 594.6L457.9 594.5L458.4 594.6L458.9 594.6L459.4 594.5L459.9 594.6L460.4 594.6L460.9 594.7L461.4 594.3L461.9 594.4L462.4 594.4L462.9 594.7L463.4 594.9L463.9 594.6L464.4 594.6L464.9 594.7L465.4 594.3L465.9 594.5L466.4 594.2L466.9 594.6L467.4 594.5L467.9 594.5L468.4 594.6L468.9 594.5L469.4 594.7L469.9 594.6L470.4 594.6L470.9 594.9L471.4 594.5L471.9 594.7L472.4 594.5L472.9 594.7L473.4 594.7L473.9 594.6L474.4 594.7L474.9 594.8L475.4 594.7L475.9 594.6L476.4 594.6L476.9 594.7L477.4 594.4L477.9 594.5L478.4 594.6L478.9 594.6L479.4 594.8L479.9 594.8L480.4 594.6L480.9 594.6L481.4 594.4L481.9 594.6L482.4 594.6L482.9 594.6L483.4 594.6L483.9 594.7L484.4 594.5L484.9 594.5L485.4 594.4L485.9 594.7L486.4 594.5L486.9 594.4L487.4 594.7L487.9 594.6L488.4 594.7L488.9 594.5L489.4 594.8L489.9 594.7L490.4 594.6L490.9 594.6L491.4 594.6L491.9 594.7L492.4 594.8L492.9 594.5L493.4 594.5L493.9 594.7L494.4 594.7L494.9 594.4L495.4 594.5L495.9 594.5L496.4 594.7L496.9 594.7L497.4 594.5L497.9 594.5L498.4 594.7L498.9 594.4L499.4 594.7L499.9 594.6L500.4 594.8L500.9 594.7L501.4 594.5L501.9 594.6L502.4 594.6L502.9 594.5L503.4 594.6L503.9 594.7L504.4 594.4L504.9 594.6L505.4 594.8L505.9 594.7L506.4 594.5L506.9 594.5L507.4 594.5L507.9 594.4L508.4 594.7L508.9 594.6L509.4 594.5L509.9 594.4L510.4 594.6L510.9 594.5L511.4 594.8L511.9 594.5L512.4 594.6L512.9 594.7L513.4 594.7L513.9 594.6L514.4 594.3L514.9 594.8L515.4 594.7L515.9 594.6L516.4 594.6L516.9 594.5L517.4 594.5L517.9 594.4L518.4 594.7L518.9 594.7L519.4 594.6L519.9 594.7L520.4 594.7L520.9 594.6L521.4 594.5L521.9 594.7L522.4 594.7L522.9 594.7L523.4 594.8L523.9 594.6L524.4 594.5L524.9 594.8L525.4 594.5L525.9 594.6L526.4 594.6L526.9 594.6L527.4 594.6L527.9 594.5L528.4 594.4L528.9 594.8L529.4 594.6L529.9 594.4L530.4 594.5L530.9 594.5L531.4 594.5L531.9 594.3L532.4 594.7L532.9 594.8L533.4 594.6L533.9 594.7L534.4 594.7L534.9 594.5L535.4 594.8L535.9 594.4L536.4 594.5L536.9 594.6L537.4 594.8L537.9 594.6L538.4 594.6L538.9 594.5L539.4 594.6L539.9 594.6L540.4 594.7L540.9 594.8L541.4 594.7L541.9 594.6L542.4 594.6L542.9 594.8L543.4 594.6L543.9 594.6L544.4 594.8L544.9 594.8L545.4 594.7L545.9 594.6L546.4 594.5L546.9 594.7L547.4 594.6L547.9 594.7L548.4 594.5L548.9 594.6L549.4 594.7L549.9 594.6L550.4 594.6L550.9 594.7L551.4 594.5L551.9 594.5L552.4 594.6L552.9 594.8L553.4 594.6L553.9 594.5L554.4 594.5L554.9 594.6L555.4 594.8L555.9 594.5L556.4 594.7L556.9 594.6L557.4 594.6L557.9 594.5L558.4 594.6L558.9 594.5L559.4 594.7L559.9 594.4L560.4 594.7L560.9 594.7L561.4 594.7L561.9 594.8L562.4 594.7L562.9 594.4L563.4 594.6L563.9 594.7L564.4 594.5L564.9 594.5L565.4 594.7L565.9 594.7L566.4 594.5L566.9 594.6L567.4 594.5L567.9 594.5L568.4 594.6L568.9 594.7L569.4 594.4L569.9 594.5L570.4 594.8L570.9 594.6L571.4 594.6L571.9 594.7L572.4 594.4L572.9 594.4L573.4 594.3L573.9 594.4L574.4 594.5L574.9 594.6L575.4 594.4L575.9 594.4L576.4 594.5L576.9 594.5L577.4 594.4L577.9 594.1L578.4 594.2L578.9 593.8L579.4 594L579.9 593.7L580.4 593.4L580.9 593.3L581.4 592.8L581.9 592.1L582.4 591.8L582.9 591.8L583.4 592L583.9 592.2L584.4 592.7L584.9 592.7L585.4 593.1L585.9 593.6L586.4 593.9L586.9 594.1L587.4 594L587.9 594.2L588.4 594.3L588.9 594.2L589.4 594.4L589.9 594.4L590.4 594.6L590.9 594.5L591.4 594.4L591.9 594.5L592.4 594.5L592.9 594.5L593.4 594.5L593.9 594.7L594.4 594.5L594.9 594.4L595.4 594.5L595.9 594.7L596.4 594.8L596.9 594.5L597.4 594.6L597.9 594.6L598.4 594.4L598.9 594.7L599.4 594.6L599.9 594.6L600.4 594.9L600.9 594.6L601.4 594.7L601.9 594.7L602.4 594.5L602.9 594.6L603.4 594.8L603.9 594.7L604.4 594.6L604.9 594.5L605.4 594.7L605.9 594.7L606.4 594.9L606.9 594.8L607.4 594.7L607.9 594.7L608.4 594.6L608.9 594.6L609.4 594.7L609.9 594.7L610.4 594.7L610.9 594.8L611.4 594.7L611.9 594.6L612.4 594.7L612.9 594.8L613.4 594.5L613.9 594.7L614.4 594.7L614.9 594.7L615.4 594.7L615.9 594.6L616.4 594.6L616.9 594.8L617.4 594.8L617.9 594.5L618.4 594.3L618.9 594.7L619.4 594.6L619.9 594.6L620.4 594.5L620.9 594.7L621.4 594.6L621.9 594.6L622.4 594.8L622.9 594.9L623.4 594.8L623.9 594.8L624.4 594.6L624.9 594.7L625.4 594.6L625.9 594.8L626.4 594.7L626.9 594.6L627.4 594.7L627.9 594.6L628.4 594.7L628.9 594.8L629.4 594.6L629.9 594.7L630.4 594.5L630.9 594.8L631.4 594.8L631.9 594.5L632.4 594.9L632.9 594.7L633.4 594.4L633.9 594.5L634.4 594.7L634.9 594.6L635.4 594.8L635.9 594.5L636.4 594.6L636.9 594.8L637.4 594.6L637.9 594.7L638.4 594.6L638.9 594.7L639.4 594.7L639.9 594.9L640.4 594.5L640.9 594.7L641.4 594.8L641.9 594.5L642.4 594.7L642.9 594.9L643.4 594.8L643.9 594.3L644.4 594.6L644.9 594.4L645.4 594.7L645.9 594.6L646.4 594.6L646.9 594.5L647.4 594.7L647.9 594.6L648.4 594.5L648.9 594.6L649.4 594.7L649.9 594.5L650.4 594.8L650.9 594.5L651.4 594.7L651.9 594.6L652.4 594.8L652.9 594.6L653.4 594.6L653.9 594.5L654.4 594.9L654.9 594.7L655.4 594.5L655.9 594.6L656.4 594.5L656.9 594.8L657.4 594.7L657.9 594.4L658.4 594.7L658.9 594.7L659.4 594.6L659.9 594.7L660.4 594.6L660.9 594.7L661.4 594.7L661.9 594.6L662.4 594.7L662.9 594.7L663.4 594.6L663.9 594.6L664.4 594.5L664.9 594.7L665.4 594.7L665.9 594.3L666.4 594.6L666.9 594.8L667.4 594.7L667.9 594.5L668.4 594.8L668.9 594.5L669.4 594.5L669.9 594.8L670.4 594.6L670.9 594.6L671.4 594.4L671.9 594.5L672.4 594.5L672.9 594.6L673.4 594.4L673.9 594.7L674.4 594.6L674.9 594.5L675.4 594.5L675.9 594.7L676.4 594.8L676.9 594.5L677.4 594.8L677.9 594.7L678.4 594.7L678.9 594.6L679.4 594.4L679.9 594.6L680.4 594.5L680.9 594.5L681.4 594.3L681.9 594.4L682.4 594.5L682.9 594.3L683.4 594.4L683.9 594.6L684.4 594.4L684.9 594.2L685.4 594.5L685.9 593.9L686.4 594L686.9 594.1L687.4 593.8L687.9 593.5L688.4 593.6L688.9 593.3L689.4 592.7L689.9 592.3L690.4 591L690.9 589.1M693.9 583.3L694.4 581.6M696.4 590.2L696.9 591.5L697.4 592.4L697.9 593.3L698.4 593.5L698.9 593.7L699.4 593.6L699.9 594L700.4 594.3L700.9 594L701.4 594L701.9 594.3L702.4 594.3L702.9 594.3L703.4 594.2L703.9 594.3L704.4 594.3L704.9 594.5L705.4 594.5L705.9 594.6L706.4 594.4L706.9 594.6L707.4 594.5L707.9 594.5L708.4 594.7L708.9 594.6L709.4 594.5L709.9 594.4L710.4 594.6L710.9 594.7L711.4 594.5L711.9 594.6L712.4 594.4L712.9 594.4L713.4 594.6L713.9 594.7L714.4 594.6L714.9 594.4L715.4 594.6L715.9 594.4L716.4 594.6L716.9 594.8L717.4 594.6L717.9 594.6L718.4 594.7L718.9 594.6L719.4 594.6L719.9 594.6L720.4 594.7L720.9 594.4L721.4 594.7L721.9 594.7L722.4 594.3L722.9 594.3L723.4 594.5L723.9 594.8L724.4 594.6L724.9 594.7L725.4 594.7L725.9 594.7L726.4 594.5L726.9 594.5L727.4 594.7L727.9 594.7L728.4 594.7L728.9 594.6L729.4 594.5L729.9 594.7L730.4 594.7L730.9 594.7L731.4 594.3L731.9 594.7L732.4 594.3L732.9 594.6L733.4 594.5L733.9 594.6L734.4 594.5L734.9 594.5L735.4 594.6L735.9 594.6L736.4 594.5L736.9 594.3L737.4 594.5L737.9 594.6L738.4 594.4L738.9 594.6L739.4 594.5L739.9 594.4L740.4 594.6L740.9 594.7L741.4 594.5L741.9 594.5L742.4 594.6L742.9 594.3L743.4 594.3L743.9 594.5L744.4 594.5L744.9 594.3L745.4 594.2L745.9 594.3L746.4 594L746.9 594.1L747.4 594L747.9 593.7L748.4 593.9L748.9 593.8L749.4 593.6L749.9 593.1L750.4 592.7L750.9 592.2L751.4 591.3L751.9 590.3L752.4 587.3M755.4 582.1L755.9 581.7M756.4 576.5L756.9 574.1M757.9 587.3L758.4 589.9L758.9 591.7L759.4 592.6L759.9 592.9L760.4 593.2L760.9 593.6L761.4 593.7L761.9 594L762.4 594L762.9 594L763.4 594.1L763.9 594.3L764.4 594.1L764.9 594.5L765.4 594.3L765.9 594.4L766.4 594.3L766.9 594.6L767.4 594.6L767.9 594.6L768.4 594.6L768.9 594.5L769.4 594.7L769.9 594.6L770.4 594.6L770.9 594.6L771.4 594.6L771.9 594.6L772.4 594.6L772.9 594.4L773.4 594.8L773.9 594.4L774.4 594.3L774.9 594.5L775.4 594.8L775.9 594.8L776.4 594.5L776.9 594.6L777.4 594.6L777.9 594.4L778.4 594.6L778.9 594.7L779.4 594.8L779.9 594.5L780.4 594.4L780.9 594.4L781.4 594.7L781.9 594.6L782.4 594.7L782.9 594.7L783.4 594.6L783.9 594.5L784.4 594.7L784.9 594.7L785.4 594.7L785.9 594.8L786.4 594.5L786.9 594.4L787.4 594.4L787.9 594.9L788.4 594.5L788.9 594.7L789.4 594.7L789.9 594.7L790.4 595L790.9 594.6L791.4 594.6L791.9 594.6L792.4 594.7L792.9 594.7L793.4 594.5L793.9 594.8L794.4 594.8L794.9 594.7L795.4 594.6L795.9 594.6L796.4 594.5L796.9 594.7L797.4 594.5L797.9 594.6L798.4 594.8L798.9 594.6L799.4 594.6L799.9 594.8L800.4 594.9L800.9 594.6L801.4 594.8L801.9 594.6L802.4 594.7L802.9 594.7L803.4 594.5L803.9 594.8L804.4 594.9L804.9 594.7L805.4 594.7L805.9 594.5L806.4 594.9L806.9 594.7L807.4 594.5L807.9 594.8L808.4 594.5L808.9 594.6L809.4 594.4L809.9 594.8L810.4 594.9L810.9 594.6L811.4 594.6L811.9 594.6L812.4 594.6L812.9 594.7L813.4 594.8L813.9 594.5L814.4 594.7L814.9 594.5L815.4 594.9L815.9 594.7L816.4 594.6L816.9 594.9L817.4 594.7L817.9 594.8L818.4 594.8L818.9 594.9L819.4 594.6L819.9 594.7L820.4 594.7L820.9 594.6L821.4 594.9L821.9 594.6L822.4 594.8L822.9 594.8L823.4 594.4L823.9 594.5L824.4 594.6L824.9 594.6L825.4 594.7L825.9 594.6L826.4 594.7L826.9 594.6L827.4 594.6L827.9 594.7L828.4 594.7L828.9 594.6L829.4 594.6L829.9 594.6L830.4 594.6L830.9 594.5L831.4 594.8L831.9 594.7L832.4 594.6L832.9 594.6L833.4 594.6L833.9 594.6L834.4 594.5L834.9 594.8L835.4 595L835.9 594.5L836.4 594.5L836.9 594.7L837.4 594.7L837.9 594.4L838.4 594.4L838.9 594.7L839.4 594.4L839.9 594.8L840.4 594.5L840.9 594.6L841.4 594.6L841.9 594.5L842.4 594.5L842.9 594.5L843.4 594.7L843.9 594.5L844.4 594.5L844.9 594.4L845.4 594.4L845.9 594.3L846.4 594.4L846.9 594.5L847.4 594.4L847.9 594.2L848.4 594.3L848.9 594.1L849.4 593.8L849.9 593.6L850.4 593.1L850.9 592.8L851.4 591.9L851.9 590.2M854.9 587.9L855.4 588.8L855.9 587.6M856.4 584.3L856.9 584.2M857.4 588.1L857.9 590.7L858.4 592.2L858.9 592.9L859.4 593.5L859.9 593.7L860.4 594.1L860.9 594L861.4 594.4L861.9 594.2L862.4 594.2L862.9 594.3L863.4 594.5L863.9 594.3L864.4 594.7L864.9 594.6L865.4 594.6L865.9 594.4L866.4 594.5L866.9 594.5L867.4 594.3L867.9 594.6L868.4 594.8L868.9 594.5L869.4 594.7L869.9 594.8L870.4 594.5L870.9 594.6L871.4 594.6L871.9 594.7L872.4 594.5L872.9 594.7L873.4 594.6L873.9 594.7L874.4 594.4L874.9 594.6L875.4 594.6L875.9 594.6L876.4 594.7L876.9 594.6L877.4 595L877.9 594.6L878.4 594.8L878.9 594.8L879.4 594.8L879.9 594.6L880.4 594.6L880.9 594.6L881.4 594.7L881.9 594.7L882.4 594.7L882.9 594.7L883.4 594.6L883.9 594.6L884.4 594.8L884.9 594.6L885.4 594.5L885.9 594.9L886.4 594.6L886.9 594.6L887.4 594.8L887.9 594.5L888.4 594.6L888.9 594.8L889.4 594.6L889.9 595L890.4 594.7L890.9 595L891.4 594.7L891.9 594.7L892.4 594.6L892.9 594.6L893.4 594.6L893.9 594.7L894.4 594.8L894.9 594.5L895.4 594.6L895.9 594.4L896.4 594.9L896.9 594.7L897.4 594.7L897.9 594.7L898.4 594.8L898.9 594.7L899.4 594.8L899.9 594.7L900.4 594.7L900.9 594.7L901.4 594.4L901.9 594.8L902.4 594.5L902.9 594.5L903.4 594.7L903.9 594.7L904.4 594.8L904.9 594.9L905.4 594.9L905.9 594.8L906.4 594.6L906.9 594.9L907.4 594.5L907.9 594.6L908.4 594.7L908.9 594.5L909.4 594.4L909.9 594.3L910.4 594.4L910.9 593.8L911.4 594.3L911.9 594.4L912.4 594.4L912.9 594.5L913.4 594.3L913.9 594.6L914.4 594.7L914.9 594.2L915.4 594.6L915.9 594.4L916.4 594.5L916.9 594.5L917.4 594.6L917.9 594.5L918.4 594.5L918.9 594.8L919.4 594.7L919.9 594.7L920.4 594.7L920.9 594.7L921.4 594.5" stroke="#f00" stroke-width="10.4" fill="none" stroke-linecap="round" stroke-linejoin="round"/>
<path d="M96.4 585.9h0M291.4 579.9h0M295.4 578.6h0M295.9 585.1h0M380.9 582.4h0M381.4 576.1h0M386.4 575.4h0M386.9 582.3h0M409.4 586.5h0M409.9 578.6h0M410.4 570.6h0M410.9 576.6h0M412.4 583.6h0M691.4 584.7h0M691.9 576.2h0M692.4 565.3h0M692.9 570.6h0M693.4 580.2h0M694.9 577.8h0M695.4 581.5h0M695.9 587h0M752.9 582.2h0M753.4 571.2h0M753.9 557.1h0M754.4 564.2h0M754.9 576.7h0M757.4 581.1h0M852.4 587.2h0M852.9 581.6h0M853.4 574.4h0M853.9 577.9h0M854.4 584.7h0M383.5 432h0M383.1 481.8h0M384.5 502.4h0M382.9 521.4h0M384.8 528.8h0M382.8 534.6h0M385 548h0M382.6 559.6h0M385.3 567h0M382.2 572h0M293.1 510h0M292.4 539h0M294.1 545h0M292.2 562.5h0M294.3 569h0M291.9 573h0M410.7 569.2h0M95.5 580h0M692.8 563.2h0M754.3 555h0M853.8 572.6h0M73.7 593.8h0M920.8 594.8h0" stroke="#f00" stroke-width="9.6" fill="none" stroke-linecap="round"/>
<path d="M73.70 593.6L73.95 593.6L74.20 593.6L74.45 593.6L74.70 593.6L74.95 593.6L75.20 593.6L75.45 593.6L75.70 593.6L75.95 593.6L76.20 593.6L76.45 593.6L76.70 593.6L76.95 593.6L77.20 593.7L77.45 593.7L77.70 593.7L77.95 593.7L78.20 593.7L78.45 593.7L78.70 593.7L78.95 593.7L79.20 593.7L79.45 593.7L79.70 593.7L79.95 593.7L80.20 593.7L80.45 593.7L80.70 593.7L80.95 593.7L81.20 593.7L81.45 593.7L81.70 593.7L81.95 593.7L82.20 593.7L82.45 593.7L82.70 593.7L82.95 593.7L83.20 593.7L83.45 593.7L83.70 593.7L83.95 593.7L84.20 593.7L84.45 593.7L84.70 593.7L84.95 593.7L85.20 593.7L85.45 593.7L85.70 593.7L85.95 593.6L86.20 593.6L86.45 593.6L86.70 593.6L86.95 593.6L87.20 593.6L87.45 593.6L87.70 593.6L87.95 593.6L88.20 593.6L88.45 593.6L88.70 593.6L88.95 593.5L89.20 593.5L89.45 593.5L89.70 593.5L89.95 593.5L90.20 593.4L90.45 593.4L90.70 593.4L90.95 593.3L91.20 593.2L91.45 593.2L91.70 593.1L91.95 593L92.20 592.9L92.45 592.7L92.70 592.5L92.95 592.3L93.20 591.9L93.45 591.5L93.70 590.9L93.95 590L94.20 588.8L94.45 587.1L94.70 584.8L94.95 582.3L95.20 580.6L95.32 580.5L95.45 580.7L95.70 581.7L95.95 583.1L96.20 584.8L96.45 586.7L96.70 588.4L96.95 589.8L97.20 590.7L97.45 591.4L97.70 591.9L97.95 592.2L98.20 592.5L98.45 592.7L98.70 592.9L98.95 593L99.20 593.1L99.45 593.2L99.70 593.3L99.95 593.4L100.20 593.4L100.45 593.5L100.70 593.5L100.95 593.5L101.20 593.6L101.45 593.6L101.70 593.6L101.95 593.6L102.20 593.7L102.45 593.7L102.70 593.7L102.95 593.7L103.20 593.7L103.45 593.7L103.70 593.8L103.95 593.8L104.20 593.8L104.45 593.8L104.70 593.8L104.95 593.8L105.20 593.8L105.45 593.8L105.70 593.8L105.95 593.8L106.20 593.8L106.45 593.8L106.70 593.8L106.95 593.9L107.20 593.9L107.45 593.9L107.70 593.9L107.95 593.9L108.20 593.9L108.45 593.9L108.70 593.9L108.95 593.9L109.20 593.9L109.45 593.9L109.70 593.9L109.95 593.9L110.20 593.9L110.45 593.9L110.70 593.9L110.95 593.9L111.20 593.9L111.45 593.9L111.70 593.9L111.95 593.9L112.20 593.9L112.45 593.9L112.70 593.9L112.95 593.9L113.20 593.9L113.45 593.9L113.70 594L113.95 594L114.20 594L114.45 594L114.70 594L114.95 594L115.20 594L115.45 594L115.70 594L115.95 594L116.20 594L116.45 594L116.70 594L116.95 594L117.20 594L117.45 594L117.70 594L117.95 594L118.20 594L118.45 594L118.70 594L118.95 594L119.20 594L119.45 594L119.70 594L119.95 594L120.20 594L120.45 594L120.70 594L120.95 594L121.20 594L121.45 594L121.70 594L121.95 594L122.20 594L122.45 594L122.70 594L122.95 594L123.20 594L123.45 594L123.70 594L123.95 594L124.20 594L124.45 594L124.70 594L124.95 594L125.20 594.1L125.45 594.1L125.70 594.1L125.95 594.1L126.20 594.1L126.45 594.1L126.70 594.1L126.95 594.1L127.20 594.1L127.45 594.1L127.70 594.1L127.95 594.1L128.20 594.1L128.45 594.1L128.70 594.1L128.95 594.1L129.20 594.1L129.45 594.1L129.70 594.1L129.95 594.1L130.20 594.1L130.45 594.1L130.70 594.1L130.95 594.1L131.20 594.1L131.45 594.1L131.70 594.1L131.95 594.1L132.20 594.1L132.45 594.1L132.70 594.1L132.95 594.1L133.20 594.1L133.45 594.1L133.70 594.1L133.95 594.1L134.20 594.1L134.45 594.1L134.70 594.1L134.95 594.1L135.20 594.1L135.45 594.1L135.70 594.1L135.95 594.1L136.20 594.1L136.45 594.1L136.70 594.1L136.95 594.1L137.20 594.1L137.45 594.1L137.70 594.1L137.95 594.1L138.20 594.1L138.45 594.1L138.70 594.1L138.95 594.1L139.20 594.1L139.45 594.2L139.70 594.2L139.95 594.2L140.20 594.2L140.45 594.2L140.70 594.2L140.95 594.2L141.20 594.2L141.45 594.2L141.70 594.2L141.95 594.2L142.20 594.2L142.45 594.2L142.70 594.2L142.95 594.2L143.20 594.2L143.45 594.2L143.70 594.2L143.95 594.2L144.20 594.2L144.45 594.2L144.70 594.2L144.95 594.2L145.20 594.2L145.45 594.2L145.70 594.2L145.95 594.2L146.20 594.2L146.45 594.2L146.70 594.2L146.95 594.2L147.20 594.2L147.45 594.2L147.70 594.2L147.95 594.2L148.20 594.2L148.45 594.2L148.70 594.2L148.95 594.2L149.20 594.2L149.45 594.2L149.70 594.2L149.95 594.2L150.20 594.2L150.45 594.2L150.70 594.2L150.95 594.2L151.20 594.2L151.45 594.2L151.70 594.2L151.95 594.2L152.20 594.2L152.45 594.2L152.70 594.2L152.95 594.2L153.20 594.2L153.45 594.2L153.70 594.2L153.95 594.2L154.20 594.2L154.45 594.2L154.70 594.2L154.95 594.2L155.20 594.2L155.45 594.3L155.70 594.3L155.95 594.3L156.20 594.3L156.45 594.3L156.70 594.3L156.95 594.3L157.20 594.3L157.45 594.3L157.70 594.3L157.95 594.3L158.20 594.3L158.45 594.3L158.70 594.3L158.95 594.3L159.20 594.3L159.45 594.3L159.70 594.3L159.95 594.3L160.20 594.3L160.45 594.3L160.70 594.3L160.95 594.3L161.20 594.3L161.45 594.3L161.70 594.3L161.95 594.3L162.20 594.3L162.45 594.3L162.70 594.3L162.95 594.3L163.20 594.3L163.45 594.3L163.70 594.3L163.95 594.3L164.20 594.3L164.45 594.3L164.70 594.3L164.95 594.3L165.20 594.3L165.45 594.3L165.70 594.3L165.95 594.3L166.20 594.3L166.45 594.3L166.70 594.3L166.95 594.3L167.20 594.3L167.45 594.3L167.70 594.3L167.95 594.3L168.20 594.3L168.45 594.3L168.70 594.3L168.95 594.3L169.20 594.3L169.45 594.3L169.70 594.3L169.95 594.3L170.20 594.3L170.45 594.3L170.70 594.3L170.95 594.3L171.20 594.3L171.45 594.3L171.70 594.3L171.95 594.3L172.20 594.3L172.45 594.3L172.70 594.3L172.95 594.3L173.20 594.3L173.45 594.3L173.70 594.3L173.95 594.3L174.20 594.3L174.45 594.4L174.70 594.4L174.95 594.4L175.20 594.4L175.45 594.4L175.70 594.4L175.95 594.4L176.20 594.4L176.45 594.4L176.70 594.4L176.95 594.4L177.20 594.4L177.45 594.4L177.70 594.4L177.95 594.4L178.20 594.4L178.45 594.4L178.70 594.4L178.95 594.4L179.20 594.4L179.45 594.4L179.70 594.4L179.95 594.4L180.20 594.4L180.45 594.4L180.70 594.4L180.95 594.4L181.20 594.4L181.45 594.4L181.70 594.4L181.95 594.4L182.20 594.4L182.45 594.4L182.70 594.4L182.95 594.4L183.20 594.4L183.45 594.4L183.70 594.4L183.95 594.4L184.20 594.4L184.45 594.4L184.70 594.4L184.95 594.4L185.20 594.4L185.45 594.4L185.70 594.4L185.95 594.4L186.20 594.4L186.45 594.4L186.70 594.4L186.95 594.4L187.20 594.4L187.45 594.4L187.70 594.4L187.95 594.4L188.20 594.4L188.45 594.4L188.70 594.4L188.95 594.4L189.20 594.4L189.45 594.4L189.70 594.4L189.95 594.4L190.20 594.4L190.45 594.4L190.70 594.4L190.95 594.4L191.20 594.4L191.45 594.4L191.70 594.4L191.95 594.4L192.20 594.4L192.45 594.4L192.70 594.4L192.95 594.4L193.20 594.4L193.45 594.4L193.70 594.4L193.95 594.4L194.20 594.4L194.45 594.4L194.70 594.4L194.95 594.4L195.20 594.4L195.45 594.4L195.70 594.5L195.95 594.5L196.20 594.5L196.45 594.5L196.70 594.5L196.95 594.5L197.20 594.5L197.45 594.5L197.70 594.5L197.95 594.5L198.20 594.5L198.45 594.5L198.70 594.5L198.95 594.5L199.20 594.5L199.45 594.5L199.70 594.5L199.95 594.5L200.20 594.5L200.45 594.5L200.70 594.5L200.95 594.5L201.20 594.5L201.45 594.5L201.70 594.5L201.95 594.5L202.20 594.5L202.45 594.5L202.70 594.5L202.95 594.5L203.20 594.5L203.45 594.5L203.70 594.5L203.95 594.5L204.20 594.5L204.45 594.5L204.70 594.5L204.95 594.5L205.20 594.5L205.45 594.5L205.70 594.5L205.95 594.5L206.20 594.5L206.45 594.5L206.70 594.5L206.95 594.5L207.20 594.5L207.45 594.5L207.70 594.5L207.95 594.5L208.20 594.5L208.45 594.5L208.70 594.5L208.95 594.5L209.20 594.5L209.45 594.5L209.70 594.5L209.95 594.5L210.20 594.5L210.45 594.5L210.70 594.5L210.95 594.5L211.20 594.5L211.45 594.5L211.70 594.5L211.95 594.5L212.20 594.5L212.45 594.5L212.70 594.5L212.95 594.5L213.20 594.5L213.45 594.5L213.70 594.5L213.95 594.5L214.20 594.5L214.45 594.5L214.70 594.5L214.95 594.5L215.20 594.5L215.45 594.5L215.70 594.5L215.95 594.5L216.20 594.5L216.45 594.5L216.70 594.5L216.95 594.5L217.20 594.5L217.45 594.5L217.70 594.5L217.95 594.5L218.20 594.5L218.45 594.5L218.70 594.5L218.95 594.5L219.20 594.5L219.45 594.5L219.70 594.5L219.95 594.5L220.20 594.5L220.45 594.6L220.70 594.6L220.95 594.6L221.20 594.6L221.45 594.6L221.70 594.6L221.95 594.6L222.20 594.6L222.45 594.6L222.70 594.6L222.95 594.6L223.20 594.6L223.45 594.6L223.70 594.6L223.95 594.6L224.20 594.6L224.45 594.6L224.70 594.6L224.95 594.6L225.20 594.6L225.45 594.6L225.70 594.6L225.95 594.6L226.20 594.6L226.45 594.6L226.70 594.6L226.95 594.6L227.20 594.6L227.45 594.6L227.70 594.6L227.95 594.6L228.20 594.6L228.45 594.6L228.70 594.6L228.95 594.6L229.20 594.6L229.45 594.6L229.70 594.6L229.95 594.6L230.20 594.6L230.45 594.6L230.70 594.6L230.95 594.6L231.20 594.6L231.45 594.6L231.70 594.6L231.95 594.6L232.20 594.6L232.45 594.6L232.70 594.6L232.95 594.6L233.20 594.6L233.45 594.6L233.70 594.6L233.95 594.6L234.20 594.6L234.45 594.6L234.70 594.6L234.95 594.6L235.20 594.6L235.45 594.6L235.70 594.6L235.95 594.6L236.20 594.6L236.45 594.6L236.70 594.6L236.95 594.6L237.20 594.6L237.45 594.6L237.70 594.6L237.95 594.6L238.20 594.6L238.45 594.6L238.70 594.6L238.95 594.6L239.20 594.6L239.45 594.6L239.70 594.6L239.95 594.6L240.20 594.6L240.45 594.6L240.70 594.6L240.95 594.6L241.20 594.6L241.45 594.6L241.70 594.6L241.95 594.6L242.20 594.6L242.45 594.6L242.70 594.6L242.95 594.6L243.20 594.6L243.45 594.6L243.70 594.6L243.95 594.6L244.20 594.6L244.45 594.6L244.70 594.6L244.95 594.6L245.20 594.6L245.45 594.6L245.70 594.6L245.95 594.6L246.20 594.6L246.45 594.6L246.70 594.6L246.95 594.6L247.20 594.6L247.45 594.6L247.70 594.6L247.95 594.6L248.20 594.6L248.45 594.6L248.70 594.6L248.95 594.6L249.20 594.6L249.45 594.6L249.70 594.6L249.95 594.6L250.20 594.6L250.45 594.6L250.70 594.6L250.95 594.6L251.20 594.6L251.45 594.6L251.70 594.6L251.95 594.6L252.20 594.6L252.45 594.6L252.70 594.6L252.95 594.6L253.20 594.6L253.45 594.6L253.70 594.6L253.95 594.6L254.20 594.6L254.45 594.6L254.70 594.6L254.95 594.6L255.20 594.6L255.45 594.6L255.70 594.6L255.95 594.6L256.20 594.6L256.45 594.6L256.70 594.6L256.95 594.6L257.20 594.6L257.45 594.6L257.70 594.6L257.95 594.6L258.20 594.6L258.45 594.6L258.70 594.6L258.95 594.6L259.20 594.6L259.45 594.6L259.70 594.6L259.95 594.6L260.20 594.6L260.45 594.6L260.70 594.6L260.95 594.6L261.20 594.6L261.45 594.6L261.70 594.6L261.95 594.6L262.20 594.6L262.45 594.6L262.70 594.6L262.95 594.6L263.20 594.6L263.45 594.6L263.70 594.6L263.95 594.6L264.20 594.6L264.45 594.6L264.70 594.6L264.95 594.6L265.20 594.6L265.45 594.6L265.70 594.6L265.95 594.6L266.20 594.6L266.45 594.6L266.70 594.6L266.95 594.6L267.20 594.6L267.45 594.6L267.70 594.6L267.95 594.6L268.20 594.6L268.45 594.6L268.70 594.6L268.95 594.6L269.20 594.6L269.45 594.6L269.70 594.6L269.95 594.6L270.20 594.6L270.45 594.6L270.70 594.6L270.95 594.6L271.20 594.6L271.45 594.6L271.70 594.6L271.95 594.6L272.20 594.6L272.45 594.6L272.70 594.6L272.95 594.6L273.20 594.6L273.45 594.6L273.70 594.6L273.95 594.6L274.20 594.6L274.45 594.6L274.70 594.6L274.95 594.6L275.20 594.6L275.45 594.6L275.70 594.6L275.95 594.6L276.20 594.6L276.45 594.6L276.70 594.6L276.95 594.6L277.20 594.6L277.45 594.5L277.70 594.5L277.95 594.5L278.20 594.5L278.45 594.5L278.70 594.5L278.95 594.5L279.20 594.5L279.45 594.5L279.70 594.5L279.95 594.5L280.20 594.5L280.45 594.5L280.70 594.4L280.95 594.4L281.20 594.4L281.45 594.4L281.70 594.4L281.95 594.4L282.20 594.4L282.45 594.4L282.70 594.3L282.95 594.3L283.20 594.3L283.45 594.3L283.70 594.2L283.95 594.2L284.20 594.2L284.45 594.2L284.70 594.1L284.95 594.1L285.20 594L285.45 594L285.70 593.9L285.95 593.9L286.20 593.8L286.45 593.8L286.70 593.7L286.95 593.6L287.20 593.5L287.45 593.4L287.70 593.3L287.95 593.1L288.20 592.9L288.45 592.8L288.70 592.5L288.95 592.2L289.20 591.9L289.45 591.5L289.70 591L289.95 590.4L290.20 589.7L290.45 588.7L290.70 587.4L290.95 585.6L291.20 583.1L291.45 579.4L291.70 573.9L291.95 565.2L292.20 551.5L292.45 532L292.70 514.1L292.82 511.5L292.95 514.9L293.20 531.1L293.45 545.4L293.70 551.8L293.95 551L294.20 546.5L294.45 546.5L294.70 555.3L294.95 566.1L295.20 574.4L295.45 580L295.70 583.6L295.95 586.1L296.20 587.8L296.45 589L296.70 590L296.95 590.7L297.20 591.3L297.45 591.7L297.70 592.1L297.95 592.4L298.20 592.7L298.45 592.9L298.70 593.1L298.95 593.2L299.20 593.4L299.45 593.5L299.70 593.6L299.95 593.7L300.20 593.8L300.45 593.8L300.70 593.9L300.95 594L301.20 594L301.45 594.1L301.70 594.1L301.95 594.1L302.20 594.2L302.45 594.2L302.70 594.3L302.95 594.3L303.20 594.3L303.45 594.3L303.70 594.4L303.95 594.4L304.20 594.4L304.45 594.4L304.70 594.4L304.95 594.4L305.20 594.5L305.45 594.5L305.70 594.5L305.95 594.5L306.20 594.5L306.45 594.5L306.70 594.5L306.95 594.5L307.20 594.6L307.45 594.6L307.70 594.6L307.95 594.6L308.20 594.6L308.45 594.6L308.70 594.6L308.95 594.6L309.20 594.6L309.45 594.6L309.70 594.6L309.95 594.6L310.20 594.6L310.45 594.6L310.70 594.7L310.95 594.7L311.20 594.7L311.45 594.7L311.70 594.7L311.95 594.7L312.20 594.7L312.45 594.7L312.70 594.7L312.95 594.7L313.20 594.7L313.45 594.7L313.70 594.7L313.95 594.7L314.20 594.7L314.45 594.7L314.70 594.7L314.95 594.7L315.20 594.7L315.45 594.7L315.70 594.7L315.95 594.7L316.20 594.7L316.45 594.7L316.70 594.7L316.95 594.7L317.20 594.7L317.45 594.7L317.70 594.7L317.95 594.7L318.20 594.7L318.45 594.8L318.70 594.8L318.95 594.8L319.20 594.8L319.45 594.8L319.70 594.8L319.95 594.8L320.20 594.8L320.45 594.8L320.70 594.8L320.95 594.8L321.20 594.8L321.45 594.8L321.70 594.8L321.95 594.8L322.20 594.8L322.45 594.8L322.70 594.8L322.95 594.8L323.20 594.8L323.45 594.8L323.70 594.8L323.95 594.8L324.20 594.8L324.45 594.8L324.70 594.8L324.95 594.8L325.20 594.8L325.45 594.8L325.70 594.8L325.95 594.8L326.20 594.8L326.45 594.8L326.70 594.8L326.95 594.8L327.20 594.8L327.45 594.8L327.70 594.8L327.95 594.8L328.20 594.8L328.45 594.8L328.70 594.8L328.95 594.8L329.20 594.8L329.45 594.8L329.70 594.8L329.95 594.8L330.20 594.8L330.45 594.8L330.70 594.8L330.95 594.8L331.20 594.8L331.45 594.8L331.70 594.8L331.95 594.8L332.20 594.8L332.45 594.8L332.70 594.8L332.95 594.8L333.20 594.8L333.45 594.8L333.70 594.8L333.95 594.8L334.20 594.8L334.45 594.8L334.70 594.8L334.95 594.8L335.20 594.8L335.45 594.8L335.70 594.8L335.95 594.8L336.20 594.8L336.45 594.8L336.70 594.8L336.95 594.8L337.20 594.8L337.45 594.8L337.70 594.8L337.95 594.8L338.20 594.8L338.45 594.8L338.70 594.8L338.95 594.8L339.20 594.8L339.45 594.8L339.70 594.8L339.95 594.8L340.20 594.8L340.45 594.8L340.70 594.8L340.95 594.8L341.20 594.8L341.45 594.8L341.70 594.8L341.95 594.8L342.20 594.8L342.45 594.8L342.70 594.8L342.95 594.8L343.20 594.8L343.45 594.8L343.70 594.8L343.95 594.8L344.20 594.8L344.45 594.8L344.70 594.8L344.95 594.8L345.20 594.8L345.45 594.8L345.70 594.8L345.95 594.8L346.20 594.8L346.45 594.8L346.70 594.8L346.95 594.8L347.20 594.8L347.45 594.8L347.70 594.8L347.95 594.8L348.20 594.8L348.45 594.8L348.70 594.8L348.95 594.8L349.20 594.8L349.45 594.8L349.70 594.8L349.95 594.8L350.20 594.8L350.45 594.8L350.70 594.8L350.95 594.8L351.20 594.8L351.45 594.8L351.70 594.8L351.95 594.8L352.20 594.8L352.45 594.8L352.70 594.8L352.95 594.8L353.20 594.8L353.45 594.8L353.70 594.8L353.95 594.8L354.20 594.8L354.45 594.8L354.70 594.8L354.95 594.8L355.20 594.8L355.45 594.8L355.70 594.8L355.95 594.8L356.20 594.8L356.45 594.8L356.70 594.8L356.95 594.8L357.20 594.8L357.45 594.8L357.70 594.8L357.95 594.8L358.20 594.8L358.45 594.8L358.70 594.7L358.95 594.7L359.20 594.7L359.45 594.7L359.70 594.7L359.95 594.7L360.20 594.7L360.45 594.7L360.70 594.7L360.95 594.7L361.20 594.7L361.45 594.7L361.70 594.7L361.95 594.7L362.20 594.7L362.45 594.7L362.70 594.7L362.95 594.7L363.20 594.7L363.45 594.7L363.70 594.7L363.95 594.7L364.20 594.7L364.45 594.7L364.70 594.7L364.95 594.6L365.20 594.6L365.45 594.6L365.70 594.6L365.95 594.6L366.20 594.6L366.45 594.6L366.70 594.6L366.95 594.6L367.20 594.6L367.45 594.6L367.70 594.6L367.95 594.5L368.20 594.5L368.45 594.5L368.70 594.5L368.95 594.5L369.20 594.5L369.45 594.5L369.70 594.5L369.95 594.4L370.20 594.4L370.45 594.4L370.70 594.4L370.95 594.4L371.20 594.3L371.45 594.3L371.70 594.3L371.95 594.3L372.20 594.2L372.45 594.2L372.70 594.2L372.95 594.1L373.20 594.1L373.45 594.1L373.70 594L373.95 594L374.20 593.9L374.45 593.9L374.70 593.8L374.95 593.7L375.20 593.7L375.45 593.6L375.70 593.5L375.95 593.4L376.20 593.3L376.45 593.2L376.70 593.1L376.95 592.9L377.20 592.8L377.45 592.6L377.70 592.4L377.95 592.2L378.20 591.9L378.45 591.6L378.70 591.3L378.95 590.9L379.20 590.4L379.45 589.9L379.70 589.2L379.95 588.4L380.20 587.4L380.45 586.1L380.70 584.5L380.95 582.4L381.20 579.5L381.45 575.6L381.70 570.1L381.95 561.8L382.20 549.1L382.45 529L382.70 497.8L382.95 458.1L383.20 435.2L383.22 435.2L383.45 453.7L383.70 488.3L383.95 512.7L384.20 522.9L384.45 521.1L384.70 510.6L384.95 503L385.20 512.7L385.45 533.2L385.70 551.2L385.95 563.5L386.20 571.6L386.45 576.9L386.70 580.7L386.95 583.3L387.20 585.3L387.45 586.8L387.70 587.9L387.95 588.9L388.20 589.6L388.45 590.2L388.70 590.7L388.95 591.2L389.20 591.5L389.45 591.9L389.70 592.1L389.95 592.4L390.20 592.6L390.45 592.7L390.70 592.9L390.95 593L391.20 593.2L391.45 593.3L391.70 593.4L391.95 593.5L392.20 593.6L392.45 593.7L392.70 593.7L392.95 593.8L393.20 593.8L393.45 593.9L393.70 593.9L393.95 594L394.20 594L394.45 594.1L394.70 594.1L394.95 594.1L395.20 594.2L395.45 594.2L395.70 594.2L395.95 594.3L396.20 594.3L396.45 594.3L396.70 594.3L396.95 594.3L397.20 594.4L397.45 594.4L397.70 594.4L397.95 594.4L398.20 594.4L398.45 594.4L398.70 594.4L398.95 594.4L399.20 594.5L399.45 594.5L399.70 594.5L399.95 594.5L400.20 594.5L400.45 594.5L400.70 594.5L400.95 594.5L401.20 594.5L401.45 594.5L401.70 594.5L401.95 594.5L402.20 594.5L402.45 594.5L402.70 594.5L402.95 594.5L403.20 594.4L403.45 594.4L403.70 594.4L403.95 594.4L404.20 594.4L404.45 594.4L404.70 594.3L404.95 594.3L405.20 594.3L405.45 594.2L405.70 594.2L405.95 594.1L406.20 594L406.45 594L406.70 593.9L406.95 593.7L407.20 593.6L407.45 593.4L407.70 593.2L407.95 592.9L408.20 592.5L408.45 591.9L408.70 591.2L408.95 590.2L409.20 588.7L409.45 586.5L409.70 583.2L409.95 578.5L410.20 573.6L410.42 571.6L410.45 571.6L410.70 574.2L410.95 578.1L411.20 580.7L411.45 581.4L411.70 580.9L411.95 580.6L412.20 582.1L412.45 584.9L412.70 587.5L412.95 589.4L413.20 590.7L413.45 591.6L413.70 592.3L413.95 592.7L414.20 593.1L414.45 593.4L414.70 593.6L414.95 593.8L415.20 593.9L415.45 594L415.70 594.1L415.95 594.2L416.20 594.3L416.45 594.3L416.70 594.4L416.95 594.4L417.20 594.5L417.45 594.5L417.70 594.5L417.95 594.6L418.20 594.6L418.45 594.6L418.70 594.6L418.95 594.6L419.20 594.7L419.45 594.7L419.70 594.7L419.95 594.7L420.20 594.7L420.45 594.7L420.70 594.7L420.95 594.7L421.20 594.8L421.45 594.8L421.70 594.8L421.95 594.8L422.20 594.8L422.45 594.8L422.70 594.8L422.95 594.8L423.20 594.8L423.45 594.8L423.70 594.8L423.95 594.8L424.20 594.8L424.45 594.8L424.70 594.8L424.95 594.8L425.20 594.8L425.45 594.9L425.70 594.9L425.95 594.9L426.20 594.9L426.45 594.9L426.70 594.9L426.95 594.9L427.20 594.9L427.45 594.9L427.70 594.9L427.95 594.9L428.20 594.9L428.45 594.9L428.70 594.9L428.95 594.9L429.20 594.9L429.45 594.9L429.70 594.9L429.95 594.9L430.20 594.9L430.45 594.9L430.70 594.9L430.95 594.9L431.20 594.9L431.45 594.9L431.70 594.9L431.95 594.9L432.20 594.9L432.45 594.9L432.70 594.9L432.95 594.9L433.20 594.9L433.45 594.9L433.70 594.9L433.95 594.9L434.20 594.9L434.45 594.9L434.70 594.9L434.95 594.9L435.20 594.9L435.45 594.9L435.70 594.9L435.95 594.9L436.20 594.9L436.45 594.9L436.70 594.9L436.95 594.9L437.20 594.9L437.45 594.9L437.70 594.9L437.95 594.9L438.20 594.9L438.45 594.9L438.70 594.9L438.95 594.9L439.20 594.9L439.45 594.9L439.70 594.9L439.95 595L440.20 595L440.45 595L440.70 595L440.95 595L441.20 595L441.45 595L441.70 595L441.95 595L442.20 595L442.45 595L442.70 595L442.95 595L443.20 595L443.45 595L443.70 595L443.95 595L444.20 595L444.45 595L444.70 595L444.95 595L445.20 595L445.45 595L445.70 595L445.95 595L446.20 595L446.45 595L446.70 595L446.95 595L447.20 595L447.45 595L447.70 595L447.95 595L448.20 595L448.45 595L448.70 595L448.95 595L449.20 595L449.45 595L449.70 595L449.95 595L450.20 595L450.45 595L450.70 595L450.95 595L451.20 595L451.45 595L451.70 595L451.95 595L452.20 595L452.45 595L452.70 595L452.95 595L453.20 595L453.45 595L453.70 595L453.95 595L454.20 595L454.45 595L454.70 595L454.95 595L455.20 595L455.45 595L455.70 595L455.95 595L456.20 595L456.45 595L456.70 595L456.95 595L457.20 595L457.45 595L457.70 595L457.95 595L458.20 595L458.45 595L458.70 595L458.95 595L459.20 595L459.45 595L459.70 595L459.95 595L460.20 595L460.45 595L460.70 595L460.95 595L461.20 595L461.45 595L461.70 595L461.95 595L462.20 595L462.45 595L462.70 595L462.95 595L463.20 595L463.45 595L463.70 595L463.95 595L464.20 595L464.45 595L464.70 595L464.95 595L465.20 595L465.45 595L465.70 595L465.95 595L466.20 595L466.45 595L466.70 595L466.95 595L467.20 595L467.45 595L467.70 595L467.95 595L468.20 595L468.45 595L468.70 595L468.95 595L469.20 595L469.45 595L469.70 595L469.95 595L470.20 595L470.45 595L470.70 595L470.95 595L471.20 595L471.45 595L471.70 595L471.95 595L472.20 595L472.45 595L472.70 595L472.95 595L473.20 595L473.45 595L473.70 595L473.95 595L474.20 595L474.45 595L474.70 595L474.95 595L475.20 595L475.45 595L475.70 595L475.95 595L476.20 595L476.45 595L476.70 595L476.95 595L477.20 595L477.45 595L477.70 595L477.95 595L478.20 595L478.45 595L478.70 595L478.95 595L479.20 595L479.45 595L479.70 595L479.95 595L480.20 595L480.45 595L480.70 595L480.95 595L481.20 595L481.45 595L481.70 595L481.95 595L482.20 595L482.45 595L482.70 595L482.95 595L483.20 595L483.45 595L483.70 595L483.95 595L484.20 595L484.45 595L484.70 595L484.95 595L485.20 595L485.45 595L485.70 595L485.95 595L486.20 595L486.45 595L486.70 595L486.95 595L487.20 595L487.45 595L487.70 595L487.95 595L488.20 595L488.45 595L488.70 595L488.95 595L489.20 595L489.45 595L489.70 595L489.95 595L490.20 595L490.45 595L490.70 595L490.95 595L491.20 595L491.45 595L491.70 595L491.95 595L492.20 595L492.45 595L492.70 595L492.95 595L493.20 595L493.45 595L493.70 595L493.95 595L494.20 595L494.45 595L494.70 595L494.95 595L495.20 595L495.45 595L495.70 595L495.95 595L496.20 595L496.45 595L496.70 595L496.95 595L497.20 595L497.45 595L497.70 595L497.95 595L498.20 595L498.45 595L498.70 595L498.95 595L499.20 595L499.45 595L499.70 595L499.95 595L500.20 595L500.45 595L500.70 595L500.95 595L501.20 595L501.45 595L501.70 595L501.95 595L502.20 595L502.45 595L502.70 595L502.95 595L503.20 595L503.45 595L503.70 595L503.95 595L504.20 595L504.45 595L504.70 595L504.95 595L505.20 595L505.45 595L505.70 595L505.95 595L506.20 595L506.45 595L506.70 595L506.95 595L507.20 595.1L507.45 595.1L507.70 595.1L507.95 595.1L508.20 595.1L508.45 595.1L508.70 595.1L508.95 595.1L509.20 595.1L509.45 595.1L509.70 595.1L509.95 595.1L510.20 595.1L510.45 595.1L510.70 595.1L510.95 595.1L511.20 595.1L511.45 595.1L511.70 595.1L511.95 595.1L512.20 595.1L512.45 595.1L512.70 595.1L512.95 595.1L513.20 595.1L513.45 595.1L513.70 595.1L513.95 595.1L514.20 595.1L514.45 595.1L514.70 595.1L514.95 595.1L515.20 595.1L515.45 595.1L515.70 595.1L515.95 595.1L516.20 595.1L516.45 595.1L516.70 595.1L516.95 595.1L517.20 595.1L517.45 595.1L517.70 595.1L517.95 595.1L518.20 595.1L518.45 595.1L518.70 595.1L518.95 595.1L519.20 595.1L519.45 595.1L519.70 595.1L519.95 595.1L520.20 595.1L520.45 595.1L520.70 595.1L520.95 595.1L521.20 595.1L521.45 595.1L521.70 595.1L521.95 595.1L522.20 595.1L522.45 595.1L522.70 595.1L522.95 595.1L523.20 595.1L523.45 595.1L523.70 595.1L523.95 595.1L524.20 595.1L524.45 595.1L524.70 595.1L524.95 595.1L525.20 595.1L525.45 595.1L525.70 595.1L525.95 595.1L526.20 595.1L526.45 595.1L526.70 595.1L526.95 595.1L527.20 595.1L527.45 595.1L527.70 595.1L527.95 595.1L528.20 595.1L528.45 595.1L528.70 595.1L528.95 595.1L529.20 595.1L529.45 595.1L529.70 595.1L529.95 595.1L530.20 595.1L530.45 595.1L530.70 595.1L530.95 595.1L531.20 595.1L531.45 595.1L531.70 595.1L531.95 595.1L532.20 595.1L532.45 595.1L532.70 595.1L532.95 595.1L533.20 595.1L533.45 595.1L533.70 595.1L533.95 595.1L534.20 595.1L534.45 595.1L534.70 595.1L534.95 595.1L535.20 595.1L535.45 595.1L535.70 595.1L535.95 595.1L536.20 595.1L536.45 595.1L536.70 595.1L536.95 595.1L537.20 595.1L537.45 595.1L537.70 595.1L537.95 595.1L538.20 595.1L538.45 595.1L538.70 595.1L538.95 595.1L539.20 595.1L539.45 595.1L539.70 595.1L539.95 595.1L540.20 595.1L540.45 595.1L540.70 595.1L540.95 595.1L541.20 595.1L541.45 595.1L541.70 595.1L541.95 595.1L542.20 595.1L542.45 595.1L542.70 595.1L542.95 595.1L543.20 595.1L543.45 595.1L543.70 595.1L543.95 595.1L544.20 595.1L544.45 595.1L544.70 595.1L544.95 595.1L545.20 595.1L545.45 595.1L545.70 595.1L545.95 595.1L546.20 595.1L546.45 595.1L546.70 595.1L546.95 595.1L547.20 595.1L547.45 595.1L547.70 595.1L547.95 595.1L548.20 595.1L548.45 595.1L548.70 595.1L548.95 595.1L549.20 595.1L549.45 595.1L549.70 595.1L549.95 595.1L550.20 595.1L550.45 595.1L550.70 595.1L550.95 595.1L551.20 595.1L551.45 595.1L551.70 595.1L551.95 595.1L552.20 595.1L552.45 595.1L552.70 595.1L552.95 595.1L553.20 595.1L553.45 595.1L553.70 595.1L553.95 595.1L554.20 595.1L554.45 595.1L554.70 595.1L554.95 595.1L555.20 595.1L555.45 595.1L555.70 595.1L555.95 595.1L556.20 595.1L556.45 595.1L556.70 595.1L556.95 595.1L557.20 595.1L557.45 595.1L557.70 595.1L557.95 595.1L558.20 595.1L558.45 595.1L558.70 595.1L558.95 595.1L559.20 595.1L559.45 595.1L559.70 595.1L559.95 595.1L560.20 595.1L560.45 595.1L560.70 595.1L560.95 595.1L561.20 595.1L561.45 595.1L561.70 595.1L561.95 595.1L562.20 595.1L562.45 595.1L562.70 595.1L562.95 595.1L563.20 595.1L563.45 595.1L563.70 595.1L563.95 595.1L564.20 595.1L564.45 595.1L564.70 595.1L564.95 595.1L565.20 595.1L565.45 595.1L565.70 595.1L565.95 595.1L566.20 595.1L566.45 595.1L566.70 595.1L566.95 595.1L567.20 595.1L567.45 595.1L567.70 595.1L567.95 595.1L568.20 595L568.45 595L568.70 595L568.95 595L569.20 595L569.45 595L569.70 595L569.95 595L570.20 595L570.45 595L570.70 595L570.95 595L571.20 595L571.45 595L571.70 595L571.95 595L572.20 595L572.45 595L572.70 595L572.95 595L573.20 595L573.45 595L573.70 595L573.95 595L574.20 595L574.45 595L574.70 595L574.95 595L575.20 595L575.45 595L575.70 595L575.95 594.9L576.20 594.9L576.45 594.9L576.70 594.9L576.95 594.9L577.20 594.9L577.45 594.9L577.70 594.8L577.95 594.8L578.20 594.8L578.45 594.8L578.70 594.7L578.95 594.7L579.20 594.6L579.45 594.6L579.70 594.5L579.95 594.4L580.20 594.3L580.45 594.2L580.70 594.1L580.95 593.9L581.20 593.7L581.45 593.5L581.70 593.3L581.95 593.1L582.20 593L582.45 592.9L582.58 592.9L582.70 592.9L582.95 592.9L583.20 593L583.45 593.1L583.70 593.2L583.95 593.3L584.20 593.4L584.45 593.5L584.70 593.6L584.95 593.8L585.20 593.9L585.45 594L585.70 594.2L585.95 594.3L586.20 594.4L586.45 594.5L586.70 594.6L586.95 594.6L587.20 594.7L587.45 594.7L587.70 594.7L587.95 594.8L588.20 594.8L588.45 594.8L588.70 594.9L588.95 594.9L589.20 594.9L589.45 594.9L589.70 594.9L589.95 594.9L590.20 594.9L590.45 595L590.70 595L590.95 595L591.20 595L591.45 595L591.70 595L591.95 595L592.20 595L592.45 595L592.70 595L592.95 595L593.20 595L593.45 595L593.70 595L593.95 595L594.20 595L594.45 595L594.70 595L594.95 595L595.20 595L595.45 595L595.70 595L595.95 595L596.20 595.1L596.45 595.1L596.70 595.1L596.95 595.1L597.20 595.1L597.45 595.1L597.70 595.1L597.95 595.1L598.20 595.1L598.45 595.1L598.70 595.1L598.95 595.1L599.20 595.1L599.45 595.1L599.70 595.1L599.95 595.1L600.20 595.1L600.45 595.1L600.70 595.1L600.95 595.1L601.20 595.1L601.45 595.1L601.70 595.1L601.95 595.1L602.20 595.1L602.45 595.1L602.70 595.1L602.95 595.1L603.20 595.1L603.45 595.1L603.70 595.1L603.95 595.1L604.20 595.1L604.45 595.1L604.70 595.1L604.95 595.1L605.20 595.1L605.45 595.1L605.70 595.1L605.95 595.1L606.20 595.1L606.45 595.1L606.70 595.1L606.95 595.1L607.20 595.1L607.45 595.1L607.70 595.1L607.95 595.1L608.20 595.1L608.45 595.1L608.70 595.1L608.95 595.1L609.20 595.1L609.45 595.1L609.70 595.1L609.95 595.1L610.20 595.1L610.45 595.1L610.70 595.1L610.95 595.1L611.20 595.1L611.45 595.1L611.70 595.1L611.95 595.1L612.20 595.1L612.45 595.1L612.70 595.1L612.95 595.1L613.20 595.1L613.45 595.1L613.70 595.1L613.95 595.1L614.20 595.1L614.45 595.1L614.70 595.1L614.95 595.1L615.20 595.1L615.45 595.1L615.70 595.1L615.95 595.1L616.20 595.1L616.45 595.1L616.70 595.1L616.95 595.1L617.20 595.1L617.45 595.1L617.70 595.1L617.95 595.1L618.20 595.1L618.45 595.1L618.70 595.1L618.95 595.1L619.20 595.1L619.45 595.1L619.70 595.1L619.95 595.1L620.20 595.1L620.45 595.1L620.70 595.1L620.95 595.1L621.20 595.1L621.45 595.1L621.70 595.1L621.95 595.1L622.20 595.1L622.45 595.1L622.70 595.1L622.95 595.1L623.20 595.1L623.45 595.1L623.70 595.1L623.95 595.1L624.20 595.1L624.45 595.1L624.70 595.1L624.95 595.1L625.20 595.1L625.45 595.1L625.70 595.1L625.95 595.1L626.20 595.1L626.45 595.1L626.70 595.1L626.95 595.1L627.20 595.1L627.45 595.1L627.70 595.1L627.95 595.1L628.20 595.1L628.45 595.1L628.70 595.1L628.95 595.1L629.20 595.1L629.45 595.1L629.70 595.1L629.95 595.1L630.20 595.1L630.45 595.1L630.70 595.1L630.95 595.1L631.20 595.1L631.45 595.1L631.70 595.1L631.95 595.1L632.20 595.1L632.45 595.1L632.70 595.1L632.95 595.1L633.20 595.1L633.45 595.1L633.70 595.1L633.95 595.1L634.20 595.1L634.45 595.1L634.70 595.1L634.95 595.1L635.20 595.1L635.45 595.1L635.70 595.1L635.95 595.1L636.20 595.1L636.45 595.1L636.70 595.1L636.95 595.1L637.20 595.1L637.45 595.1L637.70 595.1L637.95 595.1L638.20 595.1L638.45 595.1L638.70 595.1L638.95 595.1L639.20 595.1L639.45 595.1L639.70 595.1L639.95 595.1L640.20 595.1L640.45 595.1L640.70 595.1L640.95 595.1L641.20 595.1L641.45 595.1L641.70 595.1L641.95 595.1L642.20 595.1L642.45 595.1L642.70 595.1L642.95 595.1L643.20 595.1L643.45 595.1L643.70 595.1L643.95 595.1L644.20 595.1L644.45 595.1L644.70 595.1L644.95 595.1L645.20 595.1L645.45 595.1L645.70 595.1L645.95 595.1L646.20 595.1L646.45 595.1L646.70 595.1L646.95 595.1L647.20 595.1L647.45 595.1L647.70 595.1L647.95 595.1L648.20 595.1L648.45 595.1L648.70 595.1L648.95 595.1L649.20 595.1L649.45 595.1L649.70 595.1L649.95 595.1L650.20 595.1L650.45 595.1L650.70 595.1L650.95 595.1L651.20 595.1L651.45 595.1L651.70 595.1L651.95 595.1L652.20 595.1L652.45 595.1L652.70 595.1L652.95 595.1L653.20 595.1L653.45 595.1L653.70 595.1L653.95 595.1L654.20 595.1L654.45 595.1L654.70 595.1L654.95 595.1L655.20 595.1L655.45 595.1L655.70 595.1L655.95 595.1L656.20 595.1L656.45 595.1L656.70 595.1L656.95 595.1L657.20 595.1L657.45 595.1L657.70 595.1L657.95 595.1L658.20 595.1L658.45 595.1L658.70 595.1L658.95 595.1L659.20 595.1L659.45 595.1L659.70 595.1L659.95 595.1L660.20 595.1L660.45 595.1L660.70 595.1L660.95 595.1L661.20 595.1L661.45 595.1L661.70 595.1L661.95 595.1L662.20 595.1L662.45 595.1L662.70 595.1L662.95 595.1L663.20 595.1L663.45 595.1L663.70 595.1L663.95 595.1L664.20 595.1L664.45 595.1L664.70 595.1L664.95 595.1L665.20 595.1L665.45 595.1L665.70 595.1L665.95 595.1L666.20 595.1L666.45 595.1L666.70 595.1L666.95 595.1L667.20 595.1L667.45 595.1L667.70 595.1L667.95 595.1L668.20 595.1L668.45 595.1L668.70 595.1L668.95 595.1L669.20 595.1L669.45 595.1L669.70 595.1L669.95 595.1L670.20 595.1L670.45 595.1L670.70 595.1L670.95 595.1L671.20 595.1L671.45 595.1L671.70 595.1L671.95 595.1L672.20 595.1L672.45 595.1L672.70 595.1L672.95 595.1L673.20 595.1L673.45 595.1L673.70 595L673.95 595L674.20 595L674.45 595L674.70 595L674.95 595L675.20 595L675.45 595L675.70 595L675.95 595L676.20 595L676.45 595L676.70 595L676.95 595L677.20 595L677.45 595L677.70 595L677.95 595L678.20 595L678.45 595L678.70 595L678.95 595L679.20 595L679.45 595L679.70 595L679.95 595L680.20 595L680.45 595L680.70 595L680.95 594.9L681.20 594.9L681.45 594.9L681.70 594.9L681.95 594.9L682.20 594.9L682.45 594.9L682.70 594.9L682.95 594.9L683.20 594.9L683.45 594.9L683.70 594.8L683.95 594.8L684.20 594.8L684.45 594.8L684.70 594.8L684.95 594.7L685.20 594.7L685.45 594.7L685.70 594.7L685.95 594.6L686.20 594.6L686.45 594.6L686.70 594.5L686.95 594.5L687.20 594.4L687.45 594.3L687.70 594.3L687.95 594.2L688.20 594.1L688.45 594L688.70 593.8L688.95 593.6L689.20 593.4L689.45 593.2L689.70 592.9L689.95 592.5L690.20 592L690.45 591.3L690.70 590.4L690.95 589.1L691.20 587.3L691.45 584.7L691.70 580.8L691.95 575.4L692.20 569.1L692.45 565.1L692.50 564.9L692.70 566.6L692.95 572L693.20 577.4L693.45 581.1L693.70 583.1L693.95 583.8L694.20 583.3L694.45 581.7L694.70 579.5L694.95 578.2L695.20 579.5L695.45 582.5L695.70 585.5L695.95 587.9L696.20 589.6L696.45 590.8L696.70 591.7L696.95 592.3L697.20 592.8L697.45 593.1L697.70 593.4L697.95 593.6L698.20 593.8L698.45 593.9L698.70 594.1L698.95 594.2L699.20 594.3L699.45 594.3L699.70 594.4L699.95 594.5L700.20 594.5L700.45 594.6L700.70 594.6L700.95 594.6L701.20 594.7L701.45 594.7L701.70 594.7L701.95 594.7L702.20 594.8L702.45 594.8L702.70 594.8L702.95 594.8L703.20 594.8L703.45 594.8L703.70 594.9L703.95 594.9L704.20 594.9L704.45 594.9L704.70 594.9L704.95 594.9L705.20 594.9L705.45 594.9L705.70 594.9L705.95 594.9L706.20 595L706.45 595L706.70 595L706.95 595L707.20 595L707.45 595L707.70 595L707.95 595L708.20 595L708.45 595L708.70 595L708.95 595L709.20 595L709.45 595L709.70 595L709.95 595L710.20 595L710.45 595L710.70 595L710.95 595L711.20 595L711.45 595L711.70 595L711.95 595L712.20 595L712.45 595L712.70 595L712.95 595L713.20 595L713.45 595L713.70 595L713.95 595L714.20 595L714.45 595L714.70 595L714.95 595L715.20 595L715.45 595L715.70 595.1L715.95 595.1L716.20 595.1L716.45 595.1L716.70 595.1L716.95 595.1L717.20 595.1L717.45 595.1L717.70 595.1L717.95 595.1L718.20 595.1L718.45 595.1L718.70 595.1L718.95 595.1L719.20 595.1L719.45 595.1L719.70 595.1L719.95 595.1L720.20 595.1L720.45 595.1L720.70 595.1L720.95 595.1L721.20 595.1L721.45 595.1L721.70 595.1L721.95 595.1L722.20 595.1L722.45 595.1L722.70 595.1L722.95 595.1L723.20 595.1L723.45 595.1L723.70 595.1L723.95 595.1L724.20 595.1L724.45 595.1L724.70 595.1L724.95 595.1L725.20 595.1L725.45 595.1L725.70 595.1L725.95 595.1L726.20 595.1L726.45 595.1L726.70 595.1L726.95 595.1L727.20 595.1L727.45 595.1L727.70 595.1L727.95 595.1L728.20 595.1L728.45 595.1L728.70 595.1L728.95 595.1L729.20 595.1L729.45 595.1L729.70 595.1L729.95 595.1L730.20 595.1L730.45 595.1L730.70 595.1L730.95 595.1L731.20 595L731.45 595L731.70 595L731.95 595L732.20 595L732.45 595L732.70 595L732.95 595L733.20 595L733.45 595L733.70 595L733.95 595L734.20 595L734.45 595L734.70 595L734.95 595L735.20 595L735.45 595L735.70 595L735.95 595L736.20 595L736.45 595L736.70 595L736.95 595L737.20 595L737.45 595L737.70 595L737.95 595L738.20 595L738.45 595L738.70 595L738.95 595L739.20 595L739.45 595L739.70 595L739.95 595L740.20 595L740.45 595L740.70 595L740.95 594.9L741.20 594.9L741.45 594.9L741.70 594.9L741.95 594.9L742.20 594.9L742.45 594.9L742.70 594.9L742.95 594.9L743.20 594.9L743.45 594.9L743.70 594.9L743.95 594.8L744.20 594.8L744.45 594.8L744.70 594.8L744.95 594.8L745.20 594.8L745.45 594.7L745.70 594.7L745.95 594.7L746.20 594.7L746.45 594.6L746.70 594.6L746.95 594.6L747.20 594.5L747.45 594.5L747.70 594.5L747.95 594.4L748.20 594.4L748.45 594.3L748.70 594.2L748.95 594.1L749.20 594L749.45 593.9L749.70 593.8L749.95 593.6L750.20 593.5L750.45 593.2L750.70 593L750.95 592.7L751.20 592.3L751.45 591.8L751.70 591.1L751.95 590.2L752.20 589.1L752.45 587.4L752.70 585.1L752.95 581.8L753.20 576.8L753.45 569.9L753.70 561.8L753.95 556.6L754.00 556.4L754.20 558.7L754.45 565.8L754.70 572.9L754.95 577.9L755.20 581L755.45 582.5L755.70 582.7L755.95 581.7L756.20 579.4L756.45 576.3L756.70 574.1L756.95 574.9L757.20 578.3L757.45 582.3L757.70 585.6L757.95 587.9L758.20 589.5L758.45 590.6L758.70 591.5L758.95 592.1L759.20 592.6L759.45 592.9L759.70 593.2L759.95 593.4L760.20 593.6L760.45 593.8L760.70 593.9L760.95 594.1L761.20 594.1L761.45 594.2L761.70 594.3L761.95 594.4L762.20 594.4L762.45 594.5L762.70 594.5L762.95 594.6L763.20 594.6L763.45 594.6L763.70 594.7L763.95 594.7L764.20 594.7L764.45 594.7L764.70 594.8L764.95 594.8L765.20 594.8L765.45 594.8L765.70 594.8L765.95 594.8L766.20 594.9L766.45 594.9L766.70 594.9L766.95 594.9L767.20 594.9L767.45 594.9L767.70 594.9L767.95 594.9L768.20 594.9L768.45 594.9L768.70 595L768.95 595L769.20 595L769.45 595L769.70 595L769.95 595L770.20 595L770.45 595L770.70 595L770.95 595L771.20 595L771.45 595L771.70 595L771.95 595L772.20 595L772.45 595L772.70 595L772.95 595L773.20 595L773.45 595L773.70 595L773.95 595L774.20 595L774.45 595L774.70 595L774.95 595L775.20 595.1L775.45 595.1L775.70 595.1L775.95 595.1L776.20 595.1L776.45 595.1L776.70 595.1L776.95 595.1L777.20 595.1L777.45 595.1L777.70 595.1L777.95 595.1L778.20 595.1L778.45 595.1L778.70 595.1L778.95 595.1L779.20 595.1L779.45 595.1L779.70 595.1L779.95 595.1L780.20 595.1L780.45 595.1L780.70 595.1L780.95 595.1L781.20 595.1L781.45 595.1L781.70 595.1L781.95 595.1L782.20 595.1L782.45 595.1L782.70 595.1L782.95 595.1L783.20 595.1L783.45 595.1L783.70 595.1L783.95 595.1L784.20 595.1L784.45 595.1L784.70 595.1L784.95 595.1L785.20 595.1L785.45 595.1L785.70 595.1L785.95 595.1L786.20 595.1L786.45 595.1L786.70 595.1L786.95 595.1L787.20 595.1L787.45 595.1L787.70 595.1L787.95 595.1L788.20 595.1L788.45 595.1L788.70 595.1L788.95 595.1L789.20 595.1L789.45 595.1L789.70 595.1L789.95 595.1L790.20 595.1L790.45 595.1L790.70 595.1L790.95 595.1L791.20 595.1L791.45 595.1L791.70 595.1L791.95 595.1L792.20 595.1L792.45 595.1L792.70 595.1L792.95 595.1L793.20 595.1L793.45 595.1L793.70 595.1L793.95 595.1L794.20 595.1L794.45 595.1L794.70 595.1L794.95 595.1L795.20 595.1L795.45 595.1L795.70 595.1L795.95 595.1L796.20 595.1L796.45 595.1L796.70 595.1L796.95 595.1L797.20 595.1L797.45 595.1L797.70 595.1L797.95 595.1L798.20 595.1L798.45 595.1L798.70 595.1L798.95 595.1L799.20 595.1L799.45 595.1L799.70 595.1L799.95 595.1L800.20 595.1L800.45 595.1L800.70 595.1L800.95 595.1L801.20 595.1L801.45 595.1L801.70 595.1L801.95 595.1L802.20 595.1L802.45 595.1L802.70 595.1L802.95 595.1L803.20 595.1L803.45 595.1L803.70 595.1L803.95 595.1L804.20 595.1L804.45 595.1L804.70 595.1L804.95 595.1L805.20 595.1L805.45 595.1L805.70 595.1L805.95 595.1L806.20 595.1L806.45 595.1L806.70 595.1L806.95 595.1L807.20 595.1L807.45 595.1L807.70 595.1L807.95 595.1L808.20 595.1L808.45 595.1L808.70 595.1L808.95 595.1L809.20 595.1L809.45 595.1L809.70 595.1L809.95 595.1L810.20 595.1L810.45 595.1L810.70 595.1L810.95 595.1L811.20 595.1L811.45 595.1L811.70 595.1L811.95 595.1L812.20 595.1L812.45 595.1L812.70 595.1L812.95 595.1L813.20 595.1L813.45 595.1L813.70 595.1L813.95 595.1L814.20 595.1L814.45 595.1L814.70 595.1L814.95 595.1L815.20 595.1L815.45 595.1L815.70 595.1L815.95 595.1L816.20 595.1L816.45 595.1L816.70 595.1L816.95 595.1L817.20 595.1L817.45 595.1L817.70 595.1L817.95 595.1L818.20 595.1L818.45 595.1L818.70 595.1L818.95 595.1L819.20 595.1L819.45 595.1L819.70 595.1L819.95 595.1L820.20 595.1L820.45 595.1L820.70 595.1L820.95 595.1L821.20 595.1L821.45 595.1L821.70 595.1L821.95 595.1L822.20 595.1L822.45 595.1L822.70 595.1L822.95 595.1L823.20 595.1L823.45 595.1L823.70 595.1L823.95 595.1L824.20 595.1L824.45 595.1L824.70 595.1L824.95 595.1L825.20 595.1L825.45 595.1L825.70 595.1L825.95 595.1L826.20 595.1L826.45 595.1L826.70 595.1L826.95 595.1L827.20 595.1L827.45 595.1L827.70 595.1L827.95 595.1L828.20 595.1L828.45 595.1L828.70 595.1L828.95 595.1L829.20 595.1L829.45 595.1L829.70 595.1L829.95 595.1L830.20 595.1L830.45 595.1L830.70 595.1L830.95 595.1L831.20 595.1L831.45 595.1L831.70 595.1L831.95 595.1L832.20 595.1L832.45 595.1L832.70 595.1L832.95 595.1L833.20 595.1L833.45 595.1L833.70 595.1L833.95 595.1L834.20 595.1L834.45 595.1L834.70 595.1L834.95 595.1L835.20 595.1L835.45 595.1L835.70 595.1L835.95 595.1L836.20 595.1L836.45 595.1L836.70 595.1L836.95 595.1L837.20 595.1L837.45 595.1L837.70 595.1L837.95 595.1L838.20 595.1L838.45 595.1L838.70 595.1L838.95 595.1L839.20 595L839.45 595L839.70 595L839.95 595L840.20 595L840.45 595L840.70 595L840.95 595L841.20 595L841.45 595L841.70 595L841.95 595L842.20 595L842.45 595L842.70 595L842.95 595L843.20 595L843.45 595L843.70 595L843.95 595L844.20 594.9L844.45 594.9L844.70 594.9L844.95 594.9L845.20 594.9L845.45 594.9L845.70 594.9L845.95 594.8L846.20 594.8L846.45 594.8L846.70 594.8L846.95 594.8L847.20 594.7L847.45 594.7L847.70 594.7L847.95 594.6L848.20 594.6L848.45 594.5L848.70 594.5L848.95 594.4L849.20 594.3L849.45 594.2L849.70 594.1L849.95 594L850.20 593.8L850.45 593.6L850.70 593.4L850.95 593.1L851.20 592.7L851.45 592.2L851.70 591.5L851.95 590.5L852.20 589.2L852.45 587.2L852.70 584.4L852.95 580.7L853.20 576.6L853.45 574L853.50 573.9L853.70 575.1L853.95 578.7L854.20 582.5L854.45 585.4L854.70 587.3L854.95 588.4L855.20 589L855.45 589L855.70 588.5L855.95 587.4L856.20 585.9L856.45 584.3L856.70 583.7L856.95 584.7L857.20 586.6L857.45 588.6L857.70 590.2L857.95 591.3L858.20 592.1L858.45 592.7L858.70 593.1L858.95 593.4L859.20 593.7L859.45 593.9L859.70 594.1L859.95 594.2L860.20 594.3L860.45 594.4L860.70 594.5L860.95 594.5L861.20 594.6L861.45 594.6L861.70 594.7L861.95 594.7L862.20 594.7L862.45 594.8L862.70 594.8L862.95 594.8L863.20 594.8L863.45 594.8L863.70 594.9L863.95 594.9L864.20 594.9L864.45 594.9L864.70 594.9L864.95 594.9L865.20 594.9L865.45 595L865.70 595L865.95 595L866.20 595L866.45 595L866.70 595L866.95 595L867.20 595L867.45 595L867.70 595L867.95 595L868.20 595L868.45 595L868.70 595L868.95 595L869.20 595L869.45 595L869.70 595L869.95 595L870.20 595.1L870.45 595.1L870.70 595.1L870.95 595.1L871.20 595.1L871.45 595.1L871.70 595.1L871.95 595.1L872.20 595.1L872.45 595.1L872.70 595.1L872.95 595.1L873.20 595.1L873.45 595.1L873.70 595.1L873.95 595.1L874.20 595.1L874.45 595.1L874.70 595.1L874.95 595.1L875.20 595.1L875.45 595.1L875.70 595.1L875.95 595.1L876.20 595.1L876.45 595.1L876.70 595.1L876.95 595.1L877.20 595.1L877.45 595.1L877.70 595.1L877.95 595.1L878.20 595.1L878.45 595.1L878.70 595.1L878.95 595.1L879.20 595.1L879.45 595.1L879.70 595.1L879.95 595.1L880.20 595.1L880.45 595.1L880.70 595.1L880.95 595.1L881.20 595.1L881.45 595.1L881.70 595.1L881.95 595.1L882.20 595.1L882.45 595.1L882.70 595.1L882.95 595.1L883.20 595.1L883.45 595.1L883.70 595.1L883.95 595.1L884.20 595.1L884.45 595.1L884.70 595.1L884.95 595.1L885.20 595.1L885.45 595.1L885.70 595.1L885.95 595.1L886.20 595.1L886.45 595.1L886.70 595.1L886.95 595.1L887.20 595.1L887.45 595.1L887.70 595.1L887.95 595.1L888.20 595.1L888.45 595.1L888.70 595.1L888.95 595.1L889.20 595.1L889.45 595.1L889.70 595.1L889.95 595.1L890.20 595.1L890.45 595.1L890.70 595.1L890.95 595.1L891.20 595.1L891.45 595.1L891.70 595.1L891.95 595.1L892.20 595.1L892.45 595.1L892.70 595.1L892.95 595.1L893.20 595.1L893.45 595.1L893.70 595.1L893.95 595.1L894.20 595.1L894.45 595.1L894.70 595.1L894.95 595.1L895.20 595.1L895.45 595.1L895.70 595.1L895.95 595.1L896.20 595.1L896.45 595.1L896.70 595.1L896.95 595.1L897.20 595.1L897.45 595.1L897.70 595.1L897.95 595.1L898.20 595.1L898.45 595.1L898.70 595.1L898.95 595.1L899.20 595.1L899.45 595.1L899.70 595.1L899.95 595.1L900.20 595.1L900.45 595.1L900.70 595.1L900.95 595.1L901.20 595.1L901.45 595.1L901.70 595.1L901.95 595.1L902.20 595.1L902.45 595.1L902.70 595.1L902.95 595.1L903.20 595.1L903.45 595.1L903.70 595.1L903.95 595.1L904.20 595.1L904.45 595.1L904.70 595.1L904.95 595.1L905.20 595.1L905.45 595.1L905.70 595.1L905.95 595.1L906.20 595.1L906.45 595.1L906.70 595.1L906.95 595.1L907.20 595.1L907.45 595L907.70 595L907.95 595L908.20 595L908.45 595L908.70 595L908.95 594.9L909.20 594.9L909.45 594.8L909.70 594.8L909.95 594.7L910.20 594.6L910.45 594.5L910.70 594.5L910.95 594.4L911.02 594.4L911.20 594.4L911.45 594.5L911.70 594.6L911.95 594.6L912.20 594.7L912.45 594.8L912.70 594.8L912.95 594.8L913.20 594.8L913.45 594.8L913.70 594.8L913.95 594.8L914.20 594.8L914.45 594.8L914.70 594.8L914.95 594.7L915.20 594.8L915.45 594.8L915.70 594.8L915.95 594.9L916.20 594.9L916.45 595L916.70 595L916.95 595L917.20 595L917.45 595L917.70 595.1L917.95 595.1L918.20 595.1L918.45 595.1L918.70 595.1L918.95 595.1L919.20 595.1L919.45 595.1L919.70 595.1L919.95 595.1L920.20 595.1L920.45 595.1L920.70 595.1L920.95 595.1L921.20 595.1L921.45 595.1" stroke="#000" stroke-width="3.0" fill="none" stroke-linejoin="round" stroke-linecap="round"/>
<g style="will-change:opacity">
<text transform="translate(73.90 654.3) scale(0.945 1)" text-anchor="middle" font-family="Liberation Sans, sans-serif" font-size="30.6" font-weight="bold" stroke="#000" stroke-width="0.45">20</text>
<text transform="translate(215.37 654.3) scale(0.945 1)" text-anchor="middle" font-family="Liberation Sans, sans-serif" font-size="30.6" font-weight="bold" stroke="#000" stroke-width="0.45">30</text>
<text transform="translate(356.83 654.3) scale(0.945 1)" text-anchor="middle" font-family="Liberation Sans, sans-serif" font-size="30.6" font-weight="bold" stroke="#000" stroke-width="0.45">40</text>
<text transform="translate(498.30 654.3) scale(0.945 1)" text-anchor="middle" font-family="Liberation Sans, sans-serif" font-size="30.6" font-weight="bold" stroke="#000" stroke-width="0.45">50</text>
<text transform="translate(639.77 654.3) scale(0.945 1)" text-anchor="middle" font-family="Liberation Sans, sans-serif" font-size="30.6" font-weight="bold" stroke="#000" stroke-width="0.45">60</text>
<text transform="translate(781.23 654.3) scale(0.945 1)" text-anchor="middle" font-family="Liberation Sans, sans-serif" font-size="30.6" font-weight="bold" stroke="#000" stroke-width="0.45">70</text>
<text transform="translate(922.70 654.3) scale(0.945 1)" text-anchor="middle" font-family="Liberation Sans, sans-serif" font-size="30.6" font-weight="bold" stroke="#000" stroke-width="0.45">80</text>
<text transform="translate(428.97 701.80) scale(1.0417 1)" font-family="Liberation Sans, sans-serif" font-size="33.8" font-weight="bold" stroke="#000" stroke-width="0.45">2</text>
<text transform="translate(451.14 702.00) scale(0.9568 1)" font-family="Liberation Serif, serif" font-size="41.0" font-style="italic">Θ</text>
<text transform="translate(482.40 702.20) scale(0.9910 1)" font-family="Liberation Sans, sans-serif" font-size="34.4" font-weight="bold" stroke="#000" stroke-width="0.45">(deg.)</text>
<text transform="translate(32.80 425.69) rotate(-90) scale(0.9592 1)" font-family="Liberation Sans, sans-serif" font-size="35.3" font-weight="bold" stroke="#000" stroke-width="0.45">Intensity (a.u.)</text>
<text transform="translate(92.48 50.80) scale(0.9215 1)" font-family="Liberation Sans, sans-serif" font-size="26.4" stroke="#fff" stroke-width="0.45">(a)</text>
<text transform="translate(91.09 258.50) scale(0.9767 1)" font-family="Liberation Sans, sans-serif" font-size="26.4" stroke="#fff" stroke-width="0.45">(b)</text>
<text transform="translate(91.66 464.60) scale(0.9360 1)" font-family="Liberation Sans, sans-serif" font-size="26.4" stroke="#fff" stroke-width="0.45">(c)</text>
<text transform="translate(522.63 72.80) scale(1.0375 1)" font-family="Liberation Sans, sans-serif" font-size="42.4" font-weight="bold" stroke="#000" stroke-width="0.45">Ho</text><text transform="translate(580.78 88.00) scale(0.9479 1)" font-family="Liberation Sans, sans-serif" font-size="29.5" font-weight="bold" stroke="#000" stroke-width="0.45">0.25</text><text transform="translate(636.82 72.80) scale(0.9724 1)" font-family="Liberation Sans, sans-serif" font-size="42.4" font-weight="bold" stroke="#000" stroke-width="0.45">Er</text><text transform="translate(683.12 88.00) scale(0.9136 1)" font-family="Liberation Sans, sans-serif" font-size="29.5" font-weight="bold" stroke="#000" stroke-width="0.45">0.75</text><text transform="translate(736.74 72.80) scale(0.9981 1)" font-family="Liberation Sans, sans-serif" font-size="42.4" font-weight="bold" stroke="#000" stroke-width="0.45">Ni</text><text transform="translate(778.46 88.00) scale(0.9110 1)" font-family="Liberation Sans, sans-serif" font-size="29.5" font-weight="bold" stroke="#000" stroke-width="0.45">2</text>
<text transform="translate(526.61 291.60) scale(1.0452 1)" font-family="Liberation Sans, sans-serif" font-size="42.4" font-weight="bold" stroke="#000" stroke-width="0.45">Ho</text><text transform="translate(585.59 306.80) scale(0.9407 1)" font-family="Liberation Sans, sans-serif" font-size="29.5" font-weight="bold" stroke="#000" stroke-width="0.45">0.5</text><text transform="translate(624.20 291.60) scale(0.9797 1)" font-family="Liberation Sans, sans-serif" font-size="42.4" font-weight="bold" stroke="#000" stroke-width="0.45">Er</text><text transform="translate(670.00 306.80) scale(0.9330 1)" font-family="Liberation Sans, sans-serif" font-size="29.5" font-weight="bold" stroke="#000" stroke-width="0.45">0.5</text><text transform="translate(709.55 291.60) scale(0.9954 1)" font-family="Liberation Sans, sans-serif" font-size="42.4" font-weight="bold" stroke="#000" stroke-width="0.45">Ni</text><text transform="translate(750.05 306.80) scale(0.9181 1)" font-family="Liberation Sans, sans-serif" font-size="29.5" font-weight="bold" stroke="#000" stroke-width="0.45">2</text>
<text transform="translate(510.23 481.90) scale(1.0375 1)" font-family="Liberation Sans, sans-serif" font-size="42.4" font-weight="bold" stroke="#000" stroke-width="0.45">Ho</text><text transform="translate(568.38 497.10) scale(0.9479 1)" font-family="Liberation Sans, sans-serif" font-size="29.5" font-weight="bold" stroke="#000" stroke-width="0.45">0.75</text><text transform="translate(624.42 481.90) scale(0.9724 1)" font-family="Liberation Sans, sans-serif" font-size="42.4" font-weight="bold" stroke="#000" stroke-width="0.45">Er</text><text transform="translate(670.72 497.10) scale(0.9136 1)" font-family="Liberation Sans, sans-serif" font-size="29.5" font-weight="bold" stroke="#000" stroke-width="0.45">0.25</text><text transform="translate(724.34 481.90) scale(0.9981 1)" font-family="Liberation Sans, sans-serif" font-size="42.4" font-weight="bold" stroke="#000" stroke-width="0.45">Ni</text><text transform="translate(766.06 497.10) scale(0.9110 1)" font-family="Liberation Sans, sans-serif" font-size="29.5" font-weight="bold" stroke="#000" stroke-width="0.45">2</text>
<text transform="translate(592.48 118.00) scale(1.0898 1)" font-family="Liberation Sans, sans-serif" font-size="21.6" font-weight="bold" font-style="italic" stroke="#000" stroke-width="0.45">a</text><text transform="translate(610.84 118.00) scale(1.0419 1)" font-family="Liberation Sans, sans-serif" font-size="21.6" font-weight="bold" stroke="#000" stroke-width="0.45">= 14.2524 Å</text>
<text transform="translate(587.49 339.00) scale(1.0012 1)" font-family="Liberation Sans, sans-serif" font-size="21.6" font-weight="bold" font-style="italic" stroke="#000" stroke-width="0.45">a</text><text transform="translate(605.05 339.00) scale(1.0402 1)" font-family="Liberation Sans, sans-serif" font-size="21.6" font-weight="bold" stroke="#000" stroke-width="0.45">= 14.2690 Å</text>
<text transform="translate(597.10 535.50) scale(0.9569 1)" font-family="Liberation Sans, sans-serif" font-size="21.6" font-weight="bold" font-style="italic" stroke="#000" stroke-width="0.45">a</text><text transform="translate(615.45 535.50) scale(1.0395 1)" font-family="Liberation Sans, sans-serif" font-size="21.6" font-weight="bold" stroke="#000" stroke-width="0.45">= 7.1462 Å</text>
<text transform="translate(178.80 182.78) rotate(-90) scale(1.0470 1)" font-family="Liberation Sans, sans-serif" font-size="15.8" font-weight="bold" fill="#0e0e94" stroke="#0e0e94" stroke-width="0.45">s(331)</text>
<text transform="translate(253.00 176.47) rotate(-90) scale(1.0221 1)" font-family="Liberation Sans, sans-serif" font-size="15.8" font-weight="bold" fill="#0e0e94" stroke="#0e0e94" stroke-width="0.45">s(333)</text>
<text transform="translate(320.30 184.46) rotate(-90) scale(1.0199 1)" font-family="Liberation Sans, sans-serif" font-size="15.8" font-weight="bold" fill="#0e0e94" stroke="#0e0e94" stroke-width="0.45">s(442)</text>
<text transform="translate(433.50 185.16) rotate(-90) scale(1.0063 1)" font-family="Liberation Sans, sans-serif" font-size="15.8" font-weight="bold" fill="#0e0e94" stroke="#0e0e94" stroke-width="0.45">s(551)</text>
<text transform="translate(483.00 185.16) rotate(-90) scale(1.0063 1)" font-family="Liberation Sans, sans-serif" font-size="15.8" font-weight="bold" fill="#0e0e94" stroke="#0e0e94" stroke-width="0.45">s(553)</text>
<text transform="translate(182.70 384.56) rotate(-90) scale(1.0176 1)" font-family="Liberation Sans, sans-serif" font-size="15.8" font-weight="bold" fill="#0e0e94" stroke="#0e0e94" stroke-width="0.45">s(331)</text>
<text transform="translate(256.90 380.17) rotate(-90) scale(1.0334 1)" font-family="Liberation Sans, sans-serif" font-size="15.8" font-weight="bold" fill="#0e0e94" stroke="#0e0e94" stroke-width="0.45">s(333)</text>
<text transform="translate(324.50 388.87) rotate(-90) scale(1.0244 1)" font-family="Liberation Sans, sans-serif" font-size="15.8" font-weight="bold" fill="#0e0e94" stroke="#0e0e94" stroke-width="0.45">s(442)</text>
<text transform="translate(437.80 389.46) rotate(-90) scale(1.0199 1)" font-family="Liberation Sans, sans-serif" font-size="15.8" font-weight="bold" fill="#0e0e94" stroke="#0e0e94" stroke-width="0.45">s(551)</text>
<text transform="translate(487.80 389.46) rotate(-90) scale(1.0199 1)" font-family="Liberation Sans, sans-serif" font-size="15.8" font-weight="bold" fill="#0e0e94" stroke="#0e0e94" stroke-width="0.45">s(553)</text>
</g>
<path d="M80.6 177.4L80.6 185.4M84.1 179.4L77.1 183.4M84.1 183.4L77.1 179.4M126.8 178.4L126.8 186.4M130.3 180.4L123.3 184.4M130.3 184.4L123.3 180.4M206 172.5L206 180.5M209.5 174.5L202.5 178.5M209.5 178.5L202.5 174.5M266.3 177.6L266.3 185.6M269.8 179.6L262.8 183.6M269.8 183.6L262.8 179.6M85 383.7L85 391.7M88.5 385.7L81.5 389.7M88.5 389.7L81.5 385.7M128.3 384.4L128.3 392.4M131.8 386.4L124.8 390.4M131.8 390.4L124.8 386.4M203.3 380.5L203.3 388.5M206.8 382.5L199.8 386.5M206.8 386.5L199.8 382.5M261.2 382L261.2 390M264.7 384L257.7 388M264.7 388L257.7 384M192.6 172.7L200 172.7M194.5 169.5L198.2 175.9M198.2 169.5L194.5 175.9M192.6 181L200 181M194.5 177.8L198.2 184.2M198.2 177.8L194.5 184.2M235.5 172.7L242.9 172.7M237.3 169.5L241 175.9M241 169.5L237.3 175.9M235.5 181L242.9 181M237.3 177.8L241 184.2M241 177.8L237.3 184.2M189.6 380.3L197 380.3M191.5 377.1L195.2 383.5M195.2 377.1L191.5 383.5M189.6 388.5L197 388.5M191.5 385.3L195.2 391.7M195.2 385.3L191.5 391.7M239.7 376.4L247.1 376.4M241.6 373.2L245.2 379.6M245.2 373.2L241.6 379.6M239.7 385.4L247.1 385.4M241.6 382.2L245.2 388.6M245.2 382.2L241.6 388.6" stroke="#000" stroke-width="1.6" fill="none"/>
</svg>
</body></html>
